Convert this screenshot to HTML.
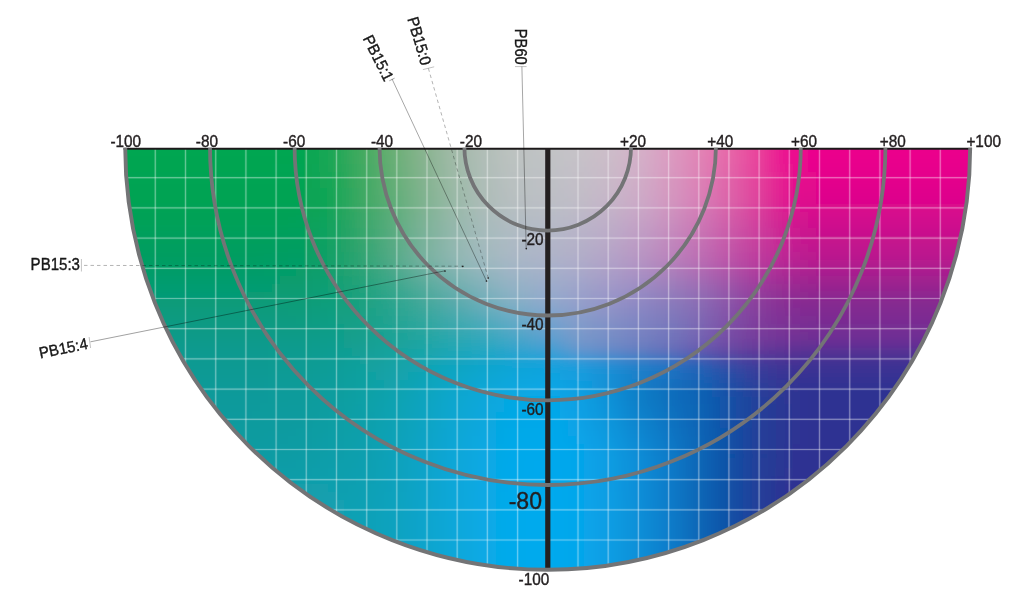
<!DOCTYPE html>
<html><head><meta charset="utf-8"><title>Pigment chart</title>
<style>
html,body{margin:0;padding:0;background:#fff;}
body{width:1024px;height:598px;overflow:hidden;}
svg{display:block;}
.m rect{width:9px;height:9px;}
text{font-family:"Liberation Sans",sans-serif;fill:#1a1a1a;}
.ax text{font-size:16.4px;fill:#231f20;stroke:#231f20;stroke-width:0.4px;}
.pb text{font-size:15.8px;}
</style></head><body>
<svg width="1024" height="598" viewBox="0 0 1024 598">
<defs>
<clipPath id="semi"><path d="M125.2 147.3 A422.5 422.5 0 0 0 970.2 147.3 Z"/></clipPath>
<clipPath id="below"><rect x="0" y="147.8" width="1024" height="460"/></clipPath>
<clipPath id="below2"><rect x="0" y="148.4" width="1024" height="460"/></clipPath>
<filter id="bl" x="-5%" y="-5%" width="110%" height="110%"><feGaussianBlur stdDeviation="5.5"/></filter>
</defs>
<rect width="1024" height="598" fill="#fff"/>
<g clip-path="url(#below2)"><g clip-path="url(#semi)">
<g class="m" filter="url(#bl)" shape-rendering="crispEdges">
<rect x="104" y="124" fill="#00a651"/><rect x="112" y="124" fill="#00a651"/><rect x="120" y="124" fill="#00a651"/><rect x="128" y="124" fill="#00a651"/><rect x="136" y="124" fill="#00a651"/><rect x="144" y="124" fill="#00a651"/><rect x="152" y="124" fill="#00a651"/><rect x="160" y="124" fill="#00a651"/><rect x="168" y="124" fill="#00a651"/><rect x="176" y="124" fill="#00a651"/><rect x="184" y="124" fill="#00a651"/><rect x="192" y="124" fill="#00a651"/><rect x="200" y="124" fill="#00a651"/><rect x="208" y="124" fill="#00a651"/><rect x="216" y="124" fill="#00a651"/><rect x="224" y="124" fill="#00a651"/><rect x="232" y="124" fill="#00a651"/><rect x="240" y="124" fill="#00a651"/><rect x="248" y="124" fill="#00a651"/><rect x="256" y="124" fill="#00a651"/><rect x="264" y="124" fill="#00a651"/><rect x="272" y="124" fill="#00a651"/><rect x="280" y="124" fill="#00a651"/><rect x="288" y="124" fill="#00a651"/><rect x="296" y="124" fill="#00a651"/><rect x="304" y="124" fill="#07a652"/><rect x="312" y="124" fill="#0ea753"/><rect x="320" y="124" fill="#15a754"/><rect x="328" y="124" fill="#1da756"/><rect x="336" y="124" fill="#27a858"/><rect x="344" y="124" fill="#31a95a"/><rect x="352" y="124" fill="#3baa5d"/><rect x="360" y="124" fill="#45ab61"/><rect x="368" y="124" fill="#4fac66"/><rect x="376" y="124" fill="#59ad6b"/><rect x="384" y="124" fill="#63ae71"/><rect x="392" y="124" fill="#6caf77"/><rect x="400" y="124" fill="#74b07e"/><rect x="408" y="124" fill="#7db285"/><rect x="416" y="124" fill="#85b38c"/><rect x="424" y="124" fill="#8cb593"/><rect x="432" y="124" fill="#93b699"/><rect x="440" y="124" fill="#9ab8a0"/><rect x="448" y="124" fill="#a0b9a6"/><rect x="456" y="124" fill="#a4baaa"/><rect x="464" y="124" fill="#a9bbaf"/><rect x="472" y="124" fill="#adbcb3"/><rect x="480" y="124" fill="#b1beb6"/><rect x="488" y="124" fill="#b4bfb9"/><rect x="496" y="124" fill="#b8c0bc"/><rect x="504" y="124" fill="#bbc2bf"/><rect x="512" y="124" fill="#bdc2c1"/><rect x="520" y="124" fill="#bec2c2"/><rect x="528" y="124" fill="#bfc3c3"/><rect x="536" y="124" fill="#c0c3c4"/><rect x="544" y="124" fill="#c1c3c5"/><rect x="552" y="124" fill="#c2c3c6"/><rect x="560" y="124" fill="#c4c2c6"/><rect x="568" y="124" fill="#c6c2c7"/><rect x="576" y="124" fill="#c7c2c8"/><rect x="584" y="124" fill="#c9c1c8"/><rect x="592" y="124" fill="#cabfc9"/><rect x="600" y="124" fill="#ccbec9"/><rect x="608" y="124" fill="#cebcc9"/><rect x="616" y="124" fill="#d0b9c9"/><rect x="624" y="124" fill="#d2b5c8"/><rect x="632" y="124" fill="#d4b2c8"/><rect x="640" y="124" fill="#d6adc7"/><rect x="648" y="124" fill="#d8a8c5"/><rect x="656" y="124" fill="#daa2c3"/><rect x="664" y="124" fill="#dc9cc1"/><rect x="672" y="124" fill="#dd96be"/><rect x="680" y="124" fill="#df90bb"/><rect x="688" y="124" fill="#e089b8"/><rect x="696" y="124" fill="#e283b5"/><rect x="704" y="124" fill="#e37bb2"/><rect x="712" y="124" fill="#e574ae"/><rect x="720" y="124" fill="#e66cab"/><rect x="728" y="124" fill="#e763a7"/><rect x="736" y="124" fill="#e859a3"/><rect x="744" y="124" fill="#e94fa0"/><rect x="752" y="124" fill="#ea459c"/><rect x="760" y="124" fill="#ea3998"/><rect x="768" y="124" fill="#eb2b95"/><rect x="776" y="124" fill="#eb1d92"/><rect x="784" y="124" fill="#ec0f8f"/><rect x="792" y="124" fill="#ec0a8e"/><rect x="800" y="124" fill="#ec068d"/><rect x="808" y="124" fill="#ec038d"/><rect x="816" y="124" fill="#ec008c"/><rect x="824" y="124" fill="#ec008c"/><rect x="832" y="124" fill="#ec008c"/><rect x="840" y="124" fill="#ec008c"/><rect x="848" y="124" fill="#ec008c"/><rect x="856" y="124" fill="#ec008c"/><rect x="864" y="124" fill="#ec008c"/><rect x="872" y="124" fill="#ec008c"/><rect x="880" y="124" fill="#ec008c"/><rect x="888" y="124" fill="#ec008c"/><rect x="896" y="124" fill="#ec008c"/><rect x="904" y="124" fill="#ec008c"/><rect x="912" y="124" fill="#ec008c"/><rect x="920" y="124" fill="#ec008c"/><rect x="928" y="124" fill="#ec008c"/><rect x="936" y="124" fill="#ec008c"/><rect x="944" y="124" fill="#ec008c"/><rect x="952" y="124" fill="#ec008c"/><rect x="960" y="124" fill="#ec008c"/><rect x="968" y="124" fill="#ec008c"/><rect x="976" y="124" fill="#ec008c"/><rect x="984" y="124" fill="#ec008c"/>
<rect x="104" y="132" fill="#00a651"/><rect x="112" y="132" fill="#00a651"/><rect x="120" y="132" fill="#00a651"/><rect x="128" y="132" fill="#00a651"/><rect x="136" y="132" fill="#00a651"/><rect x="144" y="132" fill="#00a651"/><rect x="152" y="132" fill="#00a651"/><rect x="160" y="132" fill="#00a651"/><rect x="168" y="132" fill="#00a651"/><rect x="176" y="132" fill="#00a651"/><rect x="184" y="132" fill="#00a651"/><rect x="192" y="132" fill="#00a651"/><rect x="200" y="132" fill="#00a651"/><rect x="208" y="132" fill="#00a651"/><rect x="216" y="132" fill="#00a651"/><rect x="224" y="132" fill="#00a651"/><rect x="232" y="132" fill="#00a651"/><rect x="240" y="132" fill="#00a651"/><rect x="248" y="132" fill="#00a651"/><rect x="256" y="132" fill="#00a651"/><rect x="264" y="132" fill="#00a651"/><rect x="272" y="132" fill="#00a651"/><rect x="280" y="132" fill="#00a651"/><rect x="288" y="132" fill="#00a651"/><rect x="296" y="132" fill="#00a651"/><rect x="304" y="132" fill="#07a652"/><rect x="312" y="132" fill="#0ea753"/><rect x="320" y="132" fill="#15a754"/><rect x="328" y="132" fill="#1da756"/><rect x="336" y="132" fill="#27a858"/><rect x="344" y="132" fill="#31a95a"/><rect x="352" y="132" fill="#3baa5d"/><rect x="360" y="132" fill="#45ab61"/><rect x="368" y="132" fill="#4fac66"/><rect x="376" y="132" fill="#59ad6b"/><rect x="384" y="132" fill="#63ae71"/><rect x="392" y="132" fill="#6caf77"/><rect x="400" y="132" fill="#74b07e"/><rect x="408" y="132" fill="#7db285"/><rect x="416" y="132" fill="#85b38c"/><rect x="424" y="132" fill="#8cb593"/><rect x="432" y="132" fill="#93b699"/><rect x="440" y="132" fill="#9ab8a0"/><rect x="448" y="132" fill="#a0b9a6"/><rect x="456" y="132" fill="#a4baaa"/><rect x="464" y="132" fill="#a9bbaf"/><rect x="472" y="132" fill="#adbcb3"/><rect x="480" y="132" fill="#b1beb6"/><rect x="488" y="132" fill="#b4bfb9"/><rect x="496" y="132" fill="#b8c0bc"/><rect x="504" y="132" fill="#bbc2bf"/><rect x="512" y="132" fill="#bdc2c1"/><rect x="520" y="132" fill="#bec2c2"/><rect x="528" y="132" fill="#bfc3c3"/><rect x="536" y="132" fill="#c0c3c4"/><rect x="544" y="132" fill="#c1c3c5"/><rect x="552" y="132" fill="#c2c3c6"/><rect x="560" y="132" fill="#c4c2c6"/><rect x="568" y="132" fill="#c6c2c7"/><rect x="576" y="132" fill="#c7c2c8"/><rect x="584" y="132" fill="#c9c1c8"/><rect x="592" y="132" fill="#cabfc9"/><rect x="600" y="132" fill="#ccbec9"/><rect x="608" y="132" fill="#cebcc9"/><rect x="616" y="132" fill="#d0b9c9"/><rect x="624" y="132" fill="#d2b5c8"/><rect x="632" y="132" fill="#d4b2c8"/><rect x="640" y="132" fill="#d6adc7"/><rect x="648" y="132" fill="#d8a8c5"/><rect x="656" y="132" fill="#daa2c3"/><rect x="664" y="132" fill="#dc9cc1"/><rect x="672" y="132" fill="#dd96be"/><rect x="680" y="132" fill="#df90bb"/><rect x="688" y="132" fill="#e089b8"/><rect x="696" y="132" fill="#e283b5"/><rect x="704" y="132" fill="#e37bb2"/><rect x="712" y="132" fill="#e574ae"/><rect x="720" y="132" fill="#e66cab"/><rect x="728" y="132" fill="#e763a7"/><rect x="736" y="132" fill="#e859a3"/><rect x="744" y="132" fill="#e94fa0"/><rect x="752" y="132" fill="#ea459c"/><rect x="760" y="132" fill="#ea3998"/><rect x="768" y="132" fill="#eb2b95"/><rect x="776" y="132" fill="#eb1d92"/><rect x="784" y="132" fill="#ec0f8f"/><rect x="792" y="132" fill="#ec0a8e"/><rect x="800" y="132" fill="#ec068d"/><rect x="808" y="132" fill="#ec038d"/><rect x="816" y="132" fill="#ec008c"/><rect x="824" y="132" fill="#ec008c"/><rect x="832" y="132" fill="#ec008c"/><rect x="840" y="132" fill="#ec008c"/><rect x="848" y="132" fill="#ec008c"/><rect x="856" y="132" fill="#ec008c"/><rect x="864" y="132" fill="#ec008c"/><rect x="872" y="132" fill="#ec008c"/><rect x="880" y="132" fill="#ec008c"/><rect x="888" y="132" fill="#ec008c"/><rect x="896" y="132" fill="#ec008c"/><rect x="904" y="132" fill="#ec008c"/><rect x="912" y="132" fill="#ec008c"/><rect x="920" y="132" fill="#ec008c"/><rect x="928" y="132" fill="#ec008c"/><rect x="936" y="132" fill="#ec008c"/><rect x="944" y="132" fill="#ec008c"/><rect x="952" y="132" fill="#ec008c"/><rect x="960" y="132" fill="#ec008c"/><rect x="968" y="132" fill="#ec008c"/><rect x="976" y="132" fill="#ec008c"/><rect x="984" y="132" fill="#ec008c"/>
<rect x="104" y="140" fill="#00a651"/><rect x="112" y="140" fill="#00a651"/><rect x="120" y="140" fill="#00a651"/><rect x="128" y="140" fill="#00a651"/><rect x="136" y="140" fill="#00a651"/><rect x="144" y="140" fill="#00a651"/><rect x="152" y="140" fill="#00a651"/><rect x="160" y="140" fill="#00a651"/><rect x="168" y="140" fill="#00a651"/><rect x="176" y="140" fill="#00a651"/><rect x="184" y="140" fill="#00a651"/><rect x="192" y="140" fill="#00a651"/><rect x="200" y="140" fill="#00a651"/><rect x="208" y="140" fill="#00a651"/><rect x="216" y="140" fill="#00a651"/><rect x="224" y="140" fill="#00a651"/><rect x="232" y="140" fill="#00a651"/><rect x="240" y="140" fill="#00a651"/><rect x="248" y="140" fill="#00a651"/><rect x="256" y="140" fill="#00a651"/><rect x="264" y="140" fill="#00a651"/><rect x="272" y="140" fill="#00a651"/><rect x="280" y="140" fill="#00a651"/><rect x="288" y="140" fill="#00a651"/><rect x="296" y="140" fill="#00a651"/><rect x="304" y="140" fill="#07a652"/><rect x="312" y="140" fill="#0ea753"/><rect x="320" y="140" fill="#15a754"/><rect x="328" y="140" fill="#1da756"/><rect x="336" y="140" fill="#27a858"/><rect x="344" y="140" fill="#31a95a"/><rect x="352" y="140" fill="#3baa5d"/><rect x="360" y="140" fill="#45ab61"/><rect x="368" y="140" fill="#4fac66"/><rect x="376" y="140" fill="#59ad6b"/><rect x="384" y="140" fill="#63ae71"/><rect x="392" y="140" fill="#6caf77"/><rect x="400" y="140" fill="#74b07e"/><rect x="408" y="140" fill="#7db285"/><rect x="416" y="140" fill="#85b38c"/><rect x="424" y="140" fill="#8cb593"/><rect x="432" y="140" fill="#93b699"/><rect x="440" y="140" fill="#9ab8a0"/><rect x="448" y="140" fill="#a0b9a6"/><rect x="456" y="140" fill="#a4baaa"/><rect x="464" y="140" fill="#a9bbaf"/><rect x="472" y="140" fill="#adbcb3"/><rect x="480" y="140" fill="#b1beb6"/><rect x="488" y="140" fill="#b4bfb9"/><rect x="496" y="140" fill="#b8c0bc"/><rect x="504" y="140" fill="#bbc2bf"/><rect x="512" y="140" fill="#bdc2c1"/><rect x="520" y="140" fill="#bec2c2"/><rect x="528" y="140" fill="#bfc3c3"/><rect x="536" y="140" fill="#c0c3c4"/><rect x="544" y="140" fill="#c1c3c5"/><rect x="552" y="140" fill="#c2c3c6"/><rect x="560" y="140" fill="#c4c2c6"/><rect x="568" y="140" fill="#c6c2c7"/><rect x="576" y="140" fill="#c7c2c8"/><rect x="584" y="140" fill="#c9c1c8"/><rect x="592" y="140" fill="#cabfc9"/><rect x="600" y="140" fill="#ccbec9"/><rect x="608" y="140" fill="#cebcc9"/><rect x="616" y="140" fill="#d0b9c9"/><rect x="624" y="140" fill="#d2b5c8"/><rect x="632" y="140" fill="#d4b2c8"/><rect x="640" y="140" fill="#d6adc7"/><rect x="648" y="140" fill="#d8a8c5"/><rect x="656" y="140" fill="#daa2c3"/><rect x="664" y="140" fill="#dc9cc1"/><rect x="672" y="140" fill="#dd96be"/><rect x="680" y="140" fill="#df90bb"/><rect x="688" y="140" fill="#e089b8"/><rect x="696" y="140" fill="#e283b5"/><rect x="704" y="140" fill="#e37bb2"/><rect x="712" y="140" fill="#e574ae"/><rect x="720" y="140" fill="#e66cab"/><rect x="728" y="140" fill="#e763a7"/><rect x="736" y="140" fill="#e859a3"/><rect x="744" y="140" fill="#e94fa0"/><rect x="752" y="140" fill="#ea459c"/><rect x="760" y="140" fill="#ea3998"/><rect x="768" y="140" fill="#eb2b95"/><rect x="776" y="140" fill="#eb1d92"/><rect x="784" y="140" fill="#ec0f8f"/><rect x="792" y="140" fill="#ec0a8e"/><rect x="800" y="140" fill="#ec068d"/><rect x="808" y="140" fill="#ec038d"/><rect x="816" y="140" fill="#ec008c"/><rect x="824" y="140" fill="#ec008c"/><rect x="832" y="140" fill="#ec008c"/><rect x="840" y="140" fill="#ec008c"/><rect x="848" y="140" fill="#ec008c"/><rect x="856" y="140" fill="#ec008c"/><rect x="864" y="140" fill="#ec008c"/><rect x="872" y="140" fill="#ec008c"/><rect x="880" y="140" fill="#ec008c"/><rect x="888" y="140" fill="#ec008c"/><rect x="896" y="140" fill="#ec008c"/><rect x="904" y="140" fill="#ec008c"/><rect x="912" y="140" fill="#ec008c"/><rect x="920" y="140" fill="#ec008c"/><rect x="928" y="140" fill="#ec008c"/><rect x="936" y="140" fill="#ec008c"/><rect x="944" y="140" fill="#ec008c"/><rect x="952" y="140" fill="#ec008c"/><rect x="960" y="140" fill="#ec008c"/><rect x="968" y="140" fill="#ec008c"/><rect x="976" y="140" fill="#ec008c"/><rect x="984" y="140" fill="#ec008c"/>
<rect x="104" y="148" fill="#00a651"/><rect x="112" y="148" fill="#00a651"/><rect x="120" y="148" fill="#00a651"/><rect x="128" y="148" fill="#00a651"/><rect x="136" y="148" fill="#00a651"/><rect x="144" y="148" fill="#00a651"/><rect x="152" y="148" fill="#00a651"/><rect x="160" y="148" fill="#00a651"/><rect x="168" y="148" fill="#00a651"/><rect x="176" y="148" fill="#00a651"/><rect x="184" y="148" fill="#00a651"/><rect x="192" y="148" fill="#00a651"/><rect x="200" y="148" fill="#00a651"/><rect x="208" y="148" fill="#00a651"/><rect x="216" y="148" fill="#00a651"/><rect x="224" y="148" fill="#00a651"/><rect x="232" y="148" fill="#00a651"/><rect x="240" y="148" fill="#00a651"/><rect x="248" y="148" fill="#00a651"/><rect x="256" y="148" fill="#00a651"/><rect x="264" y="148" fill="#00a651"/><rect x="272" y="148" fill="#00a651"/><rect x="280" y="148" fill="#00a651"/><rect x="288" y="148" fill="#00a651"/><rect x="296" y="148" fill="#00a651"/><rect x="304" y="148" fill="#07a652"/><rect x="312" y="148" fill="#0ea653"/><rect x="320" y="148" fill="#15a754"/><rect x="328" y="148" fill="#1ca756"/><rect x="336" y="148" fill="#26a858"/><rect x="344" y="148" fill="#31a95b"/><rect x="352" y="148" fill="#3baa5d"/><rect x="360" y="148" fill="#45aa61"/><rect x="368" y="148" fill="#4fac66"/><rect x="376" y="148" fill="#59ad6b"/><rect x="384" y="148" fill="#63ae71"/><rect x="392" y="148" fill="#6caf77"/><rect x="400" y="148" fill="#74b07e"/><rect x="408" y="148" fill="#7cb285"/><rect x="416" y="148" fill="#85b38c"/><rect x="424" y="148" fill="#8cb593"/><rect x="432" y="148" fill="#93b699"/><rect x="440" y="148" fill="#99b8a0"/><rect x="448" y="148" fill="#a0b9a6"/><rect x="456" y="148" fill="#a4baaa"/><rect x="464" y="148" fill="#a8bbaf"/><rect x="472" y="148" fill="#adbcb3"/><rect x="480" y="148" fill="#b1beb7"/><rect x="488" y="148" fill="#b4bfb9"/><rect x="496" y="148" fill="#b7c0bc"/><rect x="504" y="148" fill="#bbc2bf"/><rect x="512" y="148" fill="#bdc2c1"/><rect x="520" y="148" fill="#bec2c2"/><rect x="528" y="148" fill="#bfc2c3"/><rect x="536" y="148" fill="#c0c3c4"/><rect x="544" y="148" fill="#c1c3c5"/><rect x="552" y="148" fill="#c2c3c6"/><rect x="560" y="148" fill="#c4c2c6"/><rect x="568" y="148" fill="#c5c2c7"/><rect x="576" y="148" fill="#c7c2c8"/><rect x="584" y="148" fill="#c8c0c8"/><rect x="592" y="148" fill="#cabfc8"/><rect x="600" y="148" fill="#ccbec9"/><rect x="608" y="148" fill="#cdbcc9"/><rect x="616" y="148" fill="#cfb8c9"/><rect x="624" y="148" fill="#d1b5c8"/><rect x="632" y="148" fill="#d4b1c8"/><rect x="640" y="148" fill="#d6adc7"/><rect x="648" y="148" fill="#d7a7c5"/><rect x="656" y="148" fill="#d9a2c3"/><rect x="664" y="148" fill="#db9cc1"/><rect x="672" y="148" fill="#dd96be"/><rect x="680" y="148" fill="#de90bb"/><rect x="688" y="148" fill="#e089b8"/><rect x="696" y="148" fill="#e283b5"/><rect x="704" y="148" fill="#e37bb2"/><rect x="712" y="148" fill="#e473ae"/><rect x="720" y="148" fill="#e66cab"/><rect x="728" y="148" fill="#e763a7"/><rect x="736" y="148" fill="#e859a3"/><rect x="744" y="148" fill="#e84fa0"/><rect x="752" y="148" fill="#e9459c"/><rect x="760" y="148" fill="#ea3998"/><rect x="768" y="148" fill="#ea2b95"/><rect x="776" y="148" fill="#eb1e92"/><rect x="784" y="148" fill="#eb108f"/><rect x="792" y="148" fill="#ec0a8e"/><rect x="800" y="148" fill="#eb078d"/><rect x="808" y="148" fill="#eb038d"/><rect x="816" y="148" fill="#eb008c"/><rect x="824" y="148" fill="#eb008c"/><rect x="832" y="148" fill="#eb008c"/><rect x="840" y="148" fill="#eb008c"/><rect x="848" y="148" fill="#eb008c"/><rect x="856" y="148" fill="#eb008c"/><rect x="864" y="148" fill="#eb008c"/><rect x="872" y="148" fill="#eb008c"/><rect x="880" y="148" fill="#eb008c"/><rect x="888" y="148" fill="#eb008c"/><rect x="896" y="148" fill="#eb008c"/><rect x="904" y="148" fill="#eb008c"/><rect x="912" y="148" fill="#eb008c"/><rect x="920" y="148" fill="#eb008c"/><rect x="928" y="148" fill="#eb008c"/><rect x="936" y="148" fill="#eb008c"/><rect x="944" y="148" fill="#eb008c"/><rect x="952" y="148" fill="#eb008c"/><rect x="960" y="148" fill="#eb008c"/><rect x="968" y="148" fill="#eb008c"/><rect x="976" y="148" fill="#eb008c"/><rect x="984" y="148" fill="#eb008c"/>
<rect x="104" y="156" fill="#00a551"/><rect x="112" y="156" fill="#00a551"/><rect x="120" y="156" fill="#00a551"/><rect x="128" y="156" fill="#00a551"/><rect x="136" y="156" fill="#00a551"/><rect x="144" y="156" fill="#00a551"/><rect x="152" y="156" fill="#00a551"/><rect x="160" y="156" fill="#00a551"/><rect x="168" y="156" fill="#00a551"/><rect x="176" y="156" fill="#00a551"/><rect x="184" y="156" fill="#00a551"/><rect x="192" y="156" fill="#00a551"/><rect x="200" y="156" fill="#00a551"/><rect x="208" y="156" fill="#00a551"/><rect x="216" y="156" fill="#00a551"/><rect x="224" y="156" fill="#00a551"/><rect x="232" y="156" fill="#00a551"/><rect x="240" y="156" fill="#00a551"/><rect x="248" y="156" fill="#00a551"/><rect x="256" y="156" fill="#00a551"/><rect x="264" y="156" fill="#00a551"/><rect x="272" y="156" fill="#00a551"/><rect x="280" y="156" fill="#01a551"/><rect x="288" y="156" fill="#01a551"/><rect x="296" y="156" fill="#01a551"/><rect x="304" y="156" fill="#07a652"/><rect x="312" y="156" fill="#0ea653"/><rect x="320" y="156" fill="#14a654"/><rect x="328" y="156" fill="#1ba756"/><rect x="336" y="156" fill="#25a858"/><rect x="344" y="156" fill="#30a85b"/><rect x="352" y="156" fill="#3aa95e"/><rect x="360" y="156" fill="#44aa61"/><rect x="368" y="156" fill="#4eab67"/><rect x="376" y="156" fill="#58ac6c"/><rect x="384" y="156" fill="#62ae71"/><rect x="392" y="156" fill="#6aaf78"/><rect x="400" y="156" fill="#73b07e"/><rect x="408" y="156" fill="#7bb185"/><rect x="416" y="156" fill="#83b38c"/><rect x="424" y="156" fill="#8ab493"/><rect x="432" y="156" fill="#91b699"/><rect x="440" y="156" fill="#98b8a0"/><rect x="448" y="156" fill="#9eb9a6"/><rect x="456" y="156" fill="#a3baaa"/><rect x="464" y="156" fill="#a7bbaf"/><rect x="472" y="156" fill="#acbcb3"/><rect x="480" y="156" fill="#b0bdb7"/><rect x="488" y="156" fill="#b3bfba"/><rect x="496" y="156" fill="#b7c0bc"/><rect x="504" y="156" fill="#bac1bf"/><rect x="512" y="156" fill="#bcc2c1"/><rect x="520" y="156" fill="#bdc2c2"/><rect x="528" y="156" fill="#bec2c3"/><rect x="536" y="156" fill="#bfc2c4"/><rect x="544" y="156" fill="#c0c2c5"/><rect x="552" y="156" fill="#c1c2c6"/><rect x="560" y="156" fill="#c3c2c6"/><rect x="568" y="156" fill="#c4c1c7"/><rect x="576" y="156" fill="#c6c1c8"/><rect x="584" y="156" fill="#c7bfc8"/><rect x="592" y="156" fill="#c9bec8"/><rect x="600" y="156" fill="#cabcc9"/><rect x="608" y="156" fill="#ccbbc9"/><rect x="616" y="156" fill="#ceb7c8"/><rect x="624" y="156" fill="#d0b4c8"/><rect x="632" y="156" fill="#d2b0c8"/><rect x="640" y="156" fill="#d4acc7"/><rect x="648" y="156" fill="#d6a7c5"/><rect x="656" y="156" fill="#d8a1c3"/><rect x="664" y="156" fill="#da9cc1"/><rect x="672" y="156" fill="#db95be"/><rect x="680" y="156" fill="#dd8fbb"/><rect x="688" y="156" fill="#de89b8"/><rect x="696" y="156" fill="#e082b5"/><rect x="704" y="156" fill="#e17ab2"/><rect x="712" y="156" fill="#e373ae"/><rect x="720" y="156" fill="#e46bab"/><rect x="728" y="156" fill="#e563a7"/><rect x="736" y="156" fill="#e659a4"/><rect x="744" y="156" fill="#e74fa0"/><rect x="752" y="156" fill="#e7459c"/><rect x="760" y="156" fill="#e83999"/><rect x="768" y="156" fill="#e92c95"/><rect x="776" y="156" fill="#e91e92"/><rect x="784" y="156" fill="#e9118f"/><rect x="792" y="156" fill="#ea0b8e"/><rect x="800" y="156" fill="#e9088d"/><rect x="808" y="156" fill="#e9058d"/><rect x="816" y="156" fill="#e9018c"/><rect x="824" y="156" fill="#e9018c"/><rect x="832" y="156" fill="#e9018c"/><rect x="840" y="156" fill="#e9018c"/><rect x="848" y="156" fill="#e9018c"/><rect x="856" y="156" fill="#e9018c"/><rect x="864" y="156" fill="#e9018c"/><rect x="872" y="156" fill="#e9018c"/><rect x="880" y="156" fill="#e9018c"/><rect x="888" y="156" fill="#e9018c"/><rect x="896" y="156" fill="#e9018c"/><rect x="904" y="156" fill="#e9018c"/><rect x="912" y="156" fill="#e9018c"/><rect x="920" y="156" fill="#e9018c"/><rect x="928" y="156" fill="#e9018c"/><rect x="936" y="156" fill="#e9018c"/><rect x="944" y="156" fill="#e9018c"/><rect x="952" y="156" fill="#e9018c"/><rect x="960" y="156" fill="#e9018c"/><rect x="968" y="156" fill="#e9018c"/><rect x="976" y="156" fill="#e9018c"/><rect x="984" y="156" fill="#e9018c"/>
<rect x="104" y="164" fill="#00a551"/><rect x="112" y="164" fill="#00a551"/><rect x="120" y="164" fill="#00a551"/><rect x="128" y="164" fill="#00a551"/><rect x="136" y="164" fill="#00a551"/><rect x="144" y="164" fill="#00a551"/><rect x="152" y="164" fill="#00a551"/><rect x="160" y="164" fill="#00a551"/><rect x="168" y="164" fill="#00a551"/><rect x="176" y="164" fill="#00a551"/><rect x="184" y="164" fill="#00a551"/><rect x="192" y="164" fill="#00a551"/><rect x="200" y="164" fill="#00a551"/><rect x="208" y="164" fill="#00a551"/><rect x="216" y="164" fill="#00a551"/><rect x="224" y="164" fill="#00a551"/><rect x="232" y="164" fill="#00a551"/><rect x="240" y="164" fill="#00a551"/><rect x="248" y="164" fill="#00a551"/><rect x="256" y="164" fill="#00a551"/><rect x="264" y="164" fill="#01a551"/><rect x="272" y="164" fill="#01a552"/><rect x="280" y="164" fill="#01a552"/><rect x="288" y="164" fill="#01a552"/><rect x="296" y="164" fill="#01a552"/><rect x="304" y="164" fill="#07a553"/><rect x="312" y="164" fill="#0da654"/><rect x="320" y="164" fill="#13a655"/><rect x="328" y="164" fill="#1aa656"/><rect x="336" y="164" fill="#25a759"/><rect x="344" y="164" fill="#2fa85b"/><rect x="352" y="164" fill="#39a95e"/><rect x="360" y="164" fill="#43aa62"/><rect x="368" y="164" fill="#4cab67"/><rect x="376" y="164" fill="#56ac6c"/><rect x="384" y="164" fill="#60ad71"/><rect x="392" y="164" fill="#69af78"/><rect x="400" y="164" fill="#71b07f"/><rect x="408" y="164" fill="#79b185"/><rect x="416" y="164" fill="#82b38c"/><rect x="424" y="164" fill="#89b493"/><rect x="432" y="164" fill="#90b699"/><rect x="440" y="164" fill="#97b7a0"/><rect x="448" y="164" fill="#9db9a6"/><rect x="456" y="164" fill="#a2baaa"/><rect x="464" y="164" fill="#a6bbaf"/><rect x="472" y="164" fill="#abbcb3"/><rect x="480" y="164" fill="#afbdb7"/><rect x="488" y="164" fill="#b3beba"/><rect x="496" y="164" fill="#b6bfbc"/><rect x="504" y="164" fill="#b9c1bf"/><rect x="512" y="164" fill="#bbc1c1"/><rect x="520" y="164" fill="#bcc1c2"/><rect x="528" y="164" fill="#bdc1c3"/><rect x="536" y="164" fill="#bec1c4"/><rect x="544" y="164" fill="#bfc2c5"/><rect x="552" y="164" fill="#c1c1c6"/><rect x="560" y="164" fill="#c2c1c6"/><rect x="568" y="164" fill="#c3c0c7"/><rect x="576" y="164" fill="#c5c0c8"/><rect x="584" y="164" fill="#c6bec8"/><rect x="592" y="164" fill="#c8bdc8"/><rect x="600" y="164" fill="#c9bbc8"/><rect x="608" y="164" fill="#cbb9c9"/><rect x="616" y="164" fill="#cdb6c8"/><rect x="624" y="164" fill="#cfb3c8"/><rect x="632" y="164" fill="#d1afc8"/><rect x="640" y="164" fill="#d3abc7"/><rect x="648" y="164" fill="#d5a6c5"/><rect x="656" y="164" fill="#d7a0c3"/><rect x="664" y="164" fill="#d89bc1"/><rect x="672" y="164" fill="#da95be"/><rect x="680" y="164" fill="#db8ebb"/><rect x="688" y="164" fill="#dd88b8"/><rect x="696" y="164" fill="#de82b5"/><rect x="704" y="164" fill="#e07ab2"/><rect x="712" y="164" fill="#e172ae"/><rect x="720" y="164" fill="#e26aab"/><rect x="728" y="164" fill="#e362a7"/><rect x="736" y="164" fill="#e458a4"/><rect x="744" y="164" fill="#e54ea0"/><rect x="752" y="164" fill="#e6459c"/><rect x="760" y="164" fill="#e63999"/><rect x="768" y="164" fill="#e72c95"/><rect x="776" y="164" fill="#e71f92"/><rect x="784" y="164" fill="#e8128f"/><rect x="792" y="164" fill="#e80c8e"/><rect x="800" y="164" fill="#e7098d"/><rect x="808" y="164" fill="#e7068d"/><rect x="816" y="164" fill="#e7028c"/><rect x="824" y="164" fill="#e7028c"/><rect x="832" y="164" fill="#e7028c"/><rect x="840" y="164" fill="#e7028c"/><rect x="848" y="164" fill="#e7028c"/><rect x="856" y="164" fill="#e7028c"/><rect x="864" y="164" fill="#e7028c"/><rect x="872" y="164" fill="#e7028c"/><rect x="880" y="164" fill="#e7028c"/><rect x="888" y="164" fill="#e7028c"/><rect x="896" y="164" fill="#e7028c"/><rect x="904" y="164" fill="#e7028c"/><rect x="912" y="164" fill="#e7028c"/><rect x="920" y="164" fill="#e7028c"/><rect x="928" y="164" fill="#e7028c"/><rect x="936" y="164" fill="#e7028c"/><rect x="944" y="164" fill="#e7028c"/><rect x="952" y="164" fill="#e7028c"/><rect x="960" y="164" fill="#e7028c"/><rect x="968" y="164" fill="#e7028c"/><rect x="976" y="164" fill="#e7028c"/><rect x="984" y="164" fill="#e7028c"/>
<rect x="104" y="172" fill="#00a452"/><rect x="112" y="172" fill="#00a452"/><rect x="120" y="172" fill="#00a452"/><rect x="128" y="172" fill="#00a452"/><rect x="136" y="172" fill="#00a452"/><rect x="144" y="172" fill="#00a452"/><rect x="152" y="172" fill="#00a452"/><rect x="160" y="172" fill="#00a452"/><rect x="168" y="172" fill="#00a452"/><rect x="176" y="172" fill="#00a452"/><rect x="184" y="172" fill="#00a452"/><rect x="192" y="172" fill="#00a452"/><rect x="200" y="172" fill="#00a452"/><rect x="208" y="172" fill="#00a452"/><rect x="216" y="172" fill="#00a452"/><rect x="224" y="172" fill="#00a452"/><rect x="232" y="172" fill="#00a452"/><rect x="240" y="172" fill="#00a452"/><rect x="248" y="172" fill="#00a452"/><rect x="256" y="172" fill="#00a452"/><rect x="264" y="172" fill="#01a452"/><rect x="272" y="172" fill="#01a452"/><rect x="280" y="172" fill="#01a452"/><rect x="288" y="172" fill="#02a452"/><rect x="296" y="172" fill="#02a452"/><rect x="304" y="172" fill="#08a553"/><rect x="312" y="172" fill="#0da554"/><rect x="320" y="172" fill="#13a655"/><rect x="328" y="172" fill="#19a656"/><rect x="336" y="172" fill="#24a759"/><rect x="344" y="172" fill="#2ea85c"/><rect x="352" y="172" fill="#38a95f"/><rect x="360" y="172" fill="#42aa63"/><rect x="368" y="172" fill="#4bab68"/><rect x="376" y="172" fill="#55ac6d"/><rect x="384" y="172" fill="#5ead72"/><rect x="392" y="172" fill="#67ae78"/><rect x="400" y="172" fill="#70b07f"/><rect x="408" y="172" fill="#78b185"/><rect x="416" y="172" fill="#80b28c"/><rect x="424" y="172" fill="#87b493"/><rect x="432" y="172" fill="#8eb699"/><rect x="440" y="172" fill="#95b7a0"/><rect x="448" y="172" fill="#9cb9a6"/><rect x="456" y="172" fill="#a1baaa"/><rect x="464" y="172" fill="#a5bbaf"/><rect x="472" y="172" fill="#aabcb3"/><rect x="480" y="172" fill="#afbdb7"/><rect x="488" y="172" fill="#b2beba"/><rect x="496" y="172" fill="#b5bfbd"/><rect x="504" y="172" fill="#b9c0bf"/><rect x="512" y="172" fill="#bac1c1"/><rect x="520" y="172" fill="#bbc1c2"/><rect x="528" y="172" fill="#bcc1c3"/><rect x="536" y="172" fill="#bdc1c4"/><rect x="544" y="172" fill="#bec1c5"/><rect x="552" y="172" fill="#c0c0c6"/><rect x="560" y="172" fill="#c1c0c6"/><rect x="568" y="172" fill="#c3bfc7"/><rect x="576" y="172" fill="#c4bfc7"/><rect x="584" y="172" fill="#c5bdc8"/><rect x="592" y="172" fill="#c7bcc8"/><rect x="600" y="172" fill="#c8bac8"/><rect x="608" y="172" fill="#cab8c8"/><rect x="616" y="172" fill="#ccb5c8"/><rect x="624" y="172" fill="#ceb2c8"/><rect x="632" y="172" fill="#d0aec8"/><rect x="640" y="172" fill="#d2aac6"/><rect x="648" y="172" fill="#d3a5c4"/><rect x="656" y="172" fill="#d5a0c2"/><rect x="664" y="172" fill="#d79ac0"/><rect x="672" y="172" fill="#d894be"/><rect x="680" y="172" fill="#da8ebb"/><rect x="688" y="172" fill="#db87b8"/><rect x="696" y="172" fill="#dd81b6"/><rect x="704" y="172" fill="#de79b2"/><rect x="712" y="172" fill="#df71af"/><rect x="720" y="172" fill="#e06aab"/><rect x="728" y="172" fill="#e161a8"/><rect x="736" y="172" fill="#e258a4"/><rect x="744" y="172" fill="#e34ea0"/><rect x="752" y="172" fill="#e4449c"/><rect x="760" y="172" fill="#e43999"/><rect x="768" y="172" fill="#e52d96"/><rect x="776" y="172" fill="#e52092"/><rect x="784" y="172" fill="#e6138f"/><rect x="792" y="172" fill="#e60e8e"/><rect x="800" y="172" fill="#e50a8d"/><rect x="808" y="172" fill="#e5078d"/><rect x="816" y="172" fill="#e5038c"/><rect x="824" y="172" fill="#e5038c"/><rect x="832" y="172" fill="#e5038c"/><rect x="840" y="172" fill="#e5038c"/><rect x="848" y="172" fill="#e5038c"/><rect x="856" y="172" fill="#e5038c"/><rect x="864" y="172" fill="#e5038c"/><rect x="872" y="172" fill="#e5038c"/><rect x="880" y="172" fill="#e5038c"/><rect x="888" y="172" fill="#e5038c"/><rect x="896" y="172" fill="#e5038c"/><rect x="904" y="172" fill="#e5038c"/><rect x="912" y="172" fill="#e5038c"/><rect x="920" y="172" fill="#e5038c"/><rect x="928" y="172" fill="#e5038c"/><rect x="936" y="172" fill="#e5038c"/><rect x="944" y="172" fill="#e5038c"/><rect x="952" y="172" fill="#e5038c"/><rect x="960" y="172" fill="#e5038c"/><rect x="968" y="172" fill="#e5038c"/><rect x="976" y="172" fill="#e5038c"/><rect x="984" y="172" fill="#e5038c"/>
<rect x="104" y="180" fill="#00a452"/><rect x="112" y="180" fill="#00a452"/><rect x="120" y="180" fill="#00a452"/><rect x="128" y="180" fill="#00a452"/><rect x="136" y="180" fill="#00a452"/><rect x="144" y="180" fill="#00a452"/><rect x="152" y="180" fill="#00a452"/><rect x="160" y="180" fill="#00a452"/><rect x="168" y="180" fill="#00a452"/><rect x="176" y="180" fill="#00a452"/><rect x="184" y="180" fill="#00a452"/><rect x="192" y="180" fill="#00a452"/><rect x="200" y="180" fill="#00a452"/><rect x="208" y="180" fill="#00a452"/><rect x="216" y="180" fill="#00a452"/><rect x="224" y="180" fill="#00a452"/><rect x="232" y="180" fill="#00a452"/><rect x="240" y="180" fill="#00a452"/><rect x="248" y="180" fill="#00a452"/><rect x="256" y="180" fill="#01a452"/><rect x="264" y="180" fill="#01a452"/><rect x="272" y="180" fill="#01a452"/><rect x="280" y="180" fill="#02a452"/><rect x="288" y="180" fill="#02a452"/><rect x="296" y="180" fill="#03a452"/><rect x="304" y="180" fill="#08a453"/><rect x="312" y="180" fill="#0da554"/><rect x="320" y="180" fill="#12a555"/><rect x="328" y="180" fill="#18a656"/><rect x="336" y="180" fill="#23a759"/><rect x="344" y="180" fill="#2da75c"/><rect x="352" y="180" fill="#37a85f"/><rect x="360" y="180" fill="#41a963"/><rect x="368" y="180" fill="#4aab68"/><rect x="376" y="180" fill="#53ac6d"/><rect x="384" y="180" fill="#5dad72"/><rect x="392" y="180" fill="#66ae78"/><rect x="400" y="180" fill="#6eb07f"/><rect x="408" y="180" fill="#76b185"/><rect x="416" y="180" fill="#7fb28c"/><rect x="424" y="180" fill="#86b492"/><rect x="432" y="180" fill="#8db699"/><rect x="440" y="180" fill="#94b79f"/><rect x="448" y="180" fill="#9ab9a5"/><rect x="456" y="180" fill="#9fbaaa"/><rect x="464" y="180" fill="#a5bbaf"/><rect x="472" y="180" fill="#aabcb3"/><rect x="480" y="180" fill="#aebdb7"/><rect x="488" y="180" fill="#b1beba"/><rect x="496" y="180" fill="#b4bfbd"/><rect x="504" y="180" fill="#b8c0bf"/><rect x="512" y="180" fill="#b9c0c1"/><rect x="520" y="180" fill="#bac0c2"/><rect x="528" y="180" fill="#bbc0c3"/><rect x="536" y="180" fill="#bdc0c4"/><rect x="544" y="180" fill="#bec0c5"/><rect x="552" y="180" fill="#bfc0c6"/><rect x="560" y="180" fill="#c0bfc6"/><rect x="568" y="180" fill="#c2bfc7"/><rect x="576" y="180" fill="#c3bec7"/><rect x="584" y="180" fill="#c4bcc8"/><rect x="592" y="180" fill="#c6bbc8"/><rect x="600" y="180" fill="#c7b9c8"/><rect x="608" y="180" fill="#c9b7c8"/><rect x="616" y="180" fill="#cbb4c8"/><rect x="624" y="180" fill="#cdb1c8"/><rect x="632" y="180" fill="#cfadc7"/><rect x="640" y="180" fill="#d0a9c6"/><rect x="648" y="180" fill="#d2a4c4"/><rect x="656" y="180" fill="#d49fc2"/><rect x="664" y="180" fill="#d59ac0"/><rect x="672" y="180" fill="#d793be"/><rect x="680" y="180" fill="#d88dbb"/><rect x="688" y="180" fill="#da87b8"/><rect x="696" y="180" fill="#db80b6"/><rect x="704" y="180" fill="#dc79b2"/><rect x="712" y="180" fill="#de71af"/><rect x="720" y="180" fill="#df69ab"/><rect x="728" y="180" fill="#e061a8"/><rect x="736" y="180" fill="#e157a4"/><rect x="744" y="180" fill="#e14ea0"/><rect x="752" y="180" fill="#e2449d"/><rect x="760" y="180" fill="#e33999"/><rect x="768" y="180" fill="#e32d96"/><rect x="776" y="180" fill="#e32192"/><rect x="784" y="180" fill="#e4148f"/><rect x="792" y="180" fill="#e40f8e"/><rect x="800" y="180" fill="#e30b8d"/><rect x="808" y="180" fill="#e3088d"/><rect x="816" y="180" fill="#e2048c"/><rect x="824" y="180" fill="#e2048c"/><rect x="832" y="180" fill="#e2048c"/><rect x="840" y="180" fill="#e2048c"/><rect x="848" y="180" fill="#e2048c"/><rect x="856" y="180" fill="#e2048c"/><rect x="864" y="180" fill="#e2048c"/><rect x="872" y="180" fill="#e2048c"/><rect x="880" y="180" fill="#e2048c"/><rect x="888" y="180" fill="#e2048c"/><rect x="896" y="180" fill="#e2048c"/><rect x="904" y="180" fill="#e2048c"/><rect x="912" y="180" fill="#e2048c"/><rect x="920" y="180" fill="#e2048c"/><rect x="928" y="180" fill="#e2048c"/><rect x="936" y="180" fill="#e2048c"/><rect x="944" y="180" fill="#e2048c"/><rect x="952" y="180" fill="#e2048c"/><rect x="960" y="180" fill="#e2048c"/><rect x="968" y="180" fill="#e2048c"/><rect x="976" y="180" fill="#e2048c"/><rect x="984" y="180" fill="#e2048c"/>
<rect x="104" y="188" fill="#00a352"/><rect x="112" y="188" fill="#00a352"/><rect x="120" y="188" fill="#00a352"/><rect x="128" y="188" fill="#00a352"/><rect x="136" y="188" fill="#00a352"/><rect x="144" y="188" fill="#00a352"/><rect x="152" y="188" fill="#00a352"/><rect x="160" y="188" fill="#00a352"/><rect x="168" y="188" fill="#00a352"/><rect x="176" y="188" fill="#00a352"/><rect x="184" y="188" fill="#00a352"/><rect x="192" y="188" fill="#00a352"/><rect x="200" y="188" fill="#00a352"/><rect x="208" y="188" fill="#00a352"/><rect x="216" y="188" fill="#00a352"/><rect x="224" y="188" fill="#00a352"/><rect x="232" y="188" fill="#00a352"/><rect x="240" y="188" fill="#00a352"/><rect x="248" y="188" fill="#00a352"/><rect x="256" y="188" fill="#01a352"/><rect x="264" y="188" fill="#01a352"/><rect x="272" y="188" fill="#02a352"/><rect x="280" y="188" fill="#02a352"/><rect x="288" y="188" fill="#03a353"/><rect x="296" y="188" fill="#03a353"/><rect x="304" y="188" fill="#08a454"/><rect x="312" y="188" fill="#0da454"/><rect x="320" y="188" fill="#11a555"/><rect x="328" y="188" fill="#17a657"/><rect x="336" y="188" fill="#22a65a"/><rect x="344" y="188" fill="#2ca75d"/><rect x="352" y="188" fill="#36a860"/><rect x="360" y="188" fill="#40a964"/><rect x="368" y="188" fill="#49aa69"/><rect x="376" y="188" fill="#52ac6e"/><rect x="384" y="188" fill="#5bad72"/><rect x="392" y="188" fill="#64ae79"/><rect x="400" y="188" fill="#6caf7f"/><rect x="408" y="188" fill="#75b186"/><rect x="416" y="188" fill="#7db28c"/><rect x="424" y="188" fill="#84b492"/><rect x="432" y="188" fill="#8bb599"/><rect x="440" y="188" fill="#92b79f"/><rect x="448" y="188" fill="#99b8a5"/><rect x="456" y="188" fill="#9eb9aa"/><rect x="464" y="188" fill="#a4bbaf"/><rect x="472" y="188" fill="#a9bcb3"/><rect x="480" y="188" fill="#adbdb7"/><rect x="488" y="188" fill="#b1bdba"/><rect x="496" y="188" fill="#b4bebd"/><rect x="504" y="188" fill="#b7bfbf"/><rect x="512" y="188" fill="#b9c0c1"/><rect x="520" y="188" fill="#bac0c2"/><rect x="528" y="188" fill="#bbc0c3"/><rect x="536" y="188" fill="#bcc0c4"/><rect x="544" y="188" fill="#bdc0c5"/><rect x="552" y="188" fill="#bebfc6"/><rect x="560" y="188" fill="#bfbec6"/><rect x="568" y="188" fill="#c1bec7"/><rect x="576" y="188" fill="#c2bdc7"/><rect x="584" y="188" fill="#c3bbc7"/><rect x="592" y="188" fill="#c5b9c8"/><rect x="600" y="188" fill="#c6b8c8"/><rect x="608" y="188" fill="#c8b6c8"/><rect x="616" y="188" fill="#cab3c8"/><rect x="624" y="188" fill="#cbafc8"/><rect x="632" y="188" fill="#cdacc7"/><rect x="640" y="188" fill="#cfa8c6"/><rect x="648" y="188" fill="#d1a3c4"/><rect x="656" y="188" fill="#d29ec2"/><rect x="664" y="188" fill="#d499c0"/><rect x="672" y="188" fill="#d593be"/><rect x="680" y="188" fill="#d78cbb"/><rect x="688" y="188" fill="#d886b9"/><rect x="696" y="188" fill="#da80b6"/><rect x="704" y="188" fill="#db78b2"/><rect x="712" y="188" fill="#dc70af"/><rect x="720" y="188" fill="#dd68ab"/><rect x="728" y="188" fill="#de60a8"/><rect x="736" y="188" fill="#df57a4"/><rect x="744" y="188" fill="#e04da0"/><rect x="752" y="188" fill="#e0449d"/><rect x="760" y="188" fill="#e13999"/><rect x="768" y="188" fill="#e12d96"/><rect x="776" y="188" fill="#e22292"/><rect x="784" y="188" fill="#e2168f"/><rect x="792" y="188" fill="#e2108e"/><rect x="800" y="188" fill="#e10c8d"/><rect x="808" y="188" fill="#e1098d"/><rect x="816" y="188" fill="#e0058c"/><rect x="824" y="188" fill="#e0058c"/><rect x="832" y="188" fill="#e0058c"/><rect x="840" y="188" fill="#e0058c"/><rect x="848" y="188" fill="#e0058c"/><rect x="856" y="188" fill="#e0058c"/><rect x="864" y="188" fill="#e0058c"/><rect x="872" y="188" fill="#e0058c"/><rect x="880" y="188" fill="#e0058c"/><rect x="888" y="188" fill="#e0058c"/><rect x="896" y="188" fill="#e0058c"/><rect x="904" y="188" fill="#e0058c"/><rect x="912" y="188" fill="#e0058c"/><rect x="920" y="188" fill="#e0058c"/><rect x="928" y="188" fill="#e0058c"/><rect x="936" y="188" fill="#e0058c"/><rect x="944" y="188" fill="#e0058c"/><rect x="952" y="188" fill="#e0058c"/><rect x="960" y="188" fill="#e0058c"/><rect x="968" y="188" fill="#e0058c"/><rect x="976" y="188" fill="#e0058c"/><rect x="984" y="188" fill="#e0058c"/>
<rect x="104" y="196" fill="#00a352"/><rect x="112" y="196" fill="#00a352"/><rect x="120" y="196" fill="#00a352"/><rect x="128" y="196" fill="#00a352"/><rect x="136" y="196" fill="#00a352"/><rect x="144" y="196" fill="#00a352"/><rect x="152" y="196" fill="#00a352"/><rect x="160" y="196" fill="#00a352"/><rect x="168" y="196" fill="#00a352"/><rect x="176" y="196" fill="#00a352"/><rect x="184" y="196" fill="#00a352"/><rect x="192" y="196" fill="#00a352"/><rect x="200" y="196" fill="#00a352"/><rect x="208" y="196" fill="#00a352"/><rect x="216" y="196" fill="#00a352"/><rect x="224" y="196" fill="#00a352"/><rect x="232" y="196" fill="#00a352"/><rect x="240" y="196" fill="#00a352"/><rect x="248" y="196" fill="#00a352"/><rect x="256" y="196" fill="#01a352"/><rect x="264" y="196" fill="#01a352"/><rect x="272" y="196" fill="#02a353"/><rect x="280" y="196" fill="#03a353"/><rect x="288" y="196" fill="#03a353"/><rect x="296" y="196" fill="#04a353"/><rect x="304" y="196" fill="#08a454"/><rect x="312" y="196" fill="#0da455"/><rect x="320" y="196" fill="#11a555"/><rect x="328" y="196" fill="#17a557"/><rect x="336" y="196" fill="#21a65a"/><rect x="344" y="196" fill="#2ba75d"/><rect x="352" y="196" fill="#35a860"/><rect x="360" y="196" fill="#3fa964"/><rect x="368" y="196" fill="#48aa69"/><rect x="376" y="196" fill="#51ab6e"/><rect x="384" y="196" fill="#5aad73"/><rect x="392" y="196" fill="#62ae79"/><rect x="400" y="196" fill="#6baf7f"/><rect x="408" y="196" fill="#73b186"/><rect x="416" y="196" fill="#7cb28c"/><rect x="424" y="196" fill="#83b492"/><rect x="432" y="196" fill="#8ab599"/><rect x="440" y="196" fill="#91b79f"/><rect x="448" y="196" fill="#97b8a5"/><rect x="456" y="196" fill="#9db9aa"/><rect x="464" y="196" fill="#a3baaf"/><rect x="472" y="196" fill="#a8bbb4"/><rect x="480" y="196" fill="#adbcb7"/><rect x="488" y="196" fill="#b0bdba"/><rect x="496" y="196" fill="#b3bebd"/><rect x="504" y="196" fill="#b6bfbf"/><rect x="512" y="196" fill="#b8bfc1"/><rect x="520" y="196" fill="#b9bfc2"/><rect x="528" y="196" fill="#babfc3"/><rect x="536" y="196" fill="#bbbfc4"/><rect x="544" y="196" fill="#bcbfc5"/><rect x="552" y="196" fill="#bdbec6"/><rect x="560" y="196" fill="#bebec6"/><rect x="568" y="196" fill="#c0bdc6"/><rect x="576" y="196" fill="#c1bcc7"/><rect x="584" y="196" fill="#c2bac7"/><rect x="592" y="196" fill="#c4b8c8"/><rect x="600" y="196" fill="#c5b6c8"/><rect x="608" y="196" fill="#c6b4c8"/><rect x="616" y="196" fill="#c8b1c8"/><rect x="624" y="196" fill="#caaec7"/><rect x="632" y="196" fill="#ccabc7"/><rect x="640" y="196" fill="#cea7c6"/><rect x="648" y="196" fill="#cfa2c4"/><rect x="656" y="196" fill="#d19dc2"/><rect x="664" y="196" fill="#d398c0"/><rect x="672" y="196" fill="#d492be"/><rect x="680" y="196" fill="#d58cbb"/><rect x="688" y="196" fill="#d785b9"/><rect x="696" y="196" fill="#d87fb6"/><rect x="704" y="196" fill="#d977b3"/><rect x="712" y="196" fill="#da70af"/><rect x="720" y="196" fill="#db68ac"/><rect x="728" y="196" fill="#dc60a8"/><rect x="736" y="196" fill="#dd56a4"/><rect x="744" y="196" fill="#de4da1"/><rect x="752" y="196" fill="#df449d"/><rect x="760" y="196" fill="#df3999"/><rect x="768" y="196" fill="#df2e96"/><rect x="776" y="196" fill="#e02292"/><rect x="784" y="196" fill="#e0178f"/><rect x="792" y="196" fill="#e0118e"/><rect x="800" y="196" fill="#df0d8d"/><rect x="808" y="196" fill="#df0a8d"/><rect x="816" y="196" fill="#de068c"/><rect x="824" y="196" fill="#de068c"/><rect x="832" y="196" fill="#de068c"/><rect x="840" y="196" fill="#de068c"/><rect x="848" y="196" fill="#de068c"/><rect x="856" y="196" fill="#de068c"/><rect x="864" y="196" fill="#de068c"/><rect x="872" y="196" fill="#de068c"/><rect x="880" y="196" fill="#de068c"/><rect x="888" y="196" fill="#de068c"/><rect x="896" y="196" fill="#de068c"/><rect x="904" y="196" fill="#de068c"/><rect x="912" y="196" fill="#de068c"/><rect x="920" y="196" fill="#de068c"/><rect x="928" y="196" fill="#de068c"/><rect x="936" y="196" fill="#de068c"/><rect x="944" y="196" fill="#de068c"/><rect x="952" y="196" fill="#de068c"/><rect x="960" y="196" fill="#de068c"/><rect x="968" y="196" fill="#de068c"/><rect x="976" y="196" fill="#de068c"/><rect x="984" y="196" fill="#de068c"/>
<rect x="104" y="204" fill="#00a254"/><rect x="112" y="204" fill="#00a254"/><rect x="120" y="204" fill="#00a254"/><rect x="128" y="204" fill="#00a254"/><rect x="136" y="204" fill="#00a254"/><rect x="144" y="204" fill="#00a254"/><rect x="152" y="204" fill="#00a254"/><rect x="160" y="204" fill="#00a254"/><rect x="168" y="204" fill="#00a254"/><rect x="176" y="204" fill="#00a254"/><rect x="184" y="204" fill="#00a254"/><rect x="192" y="204" fill="#00a254"/><rect x="200" y="204" fill="#00a254"/><rect x="208" y="204" fill="#00a254"/><rect x="216" y="204" fill="#00a254"/><rect x="224" y="204" fill="#00a254"/><rect x="232" y="204" fill="#00a254"/><rect x="240" y="204" fill="#00a254"/><rect x="248" y="204" fill="#00a254"/><rect x="256" y="204" fill="#01a254"/><rect x="264" y="204" fill="#02a255"/><rect x="272" y="204" fill="#02a255"/><rect x="280" y="204" fill="#03a255"/><rect x="288" y="204" fill="#04a255"/><rect x="296" y="204" fill="#04a255"/><rect x="304" y="204" fill="#08a356"/><rect x="312" y="204" fill="#0da357"/><rect x="320" y="204" fill="#11a458"/><rect x="328" y="204" fill="#16a559"/><rect x="336" y="204" fill="#20a55c"/><rect x="344" y="204" fill="#2aa65f"/><rect x="352" y="204" fill="#34a763"/><rect x="360" y="204" fill="#3da867"/><rect x="368" y="204" fill="#46a96b"/><rect x="376" y="204" fill="#4fab70"/><rect x="384" y="204" fill="#58ac75"/><rect x="392" y="204" fill="#61ae7b"/><rect x="400" y="204" fill="#69af82"/><rect x="408" y="204" fill="#72b088"/><rect x="416" y="204" fill="#7bb28e"/><rect x="424" y="204" fill="#82b394"/><rect x="432" y="204" fill="#89b59b"/><rect x="440" y="204" fill="#8fb7a1"/><rect x="448" y="204" fill="#96b8a7"/><rect x="456" y="204" fill="#9cb9ab"/><rect x="464" y="204" fill="#a1bab0"/><rect x="472" y="204" fill="#a7bbb5"/><rect x="480" y="204" fill="#abbcb8"/><rect x="488" y="204" fill="#aebdbb"/><rect x="496" y="204" fill="#b1bdbd"/><rect x="504" y="204" fill="#b4bec0"/><rect x="512" y="204" fill="#b6bec1"/><rect x="520" y="204" fill="#b7bec2"/><rect x="528" y="204" fill="#b8bec3"/><rect x="536" y="204" fill="#b9bec5"/><rect x="544" y="204" fill="#babdc6"/><rect x="552" y="204" fill="#bbbdc6"/><rect x="560" y="204" fill="#bcbcc6"/><rect x="568" y="204" fill="#bebbc7"/><rect x="576" y="204" fill="#bfbac7"/><rect x="584" y="204" fill="#c0b8c7"/><rect x="592" y="204" fill="#c1b6c8"/><rect x="600" y="204" fill="#c3b4c8"/><rect x="608" y="204" fill="#c4b2c8"/><rect x="616" y="204" fill="#c6afc7"/><rect x="624" y="204" fill="#c7acc7"/><rect x="632" y="204" fill="#c9a9c7"/><rect x="640" y="204" fill="#cba5c6"/><rect x="648" y="204" fill="#cca0c4"/><rect x="656" y="204" fill="#ce9ac2"/><rect x="664" y="204" fill="#cf95c0"/><rect x="672" y="204" fill="#d08fbd"/><rect x="680" y="204" fill="#d289bb"/><rect x="688" y="204" fill="#d383b8"/><rect x="696" y="204" fill="#d47cb6"/><rect x="704" y="204" fill="#d575b2"/><rect x="712" y="204" fill="#d66daf"/><rect x="720" y="204" fill="#d766ab"/><rect x="728" y="204" fill="#d85ea8"/><rect x="736" y="204" fill="#d955a4"/><rect x="744" y="204" fill="#d94ca1"/><rect x="752" y="204" fill="#da439d"/><rect x="760" y="204" fill="#da399a"/><rect x="768" y="204" fill="#db2e96"/><rect x="776" y="204" fill="#db2493"/><rect x="784" y="204" fill="#db1990"/><rect x="792" y="204" fill="#db138e"/><rect x="800" y="204" fill="#da108e"/><rect x="808" y="204" fill="#d90c8d"/><rect x="816" y="204" fill="#d9098c"/><rect x="824" y="204" fill="#d9098c"/><rect x="832" y="204" fill="#d9098c"/><rect x="840" y="204" fill="#d9098c"/><rect x="848" y="204" fill="#d9098c"/><rect x="856" y="204" fill="#d9098c"/><rect x="864" y="204" fill="#d9098c"/><rect x="872" y="204" fill="#d9098c"/><rect x="880" y="204" fill="#d9098c"/><rect x="888" y="204" fill="#d9098c"/><rect x="896" y="204" fill="#d9098c"/><rect x="904" y="204" fill="#d9098c"/><rect x="912" y="204" fill="#d9098c"/><rect x="920" y="204" fill="#d9098c"/><rect x="928" y="204" fill="#d9098c"/><rect x="936" y="204" fill="#d9098c"/><rect x="944" y="204" fill="#d9098c"/><rect x="952" y="204" fill="#d9098c"/><rect x="960" y="204" fill="#d9098c"/><rect x="968" y="204" fill="#d9098c"/><rect x="976" y="204" fill="#d9098c"/><rect x="984" y="204" fill="#d9098c"/>
<rect x="104" y="212" fill="#01a156"/><rect x="112" y="212" fill="#01a156"/><rect x="120" y="212" fill="#01a156"/><rect x="128" y="212" fill="#01a156"/><rect x="136" y="212" fill="#01a156"/><rect x="144" y="212" fill="#01a156"/><rect x="152" y="212" fill="#01a156"/><rect x="160" y="212" fill="#01a156"/><rect x="168" y="212" fill="#01a156"/><rect x="176" y="212" fill="#01a156"/><rect x="184" y="212" fill="#01a156"/><rect x="192" y="212" fill="#01a156"/><rect x="200" y="212" fill="#01a156"/><rect x="208" y="212" fill="#01a156"/><rect x="216" y="212" fill="#01a156"/><rect x="224" y="212" fill="#01a156"/><rect x="232" y="212" fill="#01a156"/><rect x="240" y="212" fill="#01a156"/><rect x="248" y="212" fill="#01a156"/><rect x="256" y="212" fill="#01a157"/><rect x="264" y="212" fill="#02a157"/><rect x="272" y="212" fill="#03a157"/><rect x="280" y="212" fill="#03a157"/><rect x="288" y="212" fill="#04a157"/><rect x="296" y="212" fill="#05a158"/><rect x="304" y="212" fill="#09a258"/><rect x="312" y="212" fill="#0da359"/><rect x="320" y="212" fill="#11a35a"/><rect x="328" y="212" fill="#16a45c"/><rect x="336" y="212" fill="#20a55f"/><rect x="344" y="212" fill="#29a662"/><rect x="352" y="212" fill="#32a665"/><rect x="360" y="212" fill="#3ba869"/><rect x="368" y="212" fill="#44a96e"/><rect x="376" y="212" fill="#4daa73"/><rect x="384" y="212" fill="#57ac78"/><rect x="392" y="212" fill="#5fad7e"/><rect x="400" y="212" fill="#68af84"/><rect x="408" y="212" fill="#71b08a"/><rect x="416" y="212" fill="#79b191"/><rect x="424" y="212" fill="#80b397"/><rect x="432" y="212" fill="#87b59d"/><rect x="440" y="212" fill="#8eb6a3"/><rect x="448" y="212" fill="#95b8a8"/><rect x="456" y="212" fill="#9ab9ad"/><rect x="464" y="212" fill="#9fbab1"/><rect x="472" y="212" fill="#a5bbb6"/><rect x="480" y="212" fill="#a9bbb9"/><rect x="488" y="212" fill="#acbcbc"/><rect x="496" y="212" fill="#afbcbe"/><rect x="504" y="212" fill="#b2bdc1"/><rect x="512" y="212" fill="#b4bdc2"/><rect x="520" y="212" fill="#b5bcc3"/><rect x="528" y="212" fill="#b6bcc4"/><rect x="536" y="212" fill="#b7bcc5"/><rect x="544" y="212" fill="#b8bcc6"/><rect x="552" y="212" fill="#b9bbc6"/><rect x="560" y="212" fill="#babac7"/><rect x="568" y="212" fill="#bbb9c7"/><rect x="576" y="212" fill="#bcb8c8"/><rect x="584" y="212" fill="#beb6c8"/><rect x="592" y="212" fill="#bfb4c8"/><rect x="600" y="212" fill="#c0b1c8"/><rect x="608" y="212" fill="#c1afc8"/><rect x="616" y="212" fill="#c3acc7"/><rect x="624" y="212" fill="#c4a9c7"/><rect x="632" y="212" fill="#c6a6c6"/><rect x="640" y="212" fill="#c8a2c5"/><rect x="648" y="212" fill="#c99dc3"/><rect x="656" y="212" fill="#ca98c1"/><rect x="664" y="212" fill="#cc93bf"/><rect x="672" y="212" fill="#cd8dbd"/><rect x="680" y="212" fill="#ce86ba"/><rect x="688" y="212" fill="#cf80b8"/><rect x="696" y="212" fill="#d07ab5"/><rect x="704" y="212" fill="#d172b2"/><rect x="712" y="212" fill="#d26baf"/><rect x="720" y="212" fill="#d364ab"/><rect x="728" y="212" fill="#d45ca8"/><rect x="736" y="212" fill="#d453a4"/><rect x="744" y="212" fill="#d54ba1"/><rect x="752" y="212" fill="#d5429d"/><rect x="760" y="212" fill="#d6399a"/><rect x="768" y="212" fill="#d62f97"/><rect x="776" y="212" fill="#d62593"/><rect x="784" y="212" fill="#d61b90"/><rect x="792" y="212" fill="#d5168f"/><rect x="800" y="212" fill="#d5128e"/><rect x="808" y="212" fill="#d40f8d"/><rect x="816" y="212" fill="#d40b8d"/><rect x="824" y="212" fill="#d40b8d"/><rect x="832" y="212" fill="#d40b8d"/><rect x="840" y="212" fill="#d40b8d"/><rect x="848" y="212" fill="#d40b8d"/><rect x="856" y="212" fill="#d40b8d"/><rect x="864" y="212" fill="#d40b8d"/><rect x="872" y="212" fill="#d40b8d"/><rect x="880" y="212" fill="#d40b8d"/><rect x="888" y="212" fill="#d40b8d"/><rect x="896" y="212" fill="#d40b8d"/><rect x="904" y="212" fill="#d40b8d"/><rect x="912" y="212" fill="#d40b8d"/><rect x="920" y="212" fill="#d40b8d"/><rect x="928" y="212" fill="#d40b8d"/><rect x="936" y="212" fill="#d40b8d"/><rect x="944" y="212" fill="#d40b8d"/><rect x="952" y="212" fill="#d40b8d"/><rect x="960" y="212" fill="#d40b8d"/><rect x="968" y="212" fill="#d40b8d"/><rect x="976" y="212" fill="#d40b8d"/><rect x="984" y="212" fill="#d40b8d"/>
<rect x="104" y="220" fill="#01a158"/><rect x="112" y="220" fill="#01a158"/><rect x="120" y="220" fill="#01a158"/><rect x="128" y="220" fill="#01a158"/><rect x="136" y="220" fill="#01a158"/><rect x="144" y="220" fill="#01a158"/><rect x="152" y="220" fill="#01a158"/><rect x="160" y="220" fill="#01a158"/><rect x="168" y="220" fill="#01a158"/><rect x="176" y="220" fill="#01a158"/><rect x="184" y="220" fill="#01a158"/><rect x="192" y="220" fill="#01a158"/><rect x="200" y="220" fill="#01a158"/><rect x="208" y="220" fill="#01a158"/><rect x="216" y="220" fill="#01a158"/><rect x="224" y="220" fill="#01a158"/><rect x="232" y="220" fill="#01a158"/><rect x="240" y="220" fill="#01a158"/><rect x="248" y="220" fill="#01a158"/><rect x="256" y="220" fill="#02a159"/><rect x="264" y="220" fill="#02a159"/><rect x="272" y="220" fill="#03a159"/><rect x="280" y="220" fill="#04a159"/><rect x="288" y="220" fill="#04a15a"/><rect x="296" y="220" fill="#05a15a"/><rect x="304" y="220" fill="#09a15b"/><rect x="312" y="220" fill="#0da25c"/><rect x="320" y="220" fill="#11a35d"/><rect x="328" y="220" fill="#16a35e"/><rect x="336" y="220" fill="#1fa461"/><rect x="344" y="220" fill="#28a564"/><rect x="352" y="220" fill="#31a667"/><rect x="360" y="220" fill="#3aa76b"/><rect x="368" y="220" fill="#43a870"/><rect x="376" y="220" fill="#4caa75"/><rect x="384" y="220" fill="#55ab7a"/><rect x="392" y="220" fill="#5ead80"/><rect x="400" y="220" fill="#67ae86"/><rect x="408" y="220" fill="#6fb08d"/><rect x="416" y="220" fill="#78b193"/><rect x="424" y="220" fill="#7fb399"/><rect x="432" y="220" fill="#86b49f"/><rect x="440" y="220" fill="#8db6a4"/><rect x="448" y="220" fill="#93b7aa"/><rect x="456" y="220" fill="#99b8ae"/><rect x="464" y="220" fill="#9eb9b3"/><rect x="472" y="220" fill="#a3bab7"/><rect x="480" y="220" fill="#a7bbba"/><rect x="488" y="220" fill="#aabbbd"/><rect x="496" y="220" fill="#adbbbf"/><rect x="504" y="220" fill="#b0bcc1"/><rect x="512" y="220" fill="#b2bcc3"/><rect x="520" y="220" fill="#b3bbc4"/><rect x="528" y="220" fill="#b4bbc5"/><rect x="536" y="220" fill="#b5bbc6"/><rect x="544" y="220" fill="#b6bac7"/><rect x="552" y="220" fill="#b7b9c7"/><rect x="560" y="220" fill="#b8b8c7"/><rect x="568" y="220" fill="#b9b7c8"/><rect x="576" y="220" fill="#bab6c8"/><rect x="584" y="220" fill="#bbb3c8"/><rect x="592" y="220" fill="#bcb1c8"/><rect x="600" y="220" fill="#beafc8"/><rect x="608" y="220" fill="#bfadc7"/><rect x="616" y="220" fill="#c0a9c7"/><rect x="624" y="220" fill="#c2a6c6"/><rect x="632" y="220" fill="#c3a3c6"/><rect x="640" y="220" fill="#c49fc4"/><rect x="648" y="220" fill="#c69ac3"/><rect x="656" y="220" fill="#c795c1"/><rect x="664" y="220" fill="#c890bf"/><rect x="672" y="220" fill="#c98abc"/><rect x="680" y="220" fill="#ca84ba"/><rect x="688" y="220" fill="#cb7eb7"/><rect x="696" y="220" fill="#cc77b5"/><rect x="704" y="220" fill="#cd70b2"/><rect x="712" y="220" fill="#ce69ae"/><rect x="720" y="220" fill="#cf61ab"/><rect x="728" y="220" fill="#cf5aa8"/><rect x="736" y="220" fill="#d052a4"/><rect x="744" y="220" fill="#d049a1"/><rect x="752" y="220" fill="#d1419e"/><rect x="760" y="220" fill="#d1389a"/><rect x="768" y="220" fill="#d12f97"/><rect x="776" y="220" fill="#d12694"/><rect x="784" y="220" fill="#d11d91"/><rect x="792" y="220" fill="#d0188f"/><rect x="800" y="220" fill="#d0158f"/><rect x="808" y="220" fill="#cf118e"/><rect x="816" y="220" fill="#cf0e8d"/><rect x="824" y="220" fill="#cf0e8d"/><rect x="832" y="220" fill="#cf0e8d"/><rect x="840" y="220" fill="#cf0e8d"/><rect x="848" y="220" fill="#cf0e8d"/><rect x="856" y="220" fill="#cf0e8d"/><rect x="864" y="220" fill="#cf0e8d"/><rect x="872" y="220" fill="#cf0e8d"/><rect x="880" y="220" fill="#cf0e8d"/><rect x="888" y="220" fill="#cf0e8d"/><rect x="896" y="220" fill="#cf0e8d"/><rect x="904" y="220" fill="#cf0e8d"/><rect x="912" y="220" fill="#cf0e8d"/><rect x="920" y="220" fill="#cf0e8d"/><rect x="928" y="220" fill="#cf0e8d"/><rect x="936" y="220" fill="#cf0e8d"/><rect x="944" y="220" fill="#cf0e8d"/><rect x="952" y="220" fill="#cf0e8d"/><rect x="960" y="220" fill="#cf0e8d"/><rect x="968" y="220" fill="#cf0e8d"/><rect x="976" y="220" fill="#cf0e8d"/>
<rect x="112" y="228" fill="#01a05b"/><rect x="120" y="228" fill="#01a05b"/><rect x="128" y="228" fill="#01a05b"/><rect x="136" y="228" fill="#01a05b"/><rect x="144" y="228" fill="#01a05b"/><rect x="152" y="228" fill="#01a05b"/><rect x="160" y="228" fill="#01a05b"/><rect x="168" y="228" fill="#01a05b"/><rect x="176" y="228" fill="#01a05b"/><rect x="184" y="228" fill="#01a05b"/><rect x="192" y="228" fill="#01a05b"/><rect x="200" y="228" fill="#01a05b"/><rect x="208" y="228" fill="#01a05b"/><rect x="216" y="228" fill="#01a05b"/><rect x="224" y="228" fill="#01a05b"/><rect x="232" y="228" fill="#01a05b"/><rect x="240" y="228" fill="#01a05b"/><rect x="248" y="228" fill="#01a05b"/><rect x="256" y="228" fill="#02a05b"/><rect x="264" y="228" fill="#03a05b"/><rect x="272" y="228" fill="#03a05b"/><rect x="280" y="228" fill="#04a05c"/><rect x="288" y="228" fill="#04a05c"/><rect x="296" y="228" fill="#05a05c"/><rect x="304" y="228" fill="#09a05d"/><rect x="312" y="228" fill="#0da15e"/><rect x="320" y="228" fill="#11a25f"/><rect x="328" y="228" fill="#16a360"/><rect x="336" y="228" fill="#1fa463"/><rect x="344" y="228" fill="#27a466"/><rect x="352" y="228" fill="#2fa569"/><rect x="360" y="228" fill="#38a76d"/><rect x="368" y="228" fill="#41a872"/><rect x="376" y="228" fill="#4aa977"/><rect x="384" y="228" fill="#53ab7c"/><rect x="392" y="228" fill="#5cac82"/><rect x="400" y="228" fill="#65ae89"/><rect x="408" y="228" fill="#6eaf8f"/><rect x="416" y="228" fill="#77b195"/><rect x="424" y="228" fill="#7eb39b"/><rect x="432" y="228" fill="#85b4a0"/><rect x="440" y="228" fill="#8bb6a6"/><rect x="448" y="228" fill="#92b7ab"/><rect x="456" y="228" fill="#97b8b0"/><rect x="464" y="228" fill="#9cb9b4"/><rect x="472" y="228" fill="#a1bab8"/><rect x="480" y="228" fill="#a6babb"/><rect x="488" y="228" fill="#a8bbbe"/><rect x="496" y="228" fill="#abbbc0"/><rect x="504" y="228" fill="#aebbc2"/><rect x="512" y="228" fill="#b0bac3"/><rect x="520" y="228" fill="#b1bac4"/><rect x="528" y="228" fill="#b2b9c5"/><rect x="536" y="228" fill="#b3b9c6"/><rect x="544" y="228" fill="#b4b9c7"/><rect x="552" y="228" fill="#b5b7c7"/><rect x="560" y="228" fill="#b6b6c8"/><rect x="568" y="228" fill="#b7b5c8"/><rect x="576" y="228" fill="#b8b3c8"/><rect x="584" y="228" fill="#b9b1c8"/><rect x="592" y="228" fill="#baafc8"/><rect x="600" y="228" fill="#bbadc8"/><rect x="608" y="228" fill="#bcaac7"/><rect x="616" y="228" fill="#bda7c7"/><rect x="624" y="228" fill="#bfa3c6"/><rect x="632" y="228" fill="#c0a0c5"/><rect x="640" y="228" fill="#c19cc4"/><rect x="648" y="228" fill="#c297c2"/><rect x="656" y="228" fill="#c492c0"/><rect x="664" y="228" fill="#c58dbe"/><rect x="672" y="228" fill="#c687bc"/><rect x="680" y="228" fill="#c781b9"/><rect x="688" y="228" fill="#c87bb7"/><rect x="696" y="228" fill="#c975b4"/><rect x="704" y="228" fill="#c96eb1"/><rect x="712" y="228" fill="#ca67ae"/><rect x="720" y="228" fill="#ca5fab"/><rect x="728" y="228" fill="#cb58a8"/><rect x="736" y="228" fill="#cb50a4"/><rect x="744" y="228" fill="#cc48a1"/><rect x="752" y="228" fill="#cc409e"/><rect x="760" y="228" fill="#cc389b"/><rect x="768" y="228" fill="#cc3098"/><rect x="776" y="228" fill="#cc2794"/><rect x="784" y="228" fill="#cc1f91"/><rect x="792" y="228" fill="#cb1a90"/><rect x="800" y="228" fill="#cb178f"/><rect x="808" y="228" fill="#ca148e"/><rect x="816" y="228" fill="#ca118d"/><rect x="824" y="228" fill="#ca118d"/><rect x="832" y="228" fill="#ca118d"/><rect x="840" y="228" fill="#ca118d"/><rect x="848" y="228" fill="#ca118d"/><rect x="856" y="228" fill="#ca118d"/><rect x="864" y="228" fill="#ca118d"/><rect x="872" y="228" fill="#ca118d"/><rect x="880" y="228" fill="#ca118d"/><rect x="888" y="228" fill="#ca118d"/><rect x="896" y="228" fill="#ca118d"/><rect x="904" y="228" fill="#ca118d"/><rect x="912" y="228" fill="#ca118d"/><rect x="920" y="228" fill="#ca118d"/><rect x="928" y="228" fill="#ca118d"/><rect x="936" y="228" fill="#ca118d"/><rect x="944" y="228" fill="#ca118d"/><rect x="952" y="228" fill="#ca118d"/><rect x="960" y="228" fill="#ca118d"/><rect x="968" y="228" fill="#ca118d"/><rect x="976" y="228" fill="#ca118d"/>
<rect x="112" y="236" fill="#019f5d"/><rect x="120" y="236" fill="#019f5d"/><rect x="128" y="236" fill="#019f5d"/><rect x="136" y="236" fill="#019f5d"/><rect x="144" y="236" fill="#019f5d"/><rect x="152" y="236" fill="#019f5d"/><rect x="160" y="236" fill="#019f5d"/><rect x="168" y="236" fill="#019f5d"/><rect x="176" y="236" fill="#019f5d"/><rect x="184" y="236" fill="#019f5d"/><rect x="192" y="236" fill="#019f5d"/><rect x="200" y="236" fill="#019f5d"/><rect x="208" y="236" fill="#019f5d"/><rect x="216" y="236" fill="#019f5d"/><rect x="224" y="236" fill="#019f5d"/><rect x="232" y="236" fill="#019f5d"/><rect x="240" y="236" fill="#019f5d"/><rect x="248" y="236" fill="#019f5d"/><rect x="256" y="236" fill="#029f5d"/><rect x="264" y="236" fill="#039f5d"/><rect x="272" y="236" fill="#039f5e"/><rect x="280" y="236" fill="#049f5e"/><rect x="288" y="236" fill="#059f5e"/><rect x="296" y="236" fill="#059f5e"/><rect x="304" y="236" fill="#09a05f"/><rect x="312" y="236" fill="#0da060"/><rect x="320" y="236" fill="#11a161"/><rect x="328" y="236" fill="#16a263"/><rect x="336" y="236" fill="#1ea366"/><rect x="344" y="236" fill="#26a468"/><rect x="352" y="236" fill="#2ea56b"/><rect x="360" y="236" fill="#37a66f"/><rect x="368" y="236" fill="#40a774"/><rect x="376" y="236" fill="#49a97a"/><rect x="384" y="236" fill="#52aa7f"/><rect x="392" y="236" fill="#5bac85"/><rect x="400" y="236" fill="#64ad8b"/><rect x="408" y="236" fill="#6caf91"/><rect x="416" y="236" fill="#75b197"/><rect x="424" y="236" fill="#7cb29d"/><rect x="432" y="236" fill="#83b4a2"/><rect x="440" y="236" fill="#8ab5a8"/><rect x="448" y="236" fill="#91b7ad"/><rect x="456" y="236" fill="#96b8b1"/><rect x="464" y="236" fill="#9bb9b5"/><rect x="472" y="236" fill="#a0bab9"/><rect x="480" y="236" fill="#a4babc"/><rect x="488" y="236" fill="#a7babf"/><rect x="496" y="236" fill="#a9bac1"/><rect x="504" y="236" fill="#acbac3"/><rect x="512" y="236" fill="#aeb9c4"/><rect x="520" y="236" fill="#afb9c5"/><rect x="528" y="236" fill="#b0b8c6"/><rect x="536" y="236" fill="#b1b8c7"/><rect x="544" y="236" fill="#b2b7c8"/><rect x="552" y="236" fill="#b3b6c8"/><rect x="560" y="236" fill="#b4b4c8"/><rect x="568" y="236" fill="#b5b3c8"/><rect x="576" y="236" fill="#b6b1c8"/><rect x="584" y="236" fill="#b7afc8"/><rect x="592" y="236" fill="#b8adc8"/><rect x="600" y="236" fill="#b9aac8"/><rect x="608" y="236" fill="#baa7c7"/><rect x="616" y="236" fill="#bba4c6"/><rect x="624" y="236" fill="#bca1c6"/><rect x="632" y="236" fill="#bd9dc5"/><rect x="640" y="236" fill="#be99c3"/><rect x="648" y="236" fill="#bf94c2"/><rect x="656" y="236" fill="#c08fc0"/><rect x="664" y="236" fill="#c18abe"/><rect x="672" y="236" fill="#c284bb"/><rect x="680" y="236" fill="#c37eb9"/><rect x="688" y="236" fill="#c478b6"/><rect x="696" y="236" fill="#c572b4"/><rect x="704" y="236" fill="#c56bb1"/><rect x="712" y="236" fill="#c664ae"/><rect x="720" y="236" fill="#c65dab"/><rect x="728" y="236" fill="#c756a8"/><rect x="736" y="236" fill="#c74fa4"/><rect x="744" y="236" fill="#c747a1"/><rect x="752" y="236" fill="#c83f9e"/><rect x="760" y="236" fill="#c8389b"/><rect x="768" y="236" fill="#c73098"/><rect x="776" y="236" fill="#c72895"/><rect x="784" y="236" fill="#c72192"/><rect x="792" y="236" fill="#c61c91"/><rect x="800" y="236" fill="#c6198f"/><rect x="808" y="236" fill="#c5168e"/><rect x="816" y="236" fill="#c5138d"/><rect x="824" y="236" fill="#c5138d"/><rect x="832" y="236" fill="#c5138d"/><rect x="840" y="236" fill="#c5138d"/><rect x="848" y="236" fill="#c5138d"/><rect x="856" y="236" fill="#c5138d"/><rect x="864" y="236" fill="#c5138d"/><rect x="872" y="236" fill="#c5138d"/><rect x="880" y="236" fill="#c5138d"/><rect x="888" y="236" fill="#c5138d"/><rect x="896" y="236" fill="#c5138d"/><rect x="904" y="236" fill="#c5138d"/><rect x="912" y="236" fill="#c5138d"/><rect x="920" y="236" fill="#c5138d"/><rect x="928" y="236" fill="#c5138d"/><rect x="936" y="236" fill="#c5138d"/><rect x="944" y="236" fill="#c5138d"/><rect x="952" y="236" fill="#c5138d"/><rect x="960" y="236" fill="#c5138d"/><rect x="968" y="236" fill="#c5138d"/><rect x="976" y="236" fill="#c5138d"/>
<rect x="112" y="244" fill="#029e5f"/><rect x="120" y="244" fill="#029e5f"/><rect x="128" y="244" fill="#029e5f"/><rect x="136" y="244" fill="#029e5f"/><rect x="144" y="244" fill="#029e5f"/><rect x="152" y="244" fill="#029e5f"/><rect x="160" y="244" fill="#029e5f"/><rect x="168" y="244" fill="#029e5f"/><rect x="176" y="244" fill="#029e5f"/><rect x="184" y="244" fill="#029e5f"/><rect x="192" y="244" fill="#029e5f"/><rect x="200" y="244" fill="#029e5f"/><rect x="208" y="244" fill="#029e5f"/><rect x="216" y="244" fill="#029e5f"/><rect x="224" y="244" fill="#029e5f"/><rect x="232" y="244" fill="#029e5f"/><rect x="240" y="244" fill="#029e5f"/><rect x="248" y="244" fill="#029e5f"/><rect x="256" y="244" fill="#029e5f"/><rect x="264" y="244" fill="#039e5f"/><rect x="272" y="244" fill="#049e60"/><rect x="280" y="244" fill="#049e60"/><rect x="288" y="244" fill="#059e60"/><rect x="296" y="244" fill="#069e61"/><rect x="304" y="244" fill="#099f62"/><rect x="312" y="244" fill="#0da063"/><rect x="320" y="244" fill="#11a064"/><rect x="328" y="244" fill="#16a165"/><rect x="336" y="244" fill="#1da268"/><rect x="344" y="244" fill="#25a36b"/><rect x="352" y="244" fill="#2da46d"/><rect x="360" y="244" fill="#35a571"/><rect x="368" y="244" fill="#3ea777"/><rect x="376" y="244" fill="#47a87c"/><rect x="384" y="244" fill="#50a981"/><rect x="392" y="244" fill="#59ab87"/><rect x="400" y="244" fill="#62ad8d"/><rect x="408" y="244" fill="#6baf93"/><rect x="416" y="244" fill="#74b09a"/><rect x="424" y="244" fill="#7bb29f"/><rect x="432" y="244" fill="#82b4a4"/><rect x="440" y="244" fill="#89b5aa"/><rect x="448" y="244" fill="#8fb7af"/><rect x="456" y="244" fill="#94b7b3"/><rect x="464" y="244" fill="#99b8b6"/><rect x="472" y="244" fill="#9eb9ba"/><rect x="480" y="244" fill="#a2b9bd"/><rect x="488" y="244" fill="#a5b9bf"/><rect x="496" y="244" fill="#a8b9c1"/><rect x="504" y="244" fill="#aab9c3"/><rect x="512" y="244" fill="#acb8c5"/><rect x="520" y="244" fill="#adb7c6"/><rect x="528" y="244" fill="#aeb7c6"/><rect x="536" y="244" fill="#afb6c7"/><rect x="544" y="244" fill="#b0b5c8"/><rect x="552" y="244" fill="#b1b4c8"/><rect x="560" y="244" fill="#b2b2c8"/><rect x="568" y="244" fill="#b3b1c8"/><rect x="576" y="244" fill="#b3afc9"/><rect x="584" y="244" fill="#b4adc8"/><rect x="592" y="244" fill="#b5aac8"/><rect x="600" y="244" fill="#b6a8c7"/><rect x="608" y="244" fill="#b7a5c7"/><rect x="616" y="244" fill="#b8a1c6"/><rect x="624" y="244" fill="#b99ec5"/><rect x="632" y="244" fill="#ba9ac4"/><rect x="640" y="244" fill="#bb96c3"/><rect x="648" y="244" fill="#bc91c1"/><rect x="656" y="244" fill="#bd8cbf"/><rect x="664" y="244" fill="#be87bd"/><rect x="672" y="244" fill="#bf82bb"/><rect x="680" y="244" fill="#bf7cb9"/><rect x="688" y="244" fill="#c076b6"/><rect x="696" y="244" fill="#c170b4"/><rect x="704" y="244" fill="#c169b1"/><rect x="712" y="244" fill="#c262ae"/><rect x="720" y="244" fill="#c25baa"/><rect x="728" y="244" fill="#c254a7"/><rect x="736" y="244" fill="#c34da4"/><rect x="744" y="244" fill="#c346a1"/><rect x="752" y="244" fill="#c33f9e"/><rect x="760" y="244" fill="#c3389b"/><rect x="768" y="244" fill="#c23198"/><rect x="776" y="244" fill="#c22a96"/><rect x="784" y="244" fill="#c22393"/><rect x="792" y="244" fill="#c11f91"/><rect x="800" y="244" fill="#c11c90"/><rect x="808" y="244" fill="#c0198f"/><rect x="816" y="244" fill="#c0168e"/><rect x="824" y="244" fill="#c0168e"/><rect x="832" y="244" fill="#c0168e"/><rect x="840" y="244" fill="#c0168e"/><rect x="848" y="244" fill="#c0168e"/><rect x="856" y="244" fill="#c0168e"/><rect x="864" y="244" fill="#c0168e"/><rect x="872" y="244" fill="#c0168e"/><rect x="880" y="244" fill="#c0168e"/><rect x="888" y="244" fill="#c0168e"/><rect x="896" y="244" fill="#c0168e"/><rect x="904" y="244" fill="#c0168e"/><rect x="912" y="244" fill="#c0168e"/><rect x="920" y="244" fill="#c0168e"/><rect x="928" y="244" fill="#c0168e"/><rect x="936" y="244" fill="#c0168e"/><rect x="944" y="244" fill="#c0168e"/><rect x="952" y="244" fill="#c0168e"/><rect x="960" y="244" fill="#c0168e"/><rect x="968" y="244" fill="#c0168e"/><rect x="976" y="244" fill="#c0168e"/>
<rect x="112" y="252" fill="#029d61"/><rect x="120" y="252" fill="#029d61"/><rect x="128" y="252" fill="#029d61"/><rect x="136" y="252" fill="#029d61"/><rect x="144" y="252" fill="#029d61"/><rect x="152" y="252" fill="#029d61"/><rect x="160" y="252" fill="#029d61"/><rect x="168" y="252" fill="#029d61"/><rect x="176" y="252" fill="#029d61"/><rect x="184" y="252" fill="#029d61"/><rect x="192" y="252" fill="#029d61"/><rect x="200" y="252" fill="#029d61"/><rect x="208" y="252" fill="#029d61"/><rect x="216" y="252" fill="#029d61"/><rect x="224" y="252" fill="#029d61"/><rect x="232" y="252" fill="#029d61"/><rect x="240" y="252" fill="#029d61"/><rect x="248" y="252" fill="#029d61"/><rect x="256" y="252" fill="#039d61"/><rect x="264" y="252" fill="#039d62"/><rect x="272" y="252" fill="#049d62"/><rect x="280" y="252" fill="#059d62"/><rect x="288" y="252" fill="#059d63"/><rect x="296" y="252" fill="#069d63"/><rect x="304" y="252" fill="#0a9e64"/><rect x="312" y="252" fill="#0d9f65"/><rect x="320" y="252" fill="#11a066"/><rect x="328" y="252" fill="#16a167"/><rect x="336" y="252" fill="#1da26a"/><rect x="344" y="252" fill="#24a36d"/><rect x="352" y="252" fill="#2ba470"/><rect x="360" y="252" fill="#33a574"/><rect x="368" y="252" fill="#3ca679"/><rect x="376" y="252" fill="#45a87e"/><rect x="384" y="252" fill="#4fa983"/><rect x="392" y="252" fill="#58ab89"/><rect x="400" y="252" fill="#61ac90"/><rect x="408" y="252" fill="#6aae96"/><rect x="416" y="252" fill="#73b09c"/><rect x="424" y="252" fill="#7ab2a1"/><rect x="432" y="252" fill="#81b3a6"/><rect x="440" y="252" fill="#87b5ab"/><rect x="448" y="252" fill="#8eb6b0"/><rect x="456" y="252" fill="#93b7b4"/><rect x="464" y="252" fill="#98b8b8"/><rect x="472" y="252" fill="#9cb9bc"/><rect x="480" y="252" fill="#a0b9be"/><rect x="488" y="252" fill="#a3b9c0"/><rect x="496" y="252" fill="#a6b8c2"/><rect x="504" y="252" fill="#a8b8c4"/><rect x="512" y="252" fill="#aab7c5"/><rect x="520" y="252" fill="#abb6c6"/><rect x="528" y="252" fill="#acb5c7"/><rect x="536" y="252" fill="#adb5c8"/><rect x="544" y="252" fill="#aeb4c9"/><rect x="552" y="252" fill="#afb2c9"/><rect x="560" y="252" fill="#b0b0c9"/><rect x="568" y="252" fill="#b0afc9"/><rect x="576" y="252" fill="#b1adc9"/><rect x="584" y="252" fill="#b2aac8"/><rect x="592" y="252" fill="#b3a8c8"/><rect x="600" y="252" fill="#b4a5c7"/><rect x="608" y="252" fill="#b4a2c7"/><rect x="616" y="252" fill="#b59fc6"/><rect x="624" y="252" fill="#b69bc5"/><rect x="632" y="252" fill="#b797c4"/><rect x="640" y="252" fill="#b893c2"/><rect x="648" y="252" fill="#b98ec0"/><rect x="656" y="252" fill="#ba89bf"/><rect x="664" y="252" fill="#bb85bd"/><rect x="672" y="252" fill="#bb7fba"/><rect x="680" y="252" fill="#bc79b8"/><rect x="688" y="252" fill="#bc73b6"/><rect x="696" y="252" fill="#bd6db3"/><rect x="704" y="252" fill="#bd67b0"/><rect x="712" y="252" fill="#be60ad"/><rect x="720" y="252" fill="#be59aa"/><rect x="728" y="252" fill="#be52a7"/><rect x="736" y="252" fill="#be4ba4"/><rect x="744" y="252" fill="#be45a1"/><rect x="752" y="252" fill="#be3e9e"/><rect x="760" y="252" fill="#be379c"/><rect x="768" y="252" fill="#be3199"/><rect x="776" y="252" fill="#bd2b96"/><rect x="784" y="252" fill="#bd2493"/><rect x="792" y="252" fill="#bc2192"/><rect x="800" y="252" fill="#bc1e90"/><rect x="808" y="252" fill="#bb1b8f"/><rect x="816" y="252" fill="#bb198e"/><rect x="824" y="252" fill="#bb198e"/><rect x="832" y="252" fill="#bb198e"/><rect x="840" y="252" fill="#bb198e"/><rect x="848" y="252" fill="#bb198e"/><rect x="856" y="252" fill="#bb198e"/><rect x="864" y="252" fill="#bb198e"/><rect x="872" y="252" fill="#bb198e"/><rect x="880" y="252" fill="#bb198e"/><rect x="888" y="252" fill="#bb198e"/><rect x="896" y="252" fill="#bb198e"/><rect x="904" y="252" fill="#bb198e"/><rect x="912" y="252" fill="#bb198e"/><rect x="920" y="252" fill="#bb198e"/><rect x="928" y="252" fill="#bb198e"/><rect x="936" y="252" fill="#bb198e"/><rect x="944" y="252" fill="#bb198e"/><rect x="952" y="252" fill="#bb198e"/><rect x="960" y="252" fill="#bb198e"/><rect x="968" y="252" fill="#bb198e"/><rect x="976" y="252" fill="#bb198e"/>
<rect x="120" y="260" fill="#029d64"/><rect x="128" y="260" fill="#029d64"/><rect x="136" y="260" fill="#029d64"/><rect x="144" y="260" fill="#029d64"/><rect x="152" y="260" fill="#029d64"/><rect x="160" y="260" fill="#029d64"/><rect x="168" y="260" fill="#029d64"/><rect x="176" y="260" fill="#029d64"/><rect x="184" y="260" fill="#029d64"/><rect x="192" y="260" fill="#029d64"/><rect x="200" y="260" fill="#029d64"/><rect x="208" y="260" fill="#029d64"/><rect x="216" y="260" fill="#029d64"/><rect x="224" y="260" fill="#029d64"/><rect x="232" y="260" fill="#029d64"/><rect x="240" y="260" fill="#029d64"/><rect x="248" y="260" fill="#039d64"/><rect x="256" y="260" fill="#039d65"/><rect x="264" y="260" fill="#049d65"/><rect x="272" y="260" fill="#049d65"/><rect x="280" y="260" fill="#059d65"/><rect x="288" y="260" fill="#069d66"/><rect x="296" y="260" fill="#069d66"/><rect x="304" y="260" fill="#0a9e67"/><rect x="312" y="260" fill="#0d9e68"/><rect x="320" y="260" fill="#119f69"/><rect x="328" y="260" fill="#15a06a"/><rect x="336" y="260" fill="#1ca16d"/><rect x="344" y="260" fill="#22a26f"/><rect x="352" y="260" fill="#29a372"/><rect x="360" y="260" fill="#30a476"/><rect x="368" y="260" fill="#39a67b"/><rect x="376" y="260" fill="#41a780"/><rect x="384" y="260" fill="#4aa885"/><rect x="392" y="260" fill="#53aa8b"/><rect x="400" y="260" fill="#5cac91"/><rect x="408" y="260" fill="#64ad97"/><rect x="416" y="260" fill="#6daf9c"/><rect x="424" y="260" fill="#74b1a1"/><rect x="432" y="260" fill="#7bb2a6"/><rect x="440" y="260" fill="#82b4ab"/><rect x="448" y="260" fill="#88b5b0"/><rect x="456" y="260" fill="#8db6b4"/><rect x="464" y="260" fill="#92b7b8"/><rect x="472" y="260" fill="#97b7bc"/><rect x="480" y="260" fill="#9bb8be"/><rect x="488" y="260" fill="#9eb7c0"/><rect x="496" y="260" fill="#a1b7c2"/><rect x="504" y="260" fill="#a4b6c4"/><rect x="512" y="260" fill="#a6b6c6"/><rect x="520" y="260" fill="#a7b5c7"/><rect x="528" y="260" fill="#a8b4c7"/><rect x="536" y="260" fill="#a9b3c8"/><rect x="544" y="260" fill="#aab2c9"/><rect x="552" y="260" fill="#abb0c9"/><rect x="560" y="260" fill="#acaec9"/><rect x="568" y="260" fill="#adadc9"/><rect x="576" y="260" fill="#adabc9"/><rect x="584" y="260" fill="#aea8c9"/><rect x="592" y="260" fill="#afa5c8"/><rect x="600" y="260" fill="#b0a3c7"/><rect x="608" y="260" fill="#b0a0c7"/><rect x="616" y="260" fill="#b19cc6"/><rect x="624" y="260" fill="#b198c5"/><rect x="632" y="260" fill="#b295c4"/><rect x="640" y="260" fill="#b390c2"/><rect x="648" y="260" fill="#b38cc0"/><rect x="656" y="260" fill="#b487be"/><rect x="664" y="260" fill="#b483bc"/><rect x="672" y="260" fill="#b57dba"/><rect x="680" y="260" fill="#b577b8"/><rect x="688" y="260" fill="#b672b5"/><rect x="696" y="260" fill="#b66cb3"/><rect x="704" y="260" fill="#b765b0"/><rect x="712" y="260" fill="#b75fad"/><rect x="720" y="260" fill="#b758aa"/><rect x="728" y="260" fill="#b751a7"/><rect x="736" y="260" fill="#b74ba4"/><rect x="744" y="260" fill="#b744a1"/><rect x="752" y="260" fill="#b73e9e"/><rect x="760" y="260" fill="#b7379b"/><rect x="768" y="260" fill="#b63299"/><rect x="776" y="260" fill="#b62c96"/><rect x="784" y="260" fill="#b52694"/><rect x="792" y="260" fill="#b52392"/><rect x="800" y="260" fill="#b42091"/><rect x="808" y="260" fill="#b41e8f"/><rect x="816" y="260" fill="#b31c8e"/><rect x="824" y="260" fill="#b31c8e"/><rect x="832" y="260" fill="#b31c8e"/><rect x="840" y="260" fill="#b31c8e"/><rect x="848" y="260" fill="#b31c8e"/><rect x="856" y="260" fill="#b31c8e"/><rect x="864" y="260" fill="#b31c8e"/><rect x="872" y="260" fill="#b31c8e"/><rect x="880" y="260" fill="#b31c8e"/><rect x="888" y="260" fill="#b31c8e"/><rect x="896" y="260" fill="#b31c8e"/><rect x="904" y="260" fill="#b31c8e"/><rect x="912" y="260" fill="#b31c8e"/><rect x="920" y="260" fill="#b31c8e"/><rect x="928" y="260" fill="#b31c8e"/><rect x="936" y="260" fill="#b31c8e"/><rect x="944" y="260" fill="#b31c8e"/><rect x="952" y="260" fill="#b31c8e"/><rect x="960" y="260" fill="#b31c8e"/><rect x="968" y="260" fill="#b31c8e"/>
<rect x="120" y="268" fill="#049c69"/><rect x="128" y="268" fill="#049c69"/><rect x="136" y="268" fill="#049c69"/><rect x="144" y="268" fill="#049c69"/><rect x="152" y="268" fill="#049c69"/><rect x="160" y="268" fill="#049c69"/><rect x="168" y="268" fill="#049c69"/><rect x="176" y="268" fill="#049c69"/><rect x="184" y="268" fill="#049c69"/><rect x="192" y="268" fill="#049c69"/><rect x="200" y="268" fill="#049c69"/><rect x="208" y="268" fill="#049c69"/><rect x="216" y="268" fill="#049c69"/><rect x="224" y="268" fill="#049c69"/><rect x="232" y="268" fill="#049c69"/><rect x="240" y="268" fill="#049c69"/><rect x="248" y="268" fill="#049c69"/><rect x="256" y="268" fill="#049c69"/><rect x="264" y="268" fill="#059d69"/><rect x="272" y="268" fill="#059d69"/><rect x="280" y="268" fill="#069d69"/><rect x="288" y="268" fill="#069d69"/><rect x="296" y="268" fill="#079d69"/><rect x="304" y="268" fill="#0a9d6a"/><rect x="312" y="268" fill="#0d9e6c"/><rect x="320" y="268" fill="#109f6d"/><rect x="328" y="268" fill="#14a06e"/><rect x="336" y="268" fill="#1aa170"/><rect x="344" y="268" fill="#20a272"/><rect x="352" y="268" fill="#25a375"/><rect x="360" y="268" fill="#2ca478"/><rect x="368" y="268" fill="#34a57d"/><rect x="376" y="268" fill="#3ba682"/><rect x="384" y="268" fill="#43a787"/><rect x="392" y="268" fill="#4ba98c"/><rect x="400" y="268" fill="#53ab91"/><rect x="408" y="268" fill="#5bac96"/><rect x="416" y="268" fill="#64ae9c"/><rect x="424" y="268" fill="#6aafa0"/><rect x="432" y="268" fill="#71b0a5"/><rect x="440" y="268" fill="#77b1aa"/><rect x="448" y="268" fill="#7eb3af"/><rect x="456" y="268" fill="#83b3b2"/><rect x="464" y="268" fill="#88b4b6"/><rect x="472" y="268" fill="#8eb5ba"/><rect x="480" y="268" fill="#92b5bd"/><rect x="488" y="268" fill="#96b5c0"/><rect x="496" y="268" fill="#99b5c2"/><rect x="504" y="268" fill="#9db5c4"/><rect x="512" y="268" fill="#9fb4c6"/><rect x="520" y="268" fill="#a0b3c7"/><rect x="528" y="268" fill="#a2b2c8"/><rect x="536" y="268" fill="#a3b1c9"/><rect x="544" y="268" fill="#a5b0ca"/><rect x="552" y="268" fill="#a6aeca"/><rect x="560" y="268" fill="#a7acca"/><rect x="568" y="268" fill="#a7aac9"/><rect x="576" y="268" fill="#a8a8c9"/><rect x="584" y="268" fill="#a9a5c9"/><rect x="592" y="268" fill="#a9a3c8"/><rect x="600" y="268" fill="#aaa0c7"/><rect x="608" y="268" fill="#ab9dc7"/><rect x="616" y="268" fill="#ab99c6"/><rect x="624" y="268" fill="#ab96c5"/><rect x="632" y="268" fill="#ab92c4"/><rect x="640" y="268" fill="#ab8ec2"/><rect x="648" y="268" fill="#ab8ac0"/><rect x="656" y="268" fill="#ab86be"/><rect x="664" y="268" fill="#ab81bc"/><rect x="672" y="268" fill="#ac7cba"/><rect x="680" y="268" fill="#ac77b8"/><rect x="688" y="268" fill="#ad71b6"/><rect x="696" y="268" fill="#ad6cb3"/><rect x="704" y="268" fill="#ad65b0"/><rect x="712" y="268" fill="#ad5fad"/><rect x="720" y="268" fill="#ad58aa"/><rect x="728" y="268" fill="#ae52a7"/><rect x="736" y="268" fill="#ae4ba4"/><rect x="744" y="268" fill="#ae44a1"/><rect x="752" y="268" fill="#ae3e9e"/><rect x="760" y="268" fill="#ad389b"/><rect x="768" y="268" fill="#ad3399"/><rect x="776" y="268" fill="#ac2d96"/><rect x="784" y="268" fill="#ac2893"/><rect x="792" y="268" fill="#ab2592"/><rect x="800" y="268" fill="#ab2391"/><rect x="808" y="268" fill="#aa2190"/><rect x="816" y="268" fill="#a91e8f"/><rect x="824" y="268" fill="#a91e8f"/><rect x="832" y="268" fill="#a91e8f"/><rect x="840" y="268" fill="#a91e8f"/><rect x="848" y="268" fill="#a91e8f"/><rect x="856" y="268" fill="#a91e8f"/><rect x="864" y="268" fill="#a91e8f"/><rect x="872" y="268" fill="#a91e8f"/><rect x="880" y="268" fill="#a91e8f"/><rect x="888" y="268" fill="#a91e8f"/><rect x="896" y="268" fill="#a91e8f"/><rect x="904" y="268" fill="#a91e8f"/><rect x="912" y="268" fill="#a91e8f"/><rect x="920" y="268" fill="#a91e8f"/><rect x="928" y="268" fill="#a91e8f"/><rect x="936" y="268" fill="#a91e8f"/><rect x="944" y="268" fill="#a91e8f"/><rect x="952" y="268" fill="#a91e8f"/><rect x="960" y="268" fill="#a91e8f"/><rect x="968" y="268" fill="#a91e8f"/>
<rect x="120" y="276" fill="#049c6d"/><rect x="128" y="276" fill="#049c6d"/><rect x="136" y="276" fill="#049c6d"/><rect x="144" y="276" fill="#049c6d"/><rect x="152" y="276" fill="#049c6d"/><rect x="160" y="276" fill="#049c6d"/><rect x="168" y="276" fill="#049c6d"/><rect x="176" y="276" fill="#049c6d"/><rect x="184" y="276" fill="#049c6d"/><rect x="192" y="276" fill="#049c6d"/><rect x="200" y="276" fill="#049c6d"/><rect x="208" y="276" fill="#049c6d"/><rect x="216" y="276" fill="#049c6d"/><rect x="224" y="276" fill="#049c6d"/><rect x="232" y="276" fill="#049c6d"/><rect x="240" y="276" fill="#049c6d"/><rect x="248" y="276" fill="#059c6d"/><rect x="256" y="276" fill="#059c6d"/><rect x="264" y="276" fill="#069c6d"/><rect x="272" y="276" fill="#069c6d"/><rect x="280" y="276" fill="#079c6d"/><rect x="288" y="276" fill="#079c6d"/><rect x="296" y="276" fill="#089c6d"/><rect x="304" y="276" fill="#0a9d6e"/><rect x="312" y="276" fill="#0d9e6f"/><rect x="320" y="276" fill="#109e70"/><rect x="328" y="276" fill="#139f71"/><rect x="336" y="276" fill="#18a073"/><rect x="344" y="276" fill="#1da175"/><rect x="352" y="276" fill="#22a277"/><rect x="360" y="276" fill="#28a37a"/><rect x="368" y="276" fill="#2ea47f"/><rect x="376" y="276" fill="#35a683"/><rect x="384" y="276" fill="#3ba788"/><rect x="392" y="276" fill="#43a88c"/><rect x="400" y="276" fill="#4ba991"/><rect x="408" y="276" fill="#52ab96"/><rect x="416" y="276" fill="#5aac9a"/><rect x="424" y="276" fill="#60ad9f"/><rect x="432" y="276" fill="#67aea4"/><rect x="440" y="276" fill="#6dafa8"/><rect x="448" y="276" fill="#73b0ad"/><rect x="456" y="276" fill="#79b1b1"/><rect x="464" y="276" fill="#7fb2b5"/><rect x="472" y="276" fill="#84b3b9"/><rect x="480" y="276" fill="#89b3bc"/><rect x="488" y="276" fill="#8db3bf"/><rect x="496" y="276" fill="#92b3c1"/><rect x="504" y="276" fill="#96b3c4"/><rect x="512" y="276" fill="#98b3c5"/><rect x="520" y="276" fill="#9ab1c7"/><rect x="528" y="276" fill="#9cb0c8"/><rect x="536" y="276" fill="#9eafc9"/><rect x="544" y="276" fill="#a0aeca"/><rect x="552" y="276" fill="#a0acca"/><rect x="560" y="276" fill="#a1aaca"/><rect x="568" y="276" fill="#a2a8ca"/><rect x="576" y="276" fill="#a3a6ca"/><rect x="584" y="276" fill="#a4a3c9"/><rect x="592" y="276" fill="#a4a0c8"/><rect x="600" y="276" fill="#a59dc8"/><rect x="608" y="276" fill="#a59ac7"/><rect x="616" y="276" fill="#a497c6"/><rect x="624" y="276" fill="#a493c5"/><rect x="632" y="276" fill="#a390c4"/><rect x="640" y="276" fill="#a38cc2"/><rect x="648" y="276" fill="#a388c0"/><rect x="656" y="276" fill="#a384be"/><rect x="664" y="276" fill="#a380bc"/><rect x="672" y="276" fill="#a37bba"/><rect x="680" y="276" fill="#a376b8"/><rect x="688" y="276" fill="#a371b6"/><rect x="696" y="276" fill="#a46cb4"/><rect x="704" y="276" fill="#a465b0"/><rect x="712" y="276" fill="#a45fad"/><rect x="720" y="276" fill="#a458aa"/><rect x="728" y="276" fill="#a452a7"/><rect x="736" y="276" fill="#a44ba4"/><rect x="744" y="276" fill="#a445a1"/><rect x="752" y="276" fill="#a43e9e"/><rect x="760" y="276" fill="#a4389b"/><rect x="768" y="276" fill="#a33398"/><rect x="776" y="276" fill="#a32e96"/><rect x="784" y="276" fill="#a22993"/><rect x="792" y="276" fill="#a22792"/><rect x="800" y="276" fill="#a12591"/><rect x="808" y="276" fill="#a02390"/><rect x="816" y="276" fill="#a0228f"/><rect x="824" y="276" fill="#a0228f"/><rect x="832" y="276" fill="#a0228f"/><rect x="840" y="276" fill="#a0228f"/><rect x="848" y="276" fill="#a0228f"/><rect x="856" y="276" fill="#a0228f"/><rect x="864" y="276" fill="#a0228f"/><rect x="872" y="276" fill="#a0228f"/><rect x="880" y="276" fill="#a0228f"/><rect x="888" y="276" fill="#a0228f"/><rect x="896" y="276" fill="#a0228f"/><rect x="904" y="276" fill="#a0228f"/><rect x="912" y="276" fill="#a0228f"/><rect x="920" y="276" fill="#a0228f"/><rect x="928" y="276" fill="#a0228f"/><rect x="936" y="276" fill="#a0228f"/><rect x="944" y="276" fill="#a0228f"/><rect x="952" y="276" fill="#a0228f"/><rect x="960" y="276" fill="#a0228f"/><rect x="968" y="276" fill="#a0228f"/>
<rect x="120" y="284" fill="#069c71"/><rect x="128" y="284" fill="#069c71"/><rect x="136" y="284" fill="#069c71"/><rect x="144" y="284" fill="#069c71"/><rect x="152" y="284" fill="#069c71"/><rect x="160" y="284" fill="#069c71"/><rect x="168" y="284" fill="#069c71"/><rect x="176" y="284" fill="#069c71"/><rect x="184" y="284" fill="#069c71"/><rect x="192" y="284" fill="#069c71"/><rect x="200" y="284" fill="#069c71"/><rect x="208" y="284" fill="#069c71"/><rect x="216" y="284" fill="#069c71"/><rect x="224" y="284" fill="#069c71"/><rect x="232" y="284" fill="#069c71"/><rect x="240" y="284" fill="#069c71"/><rect x="248" y="284" fill="#069c71"/><rect x="256" y="284" fill="#069c71"/><rect x="264" y="284" fill="#069c71"/><rect x="272" y="284" fill="#079c71"/><rect x="280" y="284" fill="#079c71"/><rect x="288" y="284" fill="#089c71"/><rect x="296" y="284" fill="#089c71"/><rect x="304" y="284" fill="#0a9d72"/><rect x="312" y="284" fill="#0d9e73"/><rect x="320" y="284" fill="#0f9e74"/><rect x="328" y="284" fill="#129f75"/><rect x="336" y="284" fill="#16a077"/><rect x="344" y="284" fill="#1aa178"/><rect x="352" y="284" fill="#1fa17a"/><rect x="360" y="284" fill="#23a27d"/><rect x="368" y="284" fill="#29a481"/><rect x="376" y="284" fill="#2ea585"/><rect x="384" y="284" fill="#34a689"/><rect x="392" y="284" fill="#3ba78d"/><rect x="400" y="284" fill="#42a891"/><rect x="408" y="284" fill="#49a995"/><rect x="416" y="284" fill="#50aa9a"/><rect x="424" y="284" fill="#57ab9e"/><rect x="432" y="284" fill="#5daca3"/><rect x="440" y="284" fill="#63ada7"/><rect x="448" y="284" fill="#69aeab"/><rect x="456" y="284" fill="#6fafb0"/><rect x="464" y="284" fill="#75afb4"/><rect x="472" y="284" fill="#7bb0b8"/><rect x="480" y="284" fill="#80b1bb"/><rect x="488" y="284" fill="#85b1be"/><rect x="496" y="284" fill="#8ab2c1"/><rect x="504" y="284" fill="#8fb2c4"/><rect x="512" y="284" fill="#92b1c5"/><rect x="520" y="284" fill="#94b0c7"/><rect x="528" y="284" fill="#96afc8"/><rect x="536" y="284" fill="#98adca"/><rect x="544" y="284" fill="#9aaccb"/><rect x="552" y="284" fill="#9baacb"/><rect x="560" y="284" fill="#9ca7ca"/><rect x="568" y="284" fill="#9da5ca"/><rect x="576" y="284" fill="#9ea3ca"/><rect x="584" y="284" fill="#9ea0c9"/><rect x="592" y="284" fill="#9f9dc8"/><rect x="600" y="284" fill="#9f9ac8"/><rect x="608" y="284" fill="#9f97c7"/><rect x="616" y="284" fill="#9e94c6"/><rect x="624" y="284" fill="#9d91c5"/><rect x="632" y="284" fill="#9c8dc4"/><rect x="640" y="284" fill="#9b8ac2"/><rect x="648" y="284" fill="#9b86c0"/><rect x="656" y="284" fill="#9a82be"/><rect x="664" y="284" fill="#9a7fbc"/><rect x="672" y="284" fill="#9a7aba"/><rect x="680" y="284" fill="#9a75b8"/><rect x="688" y="284" fill="#9a71b6"/><rect x="696" y="284" fill="#9a6cb4"/><rect x="704" y="284" fill="#9a66b1"/><rect x="712" y="284" fill="#9a5fad"/><rect x="720" y="284" fill="#9a59aa"/><rect x="728" y="284" fill="#9a52a7"/><rect x="736" y="284" fill="#9a4ca4"/><rect x="744" y="284" fill="#9a45a1"/><rect x="752" y="284" fill="#9a3f9d"/><rect x="760" y="284" fill="#9a399a"/><rect x="768" y="284" fill="#9a3498"/><rect x="776" y="284" fill="#993095"/><rect x="784" y="284" fill="#992b93"/><rect x="792" y="284" fill="#982992"/><rect x="800" y="284" fill="#972791"/><rect x="808" y="284" fill="#962690"/><rect x="816" y="284" fill="#96248f"/><rect x="824" y="284" fill="#96248f"/><rect x="832" y="284" fill="#96248f"/><rect x="840" y="284" fill="#96248f"/><rect x="848" y="284" fill="#96248f"/><rect x="856" y="284" fill="#96248f"/><rect x="864" y="284" fill="#96248f"/><rect x="872" y="284" fill="#96248f"/><rect x="880" y="284" fill="#96248f"/><rect x="888" y="284" fill="#96248f"/><rect x="896" y="284" fill="#96248f"/><rect x="904" y="284" fill="#96248f"/><rect x="912" y="284" fill="#96248f"/><rect x="920" y="284" fill="#96248f"/><rect x="928" y="284" fill="#96248f"/><rect x="936" y="284" fill="#96248f"/><rect x="944" y="284" fill="#96248f"/><rect x="952" y="284" fill="#96248f"/><rect x="960" y="284" fill="#96248f"/>
<rect x="128" y="292" fill="#069b76"/><rect x="136" y="292" fill="#069b76"/><rect x="144" y="292" fill="#069b76"/><rect x="152" y="292" fill="#069b76"/><rect x="160" y="292" fill="#069b76"/><rect x="168" y="292" fill="#069b76"/><rect x="176" y="292" fill="#069b76"/><rect x="184" y="292" fill="#069b76"/><rect x="192" y="292" fill="#069b76"/><rect x="200" y="292" fill="#069b76"/><rect x="208" y="292" fill="#069b76"/><rect x="216" y="292" fill="#069b76"/><rect x="224" y="292" fill="#069b76"/><rect x="232" y="292" fill="#069b76"/><rect x="240" y="292" fill="#069b76"/><rect x="248" y="292" fill="#079b76"/><rect x="256" y="292" fill="#079b75"/><rect x="264" y="292" fill="#079c75"/><rect x="272" y="292" fill="#089c75"/><rect x="280" y="292" fill="#089c75"/><rect x="288" y="292" fill="#089c74"/><rect x="296" y="292" fill="#099c74"/><rect x="304" y="292" fill="#0b9d75"/><rect x="312" y="292" fill="#0c9d76"/><rect x="320" y="292" fill="#0e9e77"/><rect x="328" y="292" fill="#109e79"/><rect x="336" y="292" fill="#149f7a"/><rect x="344" y="292" fill="#18a07b"/><rect x="352" y="292" fill="#1ba17c"/><rect x="360" y="292" fill="#1fa27f"/><rect x="368" y="292" fill="#24a383"/><rect x="376" y="292" fill="#28a487"/><rect x="384" y="292" fill="#2da58a"/><rect x="392" y="292" fill="#33a68e"/><rect x="400" y="292" fill="#39a792"/><rect x="408" y="292" fill="#40a895"/><rect x="416" y="292" fill="#47a998"/><rect x="424" y="292" fill="#4da99d"/><rect x="432" y="292" fill="#53aaa1"/><rect x="440" y="292" fill="#59aba6"/><rect x="448" y="292" fill="#5fabaa"/><rect x="456" y="292" fill="#65acae"/><rect x="464" y="292" fill="#6badb2"/><rect x="472" y="292" fill="#71aeb6"/><rect x="480" y="292" fill="#77afba"/><rect x="488" y="292" fill="#7dafbd"/><rect x="496" y="292" fill="#82b0c0"/><rect x="504" y="292" fill="#88b1c3"/><rect x="512" y="292" fill="#8bb0c5"/><rect x="520" y="292" fill="#8eaec7"/><rect x="528" y="292" fill="#90adc8"/><rect x="536" y="292" fill="#92abca"/><rect x="544" y="292" fill="#95aacc"/><rect x="552" y="292" fill="#96a8cb"/><rect x="560" y="292" fill="#97a5cb"/><rect x="568" y="292" fill="#98a3ca"/><rect x="576" y="292" fill="#99a0ca"/><rect x="584" y="292" fill="#999dc9"/><rect x="592" y="292" fill="#999ac8"/><rect x="600" y="292" fill="#9a98c8"/><rect x="608" y="292" fill="#9995c7"/><rect x="616" y="292" fill="#9891c6"/><rect x="624" y="292" fill="#968ec5"/><rect x="632" y="292" fill="#958bc4"/><rect x="640" y="292" fill="#9388c2"/><rect x="648" y="292" fill="#9284c0"/><rect x="656" y="292" fill="#9281be"/><rect x="664" y="292" fill="#917dbc"/><rect x="672" y="292" fill="#9179ba"/><rect x="680" y="292" fill="#9175b8"/><rect x="688" y="292" fill="#9170b6"/><rect x="696" y="292" fill="#916cb4"/><rect x="704" y="292" fill="#9166b1"/><rect x="712" y="292" fill="#915fae"/><rect x="720" y="292" fill="#9159aa"/><rect x="728" y="292" fill="#9152a7"/><rect x="736" y="292" fill="#914ca4"/><rect x="744" y="292" fill="#9145a0"/><rect x="752" y="292" fill="#913f9d"/><rect x="760" y="292" fill="#913a9a"/><rect x="768" y="292" fill="#903598"/><rect x="776" y="292" fill="#8f3195"/><rect x="784" y="292" fill="#8f2c93"/><rect x="792" y="292" fill="#8e2a92"/><rect x="800" y="292" fill="#8d2991"/><rect x="808" y="292" fill="#8d2890"/><rect x="816" y="292" fill="#8c2890"/><rect x="824" y="292" fill="#8c2890"/><rect x="832" y="292" fill="#8c2890"/><rect x="840" y="292" fill="#8c2890"/><rect x="848" y="292" fill="#8c2890"/><rect x="856" y="292" fill="#8c2890"/><rect x="864" y="292" fill="#8c2890"/><rect x="872" y="292" fill="#8c2890"/><rect x="880" y="292" fill="#8c2890"/><rect x="888" y="292" fill="#8c2890"/><rect x="896" y="292" fill="#8c2890"/><rect x="904" y="292" fill="#8c2890"/><rect x="912" y="292" fill="#8c2890"/><rect x="920" y="292" fill="#8c2890"/><rect x="928" y="292" fill="#8c2890"/><rect x="936" y="292" fill="#8c2890"/><rect x="944" y="292" fill="#8c2890"/><rect x="952" y="292" fill="#8c2890"/><rect x="960" y="292" fill="#8c2890"/>
<rect x="128" y="300" fill="#079b7a"/><rect x="136" y="300" fill="#079b7a"/><rect x="144" y="300" fill="#079b7a"/><rect x="152" y="300" fill="#079b7a"/><rect x="160" y="300" fill="#079b7a"/><rect x="168" y="300" fill="#079b7a"/><rect x="176" y="300" fill="#079b7a"/><rect x="184" y="300" fill="#079b7a"/><rect x="192" y="300" fill="#079b7a"/><rect x="200" y="300" fill="#079b7a"/><rect x="208" y="300" fill="#079b7a"/><rect x="216" y="300" fill="#079b7a"/><rect x="224" y="300" fill="#079b7a"/><rect x="232" y="300" fill="#079b7a"/><rect x="240" y="300" fill="#079b7a"/><rect x="248" y="300" fill="#079b7a"/><rect x="256" y="300" fill="#089b79"/><rect x="264" y="300" fill="#089b79"/><rect x="272" y="300" fill="#089b79"/><rect x="280" y="300" fill="#099c79"/><rect x="288" y="300" fill="#099c78"/><rect x="296" y="300" fill="#099c78"/><rect x="304" y="300" fill="#0b9c79"/><rect x="312" y="300" fill="#0c9d7a"/><rect x="320" y="300" fill="#0e9e7b"/><rect x="328" y="300" fill="#109e7c"/><rect x="336" y="300" fill="#139f7d"/><rect x="344" y="300" fill="#16a07e"/><rect x="352" y="300" fill="#19a07f"/><rect x="360" y="300" fill="#1ca181"/><rect x="368" y="300" fill="#20a285"/><rect x="376" y="300" fill="#24a389"/><rect x="384" y="300" fill="#27a48c"/><rect x="392" y="300" fill="#2da58f"/><rect x="400" y="300" fill="#33a693"/><rect x="408" y="300" fill="#39a796"/><rect x="416" y="300" fill="#3fa899"/><rect x="424" y="300" fill="#44a89d"/><rect x="432" y="300" fill="#4aa9a1"/><rect x="440" y="300" fill="#4fa9a5"/><rect x="448" y="300" fill="#55aaaa"/><rect x="456" y="300" fill="#5babae"/><rect x="464" y="300" fill="#61abb2"/><rect x="472" y="300" fill="#67acb6"/><rect x="480" y="300" fill="#6cadba"/><rect x="488" y="300" fill="#72aebd"/><rect x="496" y="300" fill="#78aec0"/><rect x="504" y="300" fill="#7eafc3"/><rect x="512" y="300" fill="#81aec5"/><rect x="520" y="300" fill="#84acc7"/><rect x="528" y="300" fill="#87abc9"/><rect x="536" y="300" fill="#8aa9cb"/><rect x="544" y="300" fill="#8ca8cc"/><rect x="552" y="300" fill="#8ea6cc"/><rect x="560" y="300" fill="#90a3cb"/><rect x="568" y="300" fill="#91a1cb"/><rect x="576" y="300" fill="#939eca"/><rect x="584" y="300" fill="#939bc9"/><rect x="592" y="300" fill="#9398c8"/><rect x="600" y="300" fill="#9396c8"/><rect x="608" y="300" fill="#9392c7"/><rect x="616" y="300" fill="#918fc6"/><rect x="624" y="300" fill="#908cc4"/><rect x="632" y="300" fill="#8e89c3"/><rect x="640" y="300" fill="#8c86c2"/><rect x="648" y="300" fill="#8b82c0"/><rect x="656" y="300" fill="#8a7fbe"/><rect x="664" y="300" fill="#897cbc"/><rect x="672" y="300" fill="#8978ba"/><rect x="680" y="300" fill="#8974b8"/><rect x="688" y="300" fill="#896fb6"/><rect x="696" y="300" fill="#896bb4"/><rect x="704" y="300" fill="#8965b1"/><rect x="712" y="300" fill="#895ead"/><rect x="720" y="300" fill="#8a58aa"/><rect x="728" y="300" fill="#8a52a7"/><rect x="736" y="300" fill="#8a4ba3"/><rect x="744" y="300" fill="#8a45a0"/><rect x="752" y="300" fill="#8a3f9d"/><rect x="760" y="300" fill="#893a9a"/><rect x="768" y="300" fill="#893698"/><rect x="776" y="300" fill="#883295"/><rect x="784" y="300" fill="#882e93"/><rect x="792" y="300" fill="#872c92"/><rect x="800" y="300" fill="#862b91"/><rect x="808" y="300" fill="#852a91"/><rect x="816" y="300" fill="#852a90"/><rect x="824" y="300" fill="#852a90"/><rect x="832" y="300" fill="#852a90"/><rect x="840" y="300" fill="#852a90"/><rect x="848" y="300" fill="#852a90"/><rect x="856" y="300" fill="#852a90"/><rect x="864" y="300" fill="#852a90"/><rect x="872" y="300" fill="#852a90"/><rect x="880" y="300" fill="#852a90"/><rect x="888" y="300" fill="#852a90"/><rect x="896" y="300" fill="#852a90"/><rect x="904" y="300" fill="#852a90"/><rect x="912" y="300" fill="#852a90"/><rect x="920" y="300" fill="#852a90"/><rect x="928" y="300" fill="#852a90"/><rect x="936" y="300" fill="#852a90"/><rect x="944" y="300" fill="#852a90"/><rect x="952" y="300" fill="#852a90"/><rect x="960" y="300" fill="#852a90"/>
<rect x="136" y="308" fill="#089b7d"/><rect x="144" y="308" fill="#089b7d"/><rect x="152" y="308" fill="#089b7d"/><rect x="160" y="308" fill="#089b7d"/><rect x="168" y="308" fill="#089b7d"/><rect x="176" y="308" fill="#089b7d"/><rect x="184" y="308" fill="#089b7d"/><rect x="192" y="308" fill="#089b7d"/><rect x="200" y="308" fill="#089b7d"/><rect x="208" y="308" fill="#089b7d"/><rect x="216" y="308" fill="#089b7d"/><rect x="224" y="308" fill="#089b7d"/><rect x="232" y="308" fill="#089b7d"/><rect x="240" y="308" fill="#089b7d"/><rect x="248" y="308" fill="#089b7d"/><rect x="256" y="308" fill="#099b7d"/><rect x="264" y="308" fill="#099b7d"/><rect x="272" y="308" fill="#099b7d"/><rect x="280" y="308" fill="#0a9b7c"/><rect x="288" y="308" fill="#0a9c7c"/><rect x="296" y="308" fill="#0a9c7c"/><rect x="304" y="308" fill="#0b9c7d"/><rect x="312" y="308" fill="#0d9d7e"/><rect x="320" y="308" fill="#0e9d7f"/><rect x="328" y="308" fill="#109e80"/><rect x="336" y="308" fill="#129f81"/><rect x="344" y="308" fill="#159f81"/><rect x="352" y="308" fill="#18a082"/><rect x="360" y="308" fill="#1ba184"/><rect x="368" y="308" fill="#1ea288"/><rect x="376" y="308" fill="#21a38b"/><rect x="384" y="308" fill="#24a48e"/><rect x="392" y="308" fill="#29a591"/><rect x="400" y="308" fill="#2ea694"/><rect x="408" y="308" fill="#33a697"/><rect x="416" y="308" fill="#38a79a"/><rect x="424" y="308" fill="#3da89f"/><rect x="432" y="308" fill="#41a8a3"/><rect x="440" y="308" fill="#46a9a7"/><rect x="448" y="308" fill="#4ba9ab"/><rect x="456" y="308" fill="#50aaaf"/><rect x="464" y="308" fill="#55abb3"/><rect x="472" y="308" fill="#5aabb7"/><rect x="480" y="308" fill="#60acba"/><rect x="488" y="308" fill="#65acbd"/><rect x="496" y="308" fill="#6bacc1"/><rect x="504" y="308" fill="#70adc4"/><rect x="512" y="308" fill="#74acc6"/><rect x="520" y="308" fill="#77aac8"/><rect x="528" y="308" fill="#7ba9ca"/><rect x="536" y="308" fill="#7ea7cb"/><rect x="544" y="308" fill="#81a6cd"/><rect x="552" y="308" fill="#84a4cc"/><rect x="560" y="308" fill="#87a1cc"/><rect x="568" y="308" fill="#899fcb"/><rect x="576" y="308" fill="#8c9dca"/><rect x="584" y="308" fill="#8c9ac9"/><rect x="592" y="308" fill="#8c97c8"/><rect x="600" y="308" fill="#8c94c7"/><rect x="608" y="308" fill="#8c91c6"/><rect x="616" y="308" fill="#8a8ec5"/><rect x="624" y="308" fill="#898bc4"/><rect x="632" y="308" fill="#8788c3"/><rect x="640" y="308" fill="#8684c2"/><rect x="648" y="308" fill="#8581c0"/><rect x="656" y="308" fill="#847ebe"/><rect x="664" y="308" fill="#837bbc"/><rect x="672" y="308" fill="#8377ba"/><rect x="680" y="308" fill="#8372b8"/><rect x="688" y="308" fill="#846eb6"/><rect x="696" y="308" fill="#8469b3"/><rect x="704" y="308" fill="#8463b0"/><rect x="712" y="308" fill="#845cad"/><rect x="720" y="308" fill="#8556aa"/><rect x="728" y="308" fill="#8550a6"/><rect x="736" y="308" fill="#854aa3"/><rect x="744" y="308" fill="#8544a0"/><rect x="752" y="308" fill="#853f9d"/><rect x="760" y="308" fill="#853a9a"/><rect x="768" y="308" fill="#843698"/><rect x="776" y="308" fill="#833296"/><rect x="784" y="308" fill="#832f94"/><rect x="792" y="308" fill="#822d93"/><rect x="800" y="308" fill="#812c92"/><rect x="808" y="308" fill="#812c92"/><rect x="816" y="308" fill="#802b91"/><rect x="824" y="308" fill="#802b91"/><rect x="832" y="308" fill="#802b91"/><rect x="840" y="308" fill="#802b91"/><rect x="848" y="308" fill="#802b91"/><rect x="856" y="308" fill="#802b91"/><rect x="864" y="308" fill="#802b91"/><rect x="872" y="308" fill="#802b91"/><rect x="880" y="308" fill="#802b91"/><rect x="888" y="308" fill="#802b91"/><rect x="896" y="308" fill="#802b91"/><rect x="904" y="308" fill="#802b91"/><rect x="912" y="308" fill="#802b91"/><rect x="920" y="308" fill="#802b91"/><rect x="928" y="308" fill="#802b91"/><rect x="936" y="308" fill="#802b91"/><rect x="944" y="308" fill="#802b91"/><rect x="952" y="308" fill="#802b91"/>
<rect x="136" y="316" fill="#099a81"/><rect x="144" y="316" fill="#099a81"/><rect x="152" y="316" fill="#099a81"/><rect x="160" y="316" fill="#099a81"/><rect x="168" y="316" fill="#099a81"/><rect x="176" y="316" fill="#099a81"/><rect x="184" y="316" fill="#099a81"/><rect x="192" y="316" fill="#099a81"/><rect x="200" y="316" fill="#099a81"/><rect x="208" y="316" fill="#099a81"/><rect x="216" y="316" fill="#099a81"/><rect x="224" y="316" fill="#099a81"/><rect x="232" y="316" fill="#099a81"/><rect x="240" y="316" fill="#099a81"/><rect x="248" y="316" fill="#099b81"/><rect x="256" y="316" fill="#099b81"/><rect x="264" y="316" fill="#0a9b81"/><rect x="272" y="316" fill="#0a9b80"/><rect x="280" y="316" fill="#0a9b80"/><rect x="288" y="316" fill="#0b9b80"/><rect x="296" y="316" fill="#0b9c80"/><rect x="304" y="316" fill="#0c9c81"/><rect x="312" y="316" fill="#0d9d82"/><rect x="320" y="316" fill="#0e9d82"/><rect x="328" y="316" fill="#109e83"/><rect x="336" y="316" fill="#129e84"/><rect x="344" y="316" fill="#149f85"/><rect x="352" y="316" fill="#16a086"/><rect x="360" y="316" fill="#19a087"/><rect x="368" y="316" fill="#1ca18a"/><rect x="376" y="316" fill="#1ea28d"/><rect x="384" y="316" fill="#21a390"/><rect x="392" y="316" fill="#25a493"/><rect x="400" y="316" fill="#29a596"/><rect x="408" y="316" fill="#2da699"/><rect x="416" y="316" fill="#31a69c"/><rect x="424" y="316" fill="#35a7a0"/><rect x="432" y="316" fill="#39a8a4"/><rect x="440" y="316" fill="#3da8a8"/><rect x="448" y="316" fill="#41a9ac"/><rect x="456" y="316" fill="#45a9b0"/><rect x="464" y="316" fill="#4aaab3"/><rect x="472" y="316" fill="#4eaab7"/><rect x="480" y="316" fill="#53abbb"/><rect x="488" y="316" fill="#58abbe"/><rect x="496" y="316" fill="#5dabc1"/><rect x="504" y="316" fill="#63abc4"/><rect x="512" y="316" fill="#67aac6"/><rect x="520" y="316" fill="#6ba8c8"/><rect x="528" y="316" fill="#6ea7ca"/><rect x="536" y="316" fill="#72a5cc"/><rect x="544" y="316" fill="#76a4ce"/><rect x="552" y="316" fill="#7aa2cd"/><rect x="560" y="316" fill="#7ea0cc"/><rect x="568" y="316" fill="#829ecb"/><rect x="576" y="316" fill="#869cca"/><rect x="584" y="316" fill="#8599c9"/><rect x="592" y="316" fill="#8596c8"/><rect x="600" y="316" fill="#8593c7"/><rect x="608" y="316" fill="#8590c6"/><rect x="616" y="316" fill="#848cc5"/><rect x="624" y="316" fill="#8289c4"/><rect x="632" y="316" fill="#8186c3"/><rect x="640" y="316" fill="#8083c1"/><rect x="648" y="316" fill="#7f80c0"/><rect x="656" y="316" fill="#7e7cbe"/><rect x="664" y="316" fill="#7d79bc"/><rect x="672" y="316" fill="#7d75ba"/><rect x="680" y="316" fill="#7e71b8"/><rect x="688" y="316" fill="#7e6cb5"/><rect x="696" y="316" fill="#7e68b3"/><rect x="704" y="316" fill="#7f61b0"/><rect x="712" y="316" fill="#7f5bac"/><rect x="720" y="316" fill="#8054a9"/><rect x="728" y="316" fill="#804ea6"/><rect x="736" y="316" fill="#8049a3"/><rect x="744" y="316" fill="#8044a0"/><rect x="752" y="316" fill="#803e9d"/><rect x="760" y="316" fill="#803a9a"/><rect x="768" y="316" fill="#7f3698"/><rect x="776" y="316" fill="#7f3396"/><rect x="784" y="316" fill="#7e3094"/><rect x="792" y="316" fill="#7d2e94"/><rect x="800" y="316" fill="#7d2e93"/><rect x="808" y="316" fill="#7c2d93"/><rect x="816" y="316" fill="#7b2c92"/><rect x="824" y="316" fill="#7b2c92"/><rect x="832" y="316" fill="#7b2c92"/><rect x="840" y="316" fill="#7b2c92"/><rect x="848" y="316" fill="#7b2c92"/><rect x="856" y="316" fill="#7b2c92"/><rect x="864" y="316" fill="#7b2c92"/><rect x="872" y="316" fill="#7b2c92"/><rect x="880" y="316" fill="#7b2c92"/><rect x="888" y="316" fill="#7b2c92"/><rect x="896" y="316" fill="#7b2c92"/><rect x="904" y="316" fill="#7b2c92"/><rect x="912" y="316" fill="#7b2c92"/><rect x="920" y="316" fill="#7b2c92"/><rect x="928" y="316" fill="#7b2c92"/><rect x="936" y="316" fill="#7b2c92"/><rect x="944" y="316" fill="#7b2c92"/><rect x="952" y="316" fill="#7b2c92"/>
<rect x="136" y="324" fill="#0a9a85"/><rect x="144" y="324" fill="#0a9a85"/><rect x="152" y="324" fill="#0a9a85"/><rect x="160" y="324" fill="#0a9a85"/><rect x="168" y="324" fill="#0a9a85"/><rect x="176" y="324" fill="#0a9a85"/><rect x="184" y="324" fill="#0a9a85"/><rect x="192" y="324" fill="#0a9a85"/><rect x="200" y="324" fill="#0a9a85"/><rect x="208" y="324" fill="#0a9a85"/><rect x="216" y="324" fill="#0a9a85"/><rect x="224" y="324" fill="#0a9a85"/><rect x="232" y="324" fill="#0a9a85"/><rect x="240" y="324" fill="#0a9a85"/><rect x="248" y="324" fill="#0a9a85"/><rect x="256" y="324" fill="#0a9a84"/><rect x="264" y="324" fill="#0b9b84"/><rect x="272" y="324" fill="#0b9b84"/><rect x="280" y="324" fill="#0b9b84"/><rect x="288" y="324" fill="#0b9b84"/><rect x="296" y="324" fill="#0c9b84"/><rect x="304" y="324" fill="#0d9c85"/><rect x="312" y="324" fill="#0e9c85"/><rect x="320" y="324" fill="#0e9d86"/><rect x="328" y="324" fill="#0f9d87"/><rect x="336" y="324" fill="#119e87"/><rect x="344" y="324" fill="#139f88"/><rect x="352" y="324" fill="#159f89"/><rect x="360" y="324" fill="#17a08b"/><rect x="368" y="324" fill="#1aa18d"/><rect x="376" y="324" fill="#1ca290"/><rect x="384" y="324" fill="#1ea392"/><rect x="392" y="324" fill="#21a495"/><rect x="400" y="324" fill="#24a498"/><rect x="408" y="324" fill="#27a59b"/><rect x="416" y="324" fill="#2aa69e"/><rect x="424" y="324" fill="#2da6a1"/><rect x="432" y="324" fill="#31a7a5"/><rect x="440" y="324" fill="#34a8a9"/><rect x="448" y="324" fill="#37a8ad"/><rect x="456" y="324" fill="#3ba8b1"/><rect x="464" y="324" fill="#3ea9b4"/><rect x="472" y="324" fill="#41a9b8"/><rect x="480" y="324" fill="#46a9bb"/><rect x="488" y="324" fill="#4ba9be"/><rect x="496" y="324" fill="#50a9c1"/><rect x="504" y="324" fill="#55a9c5"/><rect x="512" y="324" fill="#5aa8c7"/><rect x="520" y="324" fill="#5ea6c9"/><rect x="528" y="324" fill="#62a5cb"/><rect x="536" y="324" fill="#67a3cd"/><rect x="544" y="324" fill="#6ba2cf"/><rect x="552" y="324" fill="#70a0ce"/><rect x="560" y="324" fill="#759ecc"/><rect x="568" y="324" fill="#7a9ccb"/><rect x="576" y="324" fill="#7f9aca"/><rect x="584" y="324" fill="#7f97c9"/><rect x="592" y="324" fill="#7e94c8"/><rect x="600" y="324" fill="#7e91c7"/><rect x="608" y="324" fill="#7e8ec6"/><rect x="616" y="324" fill="#7d8bc5"/><rect x="624" y="324" fill="#7c88c3"/><rect x="632" y="324" fill="#7b85c2"/><rect x="640" y="324" fill="#7a82c1"/><rect x="648" y="324" fill="#797ebf"/><rect x="656" y="324" fill="#787bbe"/><rect x="664" y="324" fill="#7778bc"/><rect x="672" y="324" fill="#7774ba"/><rect x="680" y="324" fill="#786fb8"/><rect x="688" y="324" fill="#796ab5"/><rect x="696" y="324" fill="#7966b3"/><rect x="704" y="324" fill="#7a5faf"/><rect x="712" y="324" fill="#7a59ac"/><rect x="720" y="324" fill="#7b52a8"/><rect x="728" y="324" fill="#7b4ca5"/><rect x="736" y="324" fill="#7b48a2"/><rect x="744" y="324" fill="#7b439f"/><rect x="752" y="324" fill="#7b3e9c"/><rect x="760" y="324" fill="#7b3a9a"/><rect x="768" y="324" fill="#7a3799"/><rect x="776" y="324" fill="#7a3497"/><rect x="784" y="324" fill="#793195"/><rect x="792" y="324" fill="#793094"/><rect x="800" y="324" fill="#782f94"/><rect x="808" y="324" fill="#772e93"/><rect x="816" y="324" fill="#762d93"/><rect x="824" y="324" fill="#762d93"/><rect x="832" y="324" fill="#762d93"/><rect x="840" y="324" fill="#762d93"/><rect x="848" y="324" fill="#762d93"/><rect x="856" y="324" fill="#762d93"/><rect x="864" y="324" fill="#762d93"/><rect x="872" y="324" fill="#762d93"/><rect x="880" y="324" fill="#762d93"/><rect x="888" y="324" fill="#762d93"/><rect x="896" y="324" fill="#762d93"/><rect x="904" y="324" fill="#762d93"/><rect x="912" y="324" fill="#762d93"/><rect x="920" y="324" fill="#762d93"/><rect x="928" y="324" fill="#762d93"/><rect x="936" y="324" fill="#762d93"/><rect x="944" y="324" fill="#762d93"/><rect x="952" y="324" fill="#762d93"/>
<rect x="144" y="332" fill="#0b9a88"/><rect x="152" y="332" fill="#0b9a88"/><rect x="160" y="332" fill="#0b9a88"/><rect x="168" y="332" fill="#0b9a88"/><rect x="176" y="332" fill="#0b9a88"/><rect x="184" y="332" fill="#0b9a88"/><rect x="192" y="332" fill="#0b9a88"/><rect x="200" y="332" fill="#0b9a88"/><rect x="208" y="332" fill="#0b9a88"/><rect x="216" y="332" fill="#0b9a88"/><rect x="224" y="332" fill="#0b9a88"/><rect x="232" y="332" fill="#0b9a88"/><rect x="240" y="332" fill="#0b9a88"/><rect x="248" y="332" fill="#0b9a88"/><rect x="256" y="332" fill="#0b9a88"/><rect x="264" y="332" fill="#0b9a88"/><rect x="272" y="332" fill="#0c9b88"/><rect x="280" y="332" fill="#0c9b88"/><rect x="288" y="332" fill="#0c9b88"/><rect x="296" y="332" fill="#0d9b88"/><rect x="304" y="332" fill="#0d9c89"/><rect x="312" y="332" fill="#0e9c89"/><rect x="320" y="332" fill="#0f9d8a"/><rect x="328" y="332" fill="#0f9d8a"/><rect x="336" y="332" fill="#119e8b"/><rect x="344" y="332" fill="#129e8c"/><rect x="352" y="332" fill="#149f8c"/><rect x="360" y="332" fill="#16a08e"/><rect x="368" y="332" fill="#17a090"/><rect x="376" y="332" fill="#19a192"/><rect x="384" y="332" fill="#1ba294"/><rect x="392" y="332" fill="#1da397"/><rect x="400" y="332" fill="#1fa49a"/><rect x="408" y="332" fill="#21a49c"/><rect x="416" y="332" fill="#23a59f"/><rect x="424" y="332" fill="#26a6a3"/><rect x="432" y="332" fill="#28a6a7"/><rect x="440" y="332" fill="#2ba7ab"/><rect x="448" y="332" fill="#2da7ae"/><rect x="456" y="332" fill="#30a8b2"/><rect x="464" y="332" fill="#33a8b5"/><rect x="472" y="332" fill="#35a8b8"/><rect x="480" y="332" fill="#39a8bb"/><rect x="488" y="332" fill="#3ea8bf"/><rect x="496" y="332" fill="#43a8c2"/><rect x="504" y="332" fill="#48a7c5"/><rect x="512" y="332" fill="#4ca6c7"/><rect x="520" y="332" fill="#51a4c9"/><rect x="528" y="332" fill="#56a3cb"/><rect x="536" y="332" fill="#5ba1ce"/><rect x="544" y="332" fill="#60a0d0"/><rect x="552" y="332" fill="#669ece"/><rect x="560" y="332" fill="#6c9ccd"/><rect x="568" y="332" fill="#729bcb"/><rect x="576" y="332" fill="#7899ca"/><rect x="584" y="332" fill="#7896c9"/><rect x="592" y="332" fill="#7793c8"/><rect x="600" y="332" fill="#7790c7"/><rect x="608" y="332" fill="#768dc6"/><rect x="616" y="332" fill="#768ac4"/><rect x="624" y="332" fill="#7586c3"/><rect x="632" y="332" fill="#7483c2"/><rect x="640" y="332" fill="#7480c1"/><rect x="648" y="332" fill="#737dbf"/><rect x="656" y="332" fill="#727abe"/><rect x="664" y="332" fill="#7176bc"/><rect x="672" y="332" fill="#7272ba"/><rect x="680" y="332" fill="#726db7"/><rect x="688" y="332" fill="#7369b5"/><rect x="696" y="332" fill="#7464b2"/><rect x="704" y="332" fill="#745eaf"/><rect x="712" y="332" fill="#7557ab"/><rect x="720" y="332" fill="#7651a8"/><rect x="728" y="332" fill="#764ba5"/><rect x="736" y="332" fill="#7646a2"/><rect x="744" y="332" fill="#76429f"/><rect x="752" y="332" fill="#763d9c"/><rect x="760" y="332" fill="#763a9a"/><rect x="768" y="332" fill="#763799"/><rect x="776" y="332" fill="#753597"/><rect x="784" y="332" fill="#753296"/><rect x="792" y="332" fill="#743195"/><rect x="800" y="332" fill="#733095"/><rect x="808" y="332" fill="#722f94"/><rect x="816" y="332" fill="#712e94"/><rect x="824" y="332" fill="#712e94"/><rect x="832" y="332" fill="#712e94"/><rect x="840" y="332" fill="#712e94"/><rect x="848" y="332" fill="#712e94"/><rect x="856" y="332" fill="#712e94"/><rect x="864" y="332" fill="#712e94"/><rect x="872" y="332" fill="#712e94"/><rect x="880" y="332" fill="#712e94"/><rect x="888" y="332" fill="#712e94"/><rect x="896" y="332" fill="#712e94"/><rect x="904" y="332" fill="#712e94"/><rect x="912" y="332" fill="#712e94"/><rect x="920" y="332" fill="#712e94"/><rect x="928" y="332" fill="#712e94"/><rect x="936" y="332" fill="#712e94"/><rect x="944" y="332" fill="#712e94"/>
<rect x="144" y="340" fill="#0b9a8c"/><rect x="152" y="340" fill="#0b9a8c"/><rect x="160" y="340" fill="#0b9a8c"/><rect x="168" y="340" fill="#0b9a8c"/><rect x="176" y="340" fill="#0b9a8c"/><rect x="184" y="340" fill="#0b9a8c"/><rect x="192" y="340" fill="#0b9a8c"/><rect x="200" y="340" fill="#0b9a8c"/><rect x="208" y="340" fill="#0b9a8c"/><rect x="216" y="340" fill="#0b9a8c"/><rect x="224" y="340" fill="#0b9a8c"/><rect x="232" y="340" fill="#0b9a8c"/><rect x="240" y="340" fill="#0b9a8c"/><rect x="248" y="340" fill="#0b9a8c"/><rect x="256" y="340" fill="#0c9a8c"/><rect x="264" y="340" fill="#0c9a8c"/><rect x="272" y="340" fill="#0c9b8c"/><rect x="280" y="340" fill="#0c9b8c"/><rect x="288" y="340" fill="#0d9b8c"/><rect x="296" y="340" fill="#0d9b8c"/><rect x="304" y="340" fill="#0e9c8c"/><rect x="312" y="340" fill="#0e9c8d"/><rect x="320" y="340" fill="#0f9d8d"/><rect x="328" y="340" fill="#0f9d8e"/><rect x="336" y="340" fill="#119e8f"/><rect x="344" y="340" fill="#129e8f"/><rect x="352" y="340" fill="#139f90"/><rect x="360" y="340" fill="#149f91"/><rect x="368" y="340" fill="#16a094"/><rect x="376" y="340" fill="#17a196"/><rect x="384" y="340" fill="#18a298"/><rect x="392" y="340" fill="#1aa39a"/><rect x="400" y="340" fill="#1ba39d"/><rect x="408" y="340" fill="#1ca4a0"/><rect x="416" y="340" fill="#1ea5a2"/><rect x="424" y="340" fill="#1fa5a6"/><rect x="432" y="340" fill="#21a6aa"/><rect x="440" y="340" fill="#23a6ae"/><rect x="448" y="340" fill="#25a7b1"/><rect x="456" y="340" fill="#27a7b4"/><rect x="464" y="340" fill="#28a7b8"/><rect x="472" y="340" fill="#2aa7bb"/><rect x="480" y="340" fill="#2da7be"/><rect x="488" y="340" fill="#31a7c1"/><rect x="496" y="340" fill="#35a6c4"/><rect x="504" y="340" fill="#39a6c8"/><rect x="512" y="340" fill="#3da5ca"/><rect x="520" y="340" fill="#42a3cc"/><rect x="528" y="340" fill="#46a2ce"/><rect x="536" y="340" fill="#4aa1d0"/><rect x="544" y="340" fill="#4f9fd2"/><rect x="552" y="340" fill="#579dd0"/><rect x="560" y="340" fill="#609bce"/><rect x="568" y="340" fill="#6899cd"/><rect x="576" y="340" fill="#7196cb"/><rect x="584" y="340" fill="#7093ca"/><rect x="592" y="340" fill="#7090c8"/><rect x="600" y="340" fill="#708dc7"/><rect x="608" y="340" fill="#6f8ac6"/><rect x="616" y="340" fill="#6f87c4"/><rect x="624" y="340" fill="#6f84c3"/><rect x="632" y="340" fill="#6e81c1"/><rect x="640" y="340" fill="#6e7dc0"/><rect x="648" y="340" fill="#6d7abe"/><rect x="656" y="340" fill="#6d76bc"/><rect x="664" y="340" fill="#6d72bb"/><rect x="672" y="340" fill="#6d6eb8"/><rect x="680" y="340" fill="#6d69b6"/><rect x="688" y="340" fill="#6e64b3"/><rect x="696" y="340" fill="#6e5fb0"/><rect x="704" y="340" fill="#6e59ad"/><rect x="712" y="340" fill="#6f53aa"/><rect x="720" y="340" fill="#6f4da6"/><rect x="728" y="340" fill="#6f48a3"/><rect x="736" y="340" fill="#6f44a0"/><rect x="744" y="340" fill="#6e409e"/><rect x="752" y="340" fill="#6e3c9b"/><rect x="760" y="340" fill="#6d3999"/><rect x="768" y="340" fill="#6c3798"/><rect x="776" y="340" fill="#6b3597"/><rect x="784" y="340" fill="#6a3396"/><rect x="792" y="340" fill="#693195"/><rect x="800" y="340" fill="#683194"/><rect x="808" y="340" fill="#673094"/><rect x="816" y="340" fill="#662f94"/><rect x="824" y="340" fill="#662f94"/><rect x="832" y="340" fill="#662f94"/><rect x="840" y="340" fill="#662f94"/><rect x="848" y="340" fill="#662f94"/><rect x="856" y="340" fill="#662f94"/><rect x="864" y="340" fill="#662f94"/><rect x="872" y="340" fill="#662f94"/><rect x="880" y="340" fill="#662f94"/><rect x="888" y="340" fill="#662f94"/><rect x="896" y="340" fill="#662f94"/><rect x="904" y="340" fill="#662f94"/><rect x="912" y="340" fill="#662f94"/><rect x="920" y="340" fill="#662f94"/><rect x="928" y="340" fill="#662f94"/><rect x="936" y="340" fill="#662f94"/><rect x="944" y="340" fill="#662f94"/>
<rect x="152" y="348" fill="#0c9a8f"/><rect x="160" y="348" fill="#0c9a8f"/><rect x="168" y="348" fill="#0c9a8f"/><rect x="176" y="348" fill="#0c9a8f"/><rect x="184" y="348" fill="#0c9a8f"/><rect x="192" y="348" fill="#0c9a8f"/><rect x="200" y="348" fill="#0c9a8f"/><rect x="208" y="348" fill="#0c9a8f"/><rect x="216" y="348" fill="#0c9a8f"/><rect x="224" y="348" fill="#0c9a8f"/><rect x="232" y="348" fill="#0c9a8f"/><rect x="240" y="348" fill="#0c9a8f"/><rect x="248" y="348" fill="#0c9a8f"/><rect x="256" y="348" fill="#0c9a8f"/><rect x="264" y="348" fill="#0d9a8f"/><rect x="272" y="348" fill="#0d9b8f"/><rect x="280" y="348" fill="#0d9b8f"/><rect x="288" y="348" fill="#0d9b8f"/><rect x="296" y="348" fill="#0d9b8f"/><rect x="304" y="348" fill="#0e9c8f"/><rect x="312" y="348" fill="#0e9c90"/><rect x="320" y="348" fill="#0f9d90"/><rect x="328" y="348" fill="#0f9d91"/><rect x="336" y="348" fill="#109e92"/><rect x="344" y="348" fill="#119e93"/><rect x="352" y="348" fill="#129f95"/><rect x="360" y="348" fill="#13a096"/><rect x="368" y="348" fill="#14a098"/><rect x="376" y="348" fill="#15a19a"/><rect x="384" y="348" fill="#16a29d"/><rect x="392" y="348" fill="#17a39f"/><rect x="400" y="348" fill="#18a3a2"/><rect x="408" y="348" fill="#18a4a5"/><rect x="416" y="348" fill="#19a5a7"/><rect x="424" y="348" fill="#1aa5ab"/><rect x="432" y="348" fill="#1ba5af"/><rect x="440" y="348" fill="#1ca6b3"/><rect x="448" y="348" fill="#1da6b6"/><rect x="456" y="348" fill="#1ea6b9"/><rect x="464" y="348" fill="#1fa6bd"/><rect x="472" y="348" fill="#20a7c0"/><rect x="480" y="348" fill="#22a6c3"/><rect x="488" y="348" fill="#24a6c6"/><rect x="496" y="348" fill="#27a5c9"/><rect x="504" y="348" fill="#29a5cc"/><rect x="512" y="348" fill="#2ca4cf"/><rect x="520" y="348" fill="#2fa3d0"/><rect x="528" y="348" fill="#32a2d2"/><rect x="536" y="348" fill="#35a1d4"/><rect x="544" y="348" fill="#38a0d6"/><rect x="552" y="348" fill="#429dd4"/><rect x="560" y="348" fill="#4b9bd2"/><rect x="568" y="348" fill="#5598d0"/><rect x="576" y="348" fill="#5f95ce"/><rect x="584" y="348" fill="#5f92cd"/><rect x="592" y="348" fill="#5f8fcb"/><rect x="600" y="348" fill="#5f8bc9"/><rect x="608" y="348" fill="#5f88c8"/><rect x="616" y="348" fill="#5f85c6"/><rect x="624" y="348" fill="#5f81c4"/><rect x="632" y="348" fill="#5f7ec2"/><rect x="640" y="348" fill="#5f7bc0"/><rect x="648" y="348" fill="#5f76be"/><rect x="656" y="348" fill="#5f72bc"/><rect x="664" y="348" fill="#5f6eba"/><rect x="672" y="348" fill="#6069b8"/><rect x="680" y="348" fill="#6064b5"/><rect x="688" y="348" fill="#605fb2"/><rect x="696" y="348" fill="#6159af"/><rect x="704" y="348" fill="#6154ac"/><rect x="712" y="348" fill="#6150a8"/><rect x="720" y="348" fill="#614ba5"/><rect x="728" y="348" fill="#6146a2"/><rect x="736" y="348" fill="#60429f"/><rect x="744" y="348" fill="#5f3e9c"/><rect x="752" y="348" fill="#5f3a9a"/><rect x="760" y="348" fill="#5e3798"/><rect x="768" y="348" fill="#5d3697"/><rect x="776" y="348" fill="#5b3495"/><rect x="784" y="348" fill="#5a3394"/><rect x="792" y="348" fill="#593294"/><rect x="800" y="348" fill="#573194"/><rect x="808" y="348" fill="#563193"/><rect x="816" y="348" fill="#543093"/><rect x="824" y="348" fill="#543093"/><rect x="832" y="348" fill="#543093"/><rect x="840" y="348" fill="#543093"/><rect x="848" y="348" fill="#543093"/><rect x="856" y="348" fill="#543093"/><rect x="864" y="348" fill="#543093"/><rect x="872" y="348" fill="#543093"/><rect x="880" y="348" fill="#543093"/><rect x="888" y="348" fill="#543093"/><rect x="896" y="348" fill="#543093"/><rect x="904" y="348" fill="#543093"/><rect x="912" y="348" fill="#543093"/><rect x="920" y="348" fill="#543093"/><rect x="928" y="348" fill="#543093"/><rect x="936" y="348" fill="#543093"/>
<rect x="152" y="356" fill="#0d9a91"/><rect x="160" y="356" fill="#0d9a91"/><rect x="168" y="356" fill="#0d9a91"/><rect x="176" y="356" fill="#0d9a91"/><rect x="184" y="356" fill="#0d9a91"/><rect x="192" y="356" fill="#0d9a91"/><rect x="200" y="356" fill="#0d9a91"/><rect x="208" y="356" fill="#0d9a91"/><rect x="216" y="356" fill="#0d9a91"/><rect x="224" y="356" fill="#0d9a91"/><rect x="232" y="356" fill="#0d9a91"/><rect x="240" y="356" fill="#0d9a91"/><rect x="248" y="356" fill="#0d9a91"/><rect x="256" y="356" fill="#0d9a91"/><rect x="264" y="356" fill="#0d9a91"/><rect x="272" y="356" fill="#0d9b91"/><rect x="280" y="356" fill="#0d9b91"/><rect x="288" y="356" fill="#0e9b91"/><rect x="296" y="356" fill="#0e9b92"/><rect x="304" y="356" fill="#0e9c92"/><rect x="312" y="356" fill="#0e9c93"/><rect x="320" y="356" fill="#0f9d94"/><rect x="328" y="356" fill="#0f9d95"/><rect x="336" y="356" fill="#109e96"/><rect x="344" y="356" fill="#119f98"/><rect x="352" y="356" fill="#119f99"/><rect x="360" y="356" fill="#12a09b"/><rect x="368" y="356" fill="#13a19d"/><rect x="376" y="356" fill="#13a19f"/><rect x="384" y="356" fill="#14a2a1"/><rect x="392" y="356" fill="#14a2a4"/><rect x="400" y="356" fill="#14a3a7"/><rect x="408" y="356" fill="#14a4aa"/><rect x="416" y="356" fill="#14a4ad"/><rect x="424" y="356" fill="#14a5b1"/><rect x="432" y="356" fill="#15a5b5"/><rect x="440" y="356" fill="#15a5b8"/><rect x="448" y="356" fill="#15a5bc"/><rect x="456" y="356" fill="#15a5bf"/><rect x="464" y="356" fill="#15a5c2"/><rect x="472" y="356" fill="#15a6c6"/><rect x="480" y="356" fill="#16a5c9"/><rect x="488" y="356" fill="#17a5cb"/><rect x="496" y="356" fill="#18a5ce"/><rect x="504" y="356" fill="#18a4d1"/><rect x="512" y="356" fill="#1aa4d3"/><rect x="520" y="356" fill="#1ba3d5"/><rect x="528" y="356" fill="#1da3d7"/><rect x="536" y="356" fill="#1ea2d8"/><rect x="544" y="356" fill="#20a1da"/><rect x="552" y="356" fill="#259fd9"/><rect x="560" y="356" fill="#299dd9"/><rect x="568" y="356" fill="#2e9bd8"/><rect x="576" y="356" fill="#3299d7"/><rect x="584" y="356" fill="#3396d5"/><rect x="592" y="356" fill="#3392d3"/><rect x="600" y="356" fill="#338fd1"/><rect x="608" y="356" fill="#348bcf"/><rect x="616" y="356" fill="#3488cd"/><rect x="624" y="356" fill="#3584cb"/><rect x="632" y="356" fill="#3581c8"/><rect x="640" y="356" fill="#357dc6"/><rect x="648" y="356" fill="#357ac5"/><rect x="656" y="356" fill="#3576c3"/><rect x="664" y="356" fill="#3573c1"/><rect x="672" y="356" fill="#366ebe"/><rect x="680" y="356" fill="#3869bb"/><rect x="688" y="356" fill="#3964b7"/><rect x="696" y="356" fill="#3b5fb4"/><rect x="704" y="356" fill="#3d5ab0"/><rect x="712" y="356" fill="#4054ac"/><rect x="720" y="356" fill="#424ea8"/><rect x="728" y="356" fill="#4549a4"/><rect x="736" y="356" fill="#4645a1"/><rect x="744" y="356" fill="#47409e"/><rect x="752" y="356" fill="#483c9b"/><rect x="760" y="356" fill="#493999"/><rect x="768" y="356" fill="#493797"/><rect x="776" y="356" fill="#493596"/><rect x="784" y="356" fill="#493394"/><rect x="792" y="356" fill="#483294"/><rect x="800" y="356" fill="#463294"/><rect x="808" y="356" fill="#453193"/><rect x="816" y="356" fill="#443193"/><rect x="824" y="356" fill="#443193"/><rect x="832" y="356" fill="#443193"/><rect x="840" y="356" fill="#443193"/><rect x="848" y="356" fill="#443193"/><rect x="856" y="356" fill="#443193"/><rect x="864" y="356" fill="#443193"/><rect x="872" y="356" fill="#443193"/><rect x="880" y="356" fill="#443193"/><rect x="888" y="356" fill="#443193"/><rect x="896" y="356" fill="#443193"/><rect x="904" y="356" fill="#443193"/><rect x="912" y="356" fill="#443193"/><rect x="920" y="356" fill="#443193"/><rect x="928" y="356" fill="#443193"/><rect x="936" y="356" fill="#443193"/>
<rect x="160" y="364" fill="#0d9a93"/><rect x="168" y="364" fill="#0d9a93"/><rect x="176" y="364" fill="#0d9a93"/><rect x="184" y="364" fill="#0d9a93"/><rect x="192" y="364" fill="#0d9a93"/><rect x="200" y="364" fill="#0d9a93"/><rect x="208" y="364" fill="#0d9a93"/><rect x="216" y="364" fill="#0d9a93"/><rect x="224" y="364" fill="#0d9a93"/><rect x="232" y="364" fill="#0d9a93"/><rect x="240" y="364" fill="#0d9a93"/><rect x="248" y="364" fill="#0d9a93"/><rect x="256" y="364" fill="#0d9a93"/><rect x="264" y="364" fill="#0e9a93"/><rect x="272" y="364" fill="#0e9b94"/><rect x="280" y="364" fill="#0e9b94"/><rect x="288" y="364" fill="#0e9b94"/><rect x="296" y="364" fill="#0e9b94"/><rect x="304" y="364" fill="#0e9c95"/><rect x="312" y="364" fill="#0f9c96"/><rect x="320" y="364" fill="#0f9d96"/><rect x="328" y="364" fill="#0f9d97"/><rect x="336" y="364" fill="#109e99"/><rect x="344" y="364" fill="#109f9b"/><rect x="352" y="364" fill="#11a09c"/><rect x="360" y="364" fill="#11a09e"/><rect x="368" y="364" fill="#12a1a0"/><rect x="376" y="364" fill="#12a1a3"/><rect x="384" y="364" fill="#13a2a5"/><rect x="392" y="364" fill="#13a2a8"/><rect x="400" y="364" fill="#12a3ab"/><rect x="408" y="364" fill="#12a3ae"/><rect x="416" y="364" fill="#12a4b2"/><rect x="424" y="364" fill="#11a4b5"/><rect x="432" y="364" fill="#11a5b9"/><rect x="440" y="364" fill="#11a5bd"/><rect x="448" y="364" fill="#10a5c1"/><rect x="456" y="364" fill="#10a5c4"/><rect x="464" y="364" fill="#10a5c7"/><rect x="472" y="364" fill="#0fa5ca"/><rect x="480" y="364" fill="#0fa5cd"/><rect x="488" y="364" fill="#0fa5d0"/><rect x="496" y="364" fill="#0fa5d2"/><rect x="504" y="364" fill="#0fa5d5"/><rect x="512" y="364" fill="#0fa4d7"/><rect x="520" y="364" fill="#10a4d9"/><rect x="528" y="364" fill="#11a4da"/><rect x="536" y="364" fill="#11a3dc"/><rect x="544" y="364" fill="#12a3de"/><rect x="552" y="364" fill="#14a1dd"/><rect x="560" y="364" fill="#169fdd"/><rect x="568" y="364" fill="#189ddd"/><rect x="576" y="364" fill="#1a9cdd"/><rect x="584" y="364" fill="#1a98db"/><rect x="592" y="364" fill="#1b94d8"/><rect x="600" y="364" fill="#1b91d6"/><rect x="608" y="364" fill="#1c8dd4"/><rect x="616" y="364" fill="#1d89d1"/><rect x="624" y="364" fill="#1d85ce"/><rect x="632" y="364" fill="#1e81cb"/><rect x="640" y="364" fill="#1e7ec9"/><rect x="648" y="364" fill="#1e7bc7"/><rect x="656" y="364" fill="#1e77c5"/><rect x="664" y="364" fill="#1e74c3"/><rect x="672" y="364" fill="#1f70c0"/><rect x="680" y="364" fill="#216bbd"/><rect x="688" y="364" fill="#2367b9"/><rect x="696" y="364" fill="#2462b6"/><rect x="704" y="364" fill="#285cb2"/><rect x="712" y="364" fill="#2c57ad"/><rect x="720" y="364" fill="#2f51a9"/><rect x="728" y="364" fill="#324ba5"/><rect x="736" y="364" fill="#3547a2"/><rect x="744" y="364" fill="#37429f"/><rect x="752" y="364" fill="#3a3d9b"/><rect x="760" y="364" fill="#3b3a99"/><rect x="768" y="364" fill="#3c3897"/><rect x="776" y="364" fill="#3d3696"/><rect x="784" y="364" fill="#3d3494"/><rect x="792" y="364" fill="#3d3394"/><rect x="800" y="364" fill="#3c3293"/><rect x="808" y="364" fill="#3b3293"/><rect x="816" y="364" fill="#3a3193"/><rect x="824" y="364" fill="#3a3193"/><rect x="832" y="364" fill="#3a3193"/><rect x="840" y="364" fill="#3a3193"/><rect x="848" y="364" fill="#3a3193"/><rect x="856" y="364" fill="#3a3193"/><rect x="864" y="364" fill="#3a3193"/><rect x="872" y="364" fill="#3a3193"/><rect x="880" y="364" fill="#3a3193"/><rect x="888" y="364" fill="#3a3193"/><rect x="896" y="364" fill="#3a3193"/><rect x="904" y="364" fill="#3a3193"/><rect x="912" y="364" fill="#3a3193"/><rect x="920" y="364" fill="#3a3193"/><rect x="928" y="364" fill="#3a3193"/>
<rect x="168" y="372" fill="#0e9a95"/><rect x="176" y="372" fill="#0e9a95"/><rect x="184" y="372" fill="#0e9a95"/><rect x="192" y="372" fill="#0e9a95"/><rect x="200" y="372" fill="#0e9a95"/><rect x="208" y="372" fill="#0e9a95"/><rect x="216" y="372" fill="#0e9a95"/><rect x="224" y="372" fill="#0e9a95"/><rect x="232" y="372" fill="#0e9a95"/><rect x="240" y="372" fill="#0e9a95"/><rect x="248" y="372" fill="#0e9a95"/><rect x="256" y="372" fill="#0e9a95"/><rect x="264" y="372" fill="#0e9a95"/><rect x="272" y="372" fill="#0e9b96"/><rect x="280" y="372" fill="#0e9b96"/><rect x="288" y="372" fill="#0e9b96"/><rect x="296" y="372" fill="#0e9b96"/><rect x="304" y="372" fill="#0f9c97"/><rect x="312" y="372" fill="#0f9c98"/><rect x="320" y="372" fill="#0f9d98"/><rect x="328" y="372" fill="#0f9d99"/><rect x="336" y="372" fill="#109e9b"/><rect x="344" y="372" fill="#109f9d"/><rect x="352" y="372" fill="#11a09e"/><rect x="360" y="372" fill="#11a0a0"/><rect x="368" y="372" fill="#11a1a3"/><rect x="376" y="372" fill="#12a1a5"/><rect x="384" y="372" fill="#12a2a7"/><rect x="392" y="372" fill="#12a2aa"/><rect x="400" y="372" fill="#12a3ae"/><rect x="408" y="372" fill="#11a3b1"/><rect x="416" y="372" fill="#11a4b5"/><rect x="424" y="372" fill="#11a4b9"/><rect x="432" y="372" fill="#10a5bd"/><rect x="440" y="372" fill="#0fa5c0"/><rect x="448" y="372" fill="#0fa5c4"/><rect x="456" y="372" fill="#0ea6c7"/><rect x="464" y="372" fill="#0ea6cb"/><rect x="472" y="372" fill="#0da6ce"/><rect x="480" y="372" fill="#0da6d1"/><rect x="488" y="372" fill="#0da6d3"/><rect x="496" y="372" fill="#0ca6d6"/><rect x="504" y="372" fill="#0ca6d9"/><rect x="512" y="372" fill="#0ca5db"/><rect x="520" y="372" fill="#0da5dc"/><rect x="528" y="372" fill="#0da5de"/><rect x="536" y="372" fill="#0ea5df"/><rect x="544" y="372" fill="#0ea4e1"/><rect x="552" y="372" fill="#10a2e0"/><rect x="560" y="372" fill="#12a0df"/><rect x="568" y="372" fill="#139edf"/><rect x="576" y="372" fill="#159dde"/><rect x="584" y="372" fill="#1699dc"/><rect x="592" y="372" fill="#1795d9"/><rect x="600" y="372" fill="#1792d7"/><rect x="608" y="372" fill="#188ed4"/><rect x="616" y="372" fill="#1889d1"/><rect x="624" y="372" fill="#1985cd"/><rect x="632" y="372" fill="#1a81ca"/><rect x="640" y="372" fill="#1a7dc7"/><rect x="648" y="372" fill="#1a79c5"/><rect x="656" y="372" fill="#1a76c3"/><rect x="664" y="372" fill="#1973c1"/><rect x="672" y="372" fill="#1a6fbf"/><rect x="680" y="372" fill="#1b6abb"/><rect x="688" y="372" fill="#1c66b8"/><rect x="696" y="372" fill="#1d62b5"/><rect x="704" y="372" fill="#205db1"/><rect x="712" y="372" fill="#2457ad"/><rect x="720" y="372" fill="#2752a9"/><rect x="728" y="372" fill="#2a4ca5"/><rect x="736" y="372" fill="#2d48a2"/><rect x="744" y="372" fill="#30439f"/><rect x="752" y="372" fill="#333e9b"/><rect x="760" y="372" fill="#353b99"/><rect x="768" y="372" fill="#363997"/><rect x="776" y="372" fill="#373696"/><rect x="784" y="372" fill="#383494"/><rect x="792" y="372" fill="#383393"/><rect x="800" y="372" fill="#383293"/><rect x="808" y="372" fill="#373293"/><rect x="816" y="372" fill="#373193"/><rect x="824" y="372" fill="#373193"/><rect x="832" y="372" fill="#373193"/><rect x="840" y="372" fill="#373193"/><rect x="848" y="372" fill="#373193"/><rect x="856" y="372" fill="#373193"/><rect x="864" y="372" fill="#373193"/><rect x="872" y="372" fill="#373193"/><rect x="880" y="372" fill="#373193"/><rect x="888" y="372" fill="#373193"/><rect x="896" y="372" fill="#373193"/><rect x="904" y="372" fill="#373193"/><rect x="912" y="372" fill="#373193"/><rect x="920" y="372" fill="#373193"/>
<rect x="168" y="380" fill="#0e9a97"/><rect x="176" y="380" fill="#0e9a97"/><rect x="184" y="380" fill="#0e9a97"/><rect x="192" y="380" fill="#0e9a97"/><rect x="200" y="380" fill="#0e9a97"/><rect x="208" y="380" fill="#0e9a97"/><rect x="216" y="380" fill="#0e9a97"/><rect x="224" y="380" fill="#0e9a97"/><rect x="232" y="380" fill="#0e9a97"/><rect x="240" y="380" fill="#0e9a97"/><rect x="248" y="380" fill="#0e9a97"/><rect x="256" y="380" fill="#0e9a97"/><rect x="264" y="380" fill="#0e9a98"/><rect x="272" y="380" fill="#0e9b98"/><rect x="280" y="380" fill="#0f9b98"/><rect x="288" y="380" fill="#0f9b98"/><rect x="296" y="380" fill="#0f9b98"/><rect x="304" y="380" fill="#0f9c99"/><rect x="312" y="380" fill="#0f9c9a"/><rect x="320" y="380" fill="#0f9d9b"/><rect x="328" y="380" fill="#109d9c"/><rect x="336" y="380" fill="#109e9d"/><rect x="344" y="380" fill="#109f9f"/><rect x="352" y="380" fill="#11a0a0"/><rect x="360" y="380" fill="#11a0a2"/><rect x="368" y="380" fill="#11a1a5"/><rect x="376" y="380" fill="#11a1a7"/><rect x="384" y="380" fill="#12a2aa"/><rect x="392" y="380" fill="#12a2ad"/><rect x="400" y="380" fill="#11a3b1"/><rect x="408" y="380" fill="#11a3b4"/><rect x="416" y="380" fill="#11a4b8"/><rect x="424" y="380" fill="#10a4bc"/><rect x="432" y="380" fill="#0fa5c0"/><rect x="440" y="380" fill="#0ea5c4"/><rect x="448" y="380" fill="#0ea6c8"/><rect x="456" y="380" fill="#0da6cb"/><rect x="464" y="380" fill="#0ca6ce"/><rect x="472" y="380" fill="#0ba6d1"/><rect x="480" y="380" fill="#0ba6d4"/><rect x="488" y="380" fill="#0aa6d7"/><rect x="496" y="380" fill="#0aa6da"/><rect x="504" y="380" fill="#0aa7dc"/><rect x="512" y="380" fill="#0aa6de"/><rect x="520" y="380" fill="#0aa6e0"/><rect x="528" y="380" fill="#0aa6e1"/><rect x="536" y="380" fill="#0aa6e2"/><rect x="544" y="380" fill="#0aa6e4"/><rect x="552" y="380" fill="#0ca4e3"/><rect x="560" y="380" fill="#0da2e2"/><rect x="568" y="380" fill="#0fa0e1"/><rect x="576" y="380" fill="#109ee0"/><rect x="584" y="380" fill="#119add"/><rect x="592" y="380" fill="#1296da"/><rect x="600" y="380" fill="#1392d7"/><rect x="608" y="380" fill="#148ed4"/><rect x="616" y="380" fill="#1489d1"/><rect x="624" y="380" fill="#1585cd"/><rect x="632" y="380" fill="#1580c9"/><rect x="640" y="380" fill="#167cc6"/><rect x="648" y="380" fill="#1578c4"/><rect x="656" y="380" fill="#1575c2"/><rect x="664" y="380" fill="#1571bf"/><rect x="672" y="380" fill="#156dbd"/><rect x="680" y="380" fill="#156aba"/><rect x="688" y="380" fill="#1666b7"/><rect x="696" y="380" fill="#1662b5"/><rect x="704" y="380" fill="#195db1"/><rect x="712" y="380" fill="#1c58ad"/><rect x="720" y="380" fill="#1f52a9"/><rect x="728" y="380" fill="#224da5"/><rect x="736" y="380" fill="#2649a2"/><rect x="744" y="380" fill="#29449e"/><rect x="752" y="380" fill="#2d409b"/><rect x="760" y="380" fill="#2f3c99"/><rect x="768" y="380" fill="#313a97"/><rect x="776" y="380" fill="#323795"/><rect x="784" y="380" fill="#333594"/><rect x="792" y="380" fill="#343493"/><rect x="800" y="380" fill="#333393"/><rect x="808" y="380" fill="#333293"/><rect x="816" y="380" fill="#333192"/><rect x="824" y="380" fill="#333192"/><rect x="832" y="380" fill="#333192"/><rect x="840" y="380" fill="#333192"/><rect x="848" y="380" fill="#333192"/><rect x="856" y="380" fill="#333192"/><rect x="864" y="380" fill="#333192"/><rect x="872" y="380" fill="#333192"/><rect x="880" y="380" fill="#333192"/><rect x="888" y="380" fill="#333192"/><rect x="896" y="380" fill="#333192"/><rect x="904" y="380" fill="#333192"/><rect x="912" y="380" fill="#333192"/><rect x="920" y="380" fill="#333192"/>
<rect x="176" y="388" fill="#0f9a99"/><rect x="184" y="388" fill="#0f9a99"/><rect x="192" y="388" fill="#0f9a99"/><rect x="200" y="388" fill="#0f9a99"/><rect x="208" y="388" fill="#0f9a99"/><rect x="216" y="388" fill="#0f9a99"/><rect x="224" y="388" fill="#0f9a99"/><rect x="232" y="388" fill="#0f9a99"/><rect x="240" y="388" fill="#0f9a99"/><rect x="248" y="388" fill="#0f9a99"/><rect x="256" y="388" fill="#0f9a99"/><rect x="264" y="388" fill="#0f9a9a"/><rect x="272" y="388" fill="#0f9b9a"/><rect x="280" y="388" fill="#0f9b9a"/><rect x="288" y="388" fill="#0f9b9a"/><rect x="296" y="388" fill="#0f9b9a"/><rect x="304" y="388" fill="#0f9c9b"/><rect x="312" y="388" fill="#0f9c9c"/><rect x="320" y="388" fill="#109d9d"/><rect x="328" y="388" fill="#109d9e"/><rect x="336" y="388" fill="#109e9f"/><rect x="344" y="388" fill="#119fa1"/><rect x="352" y="388" fill="#11a0a2"/><rect x="360" y="388" fill="#11a0a5"/><rect x="368" y="388" fill="#11a1a7"/><rect x="376" y="388" fill="#11a1aa"/><rect x="384" y="388" fill="#11a2ac"/><rect x="392" y="388" fill="#11a2b0"/><rect x="400" y="388" fill="#11a3b3"/><rect x="408" y="388" fill="#10a3b7"/><rect x="416" y="388" fill="#10a4bb"/><rect x="424" y="388" fill="#0fa5bf"/><rect x="432" y="388" fill="#0ea5c3"/><rect x="440" y="388" fill="#0da6c7"/><rect x="448" y="388" fill="#0ca6cb"/><rect x="456" y="388" fill="#0ba6cf"/><rect x="464" y="388" fill="#0aa6d2"/><rect x="472" y="388" fill="#09a7d5"/><rect x="480" y="388" fill="#09a7d8"/><rect x="488" y="388" fill="#08a7db"/><rect x="496" y="388" fill="#08a7dd"/><rect x="504" y="388" fill="#07a8e0"/><rect x="512" y="388" fill="#07a8e2"/><rect x="520" y="388" fill="#07a8e3"/><rect x="528" y="388" fill="#07a8e4"/><rect x="536" y="388" fill="#07a7e6"/><rect x="544" y="388" fill="#06a7e7"/><rect x="552" y="388" fill="#08a5e5"/><rect x="560" y="388" fill="#09a3e4"/><rect x="568" y="388" fill="#0aa1e3"/><rect x="576" y="388" fill="#0c9fe1"/><rect x="584" y="388" fill="#0d9bde"/><rect x="592" y="388" fill="#0e97db"/><rect x="600" y="388" fill="#0f93d8"/><rect x="608" y="388" fill="#108fd5"/><rect x="616" y="388" fill="#1089d1"/><rect x="624" y="388" fill="#1184cd"/><rect x="632" y="388" fill="#117fc8"/><rect x="640" y="388" fill="#117bc5"/><rect x="648" y="388" fill="#1177c3"/><rect x="656" y="388" fill="#1173c0"/><rect x="664" y="388" fill="#1170bd"/><rect x="672" y="388" fill="#106cbb"/><rect x="680" y="388" fill="#1069b9"/><rect x="688" y="388" fill="#0f65b6"/><rect x="696" y="388" fill="#0f62b4"/><rect x="704" y="388" fill="#115db0"/><rect x="712" y="388" fill="#1458ad"/><rect x="720" y="388" fill="#1753a9"/><rect x="728" y="388" fill="#1a4ea5"/><rect x="736" y="388" fill="#1e4aa2"/><rect x="744" y="388" fill="#22459e"/><rect x="752" y="388" fill="#26419b"/><rect x="760" y="388" fill="#293d98"/><rect x="768" y="388" fill="#2b3b97"/><rect x="776" y="388" fill="#2d3895"/><rect x="784" y="388" fill="#2e3593"/><rect x="792" y="388" fill="#2f3493"/><rect x="800" y="388" fill="#2f3393"/><rect x="808" y="388" fill="#2f3292"/><rect x="816" y="388" fill="#2f3192"/><rect x="824" y="388" fill="#2f3192"/><rect x="832" y="388" fill="#2f3192"/><rect x="840" y="388" fill="#2f3192"/><rect x="848" y="388" fill="#2f3192"/><rect x="856" y="388" fill="#2f3192"/><rect x="864" y="388" fill="#2f3192"/><rect x="872" y="388" fill="#2f3192"/><rect x="880" y="388" fill="#2f3192"/><rect x="888" y="388" fill="#2f3192"/><rect x="896" y="388" fill="#2f3192"/><rect x="904" y="388" fill="#2f3192"/><rect x="912" y="388" fill="#2f3192"/>
<rect x="176" y="396" fill="#0f9a9b"/><rect x="184" y="396" fill="#0f9a9b"/><rect x="192" y="396" fill="#0f9a9b"/><rect x="200" y="396" fill="#0f9a9b"/><rect x="208" y="396" fill="#0f9a9b"/><rect x="216" y="396" fill="#0f9a9b"/><rect x="224" y="396" fill="#0f9a9b"/><rect x="232" y="396" fill="#0f9a9b"/><rect x="240" y="396" fill="#0f9a9b"/><rect x="248" y="396" fill="#0f9a9b"/><rect x="256" y="396" fill="#0f9a9b"/><rect x="264" y="396" fill="#0f9a9b"/><rect x="272" y="396" fill="#0f9b9b"/><rect x="280" y="396" fill="#0f9b9b"/><rect x="288" y="396" fill="#0f9b9c"/><rect x="296" y="396" fill="#0f9b9c"/><rect x="304" y="396" fill="#0f9c9d"/><rect x="312" y="396" fill="#109c9d"/><rect x="320" y="396" fill="#109d9e"/><rect x="328" y="396" fill="#109d9f"/><rect x="336" y="396" fill="#109ea1"/><rect x="344" y="396" fill="#119fa2"/><rect x="352" y="396" fill="#11a0a4"/><rect x="360" y="396" fill="#11a0a6"/><rect x="368" y="396" fill="#11a1a9"/><rect x="376" y="396" fill="#11a1ac"/><rect x="384" y="396" fill="#11a2ae"/><rect x="392" y="396" fill="#11a2b2"/><rect x="400" y="396" fill="#11a3b5"/><rect x="408" y="396" fill="#10a3b9"/><rect x="416" y="396" fill="#10a4bd"/><rect x="424" y="396" fill="#0fa4c1"/><rect x="432" y="396" fill="#0ea5c5"/><rect x="440" y="396" fill="#0da6ca"/><rect x="448" y="396" fill="#0ca6ce"/><rect x="456" y="396" fill="#0ba6d1"/><rect x="464" y="396" fill="#0aa7d4"/><rect x="472" y="396" fill="#09a7d7"/><rect x="480" y="396" fill="#08a7da"/><rect x="488" y="396" fill="#07a7dd"/><rect x="496" y="396" fill="#07a8df"/><rect x="504" y="396" fill="#06a8e2"/><rect x="512" y="396" fill="#06a8e4"/><rect x="520" y="396" fill="#06a8e5"/><rect x="528" y="396" fill="#05a8e6"/><rect x="536" y="396" fill="#05a8e7"/><rect x="544" y="396" fill="#05a8e8"/><rect x="552" y="396" fill="#06a6e7"/><rect x="560" y="396" fill="#07a4e6"/><rect x="568" y="396" fill="#08a2e4"/><rect x="576" y="396" fill="#0aa0e3"/><rect x="584" y="396" fill="#0b9ce0"/><rect x="592" y="396" fill="#0c98dc"/><rect x="600" y="396" fill="#0d94d9"/><rect x="608" y="396" fill="#0e90d6"/><rect x="616" y="396" fill="#0e8ad2"/><rect x="624" y="396" fill="#0f85ce"/><rect x="632" y="396" fill="#0f80c9"/><rect x="640" y="396" fill="#0f7bc6"/><rect x="648" y="396" fill="#0f78c3"/><rect x="656" y="396" fill="#0f74c0"/><rect x="664" y="396" fill="#0f70be"/><rect x="672" y="396" fill="#0e6cbb"/><rect x="680" y="396" fill="#0d69b9"/><rect x="688" y="396" fill="#0d66b7"/><rect x="696" y="396" fill="#0c62b4"/><rect x="704" y="396" fill="#0e5db0"/><rect x="712" y="396" fill="#1159ad"/><rect x="720" y="396" fill="#1454a9"/><rect x="728" y="396" fill="#174fa5"/><rect x="736" y="396" fill="#1b4aa2"/><rect x="744" y="396" fill="#1f469e"/><rect x="752" y="396" fill="#24419b"/><rect x="760" y="396" fill="#273e98"/><rect x="768" y="396" fill="#293b97"/><rect x="776" y="396" fill="#2b3895"/><rect x="784" y="396" fill="#2d3693"/><rect x="792" y="396" fill="#2d3493"/><rect x="800" y="396" fill="#2d3393"/><rect x="808" y="396" fill="#2e3292"/><rect x="816" y="396" fill="#2e3192"/><rect x="824" y="396" fill="#2e3192"/><rect x="832" y="396" fill="#2e3192"/><rect x="840" y="396" fill="#2e3192"/><rect x="848" y="396" fill="#2e3192"/><rect x="856" y="396" fill="#2e3192"/><rect x="864" y="396" fill="#2e3192"/><rect x="872" y="396" fill="#2e3192"/><rect x="880" y="396" fill="#2e3192"/><rect x="888" y="396" fill="#2e3192"/><rect x="896" y="396" fill="#2e3192"/><rect x="904" y="396" fill="#2e3192"/>
<rect x="184" y="404" fill="#0f9a9c"/><rect x="192" y="404" fill="#0f9a9c"/><rect x="200" y="404" fill="#0f9a9c"/><rect x="208" y="404" fill="#0f9a9c"/><rect x="216" y="404" fill="#0f9a9c"/><rect x="224" y="404" fill="#0f9a9c"/><rect x="232" y="404" fill="#0f9a9c"/><rect x="240" y="404" fill="#0f9a9c"/><rect x="248" y="404" fill="#0f9a9c"/><rect x="256" y="404" fill="#0f9a9c"/><rect x="264" y="404" fill="#0f9b9c"/><rect x="272" y="404" fill="#0f9b9c"/><rect x="280" y="404" fill="#0f9b9d"/><rect x="288" y="404" fill="#0f9b9d"/><rect x="296" y="404" fill="#0f9b9d"/><rect x="304" y="404" fill="#109c9e"/><rect x="312" y="404" fill="#109c9f"/><rect x="320" y="404" fill="#109da0"/><rect x="328" y="404" fill="#109da1"/><rect x="336" y="404" fill="#109ea2"/><rect x="344" y="404" fill="#119fa4"/><rect x="352" y="404" fill="#119fa5"/><rect x="360" y="404" fill="#11a0a8"/><rect x="368" y="404" fill="#11a1aa"/><rect x="376" y="404" fill="#11a1ad"/><rect x="384" y="404" fill="#11a2b0"/><rect x="392" y="404" fill="#11a2b3"/><rect x="400" y="404" fill="#11a3b7"/><rect x="408" y="404" fill="#10a3ba"/><rect x="416" y="404" fill="#10a4be"/><rect x="424" y="404" fill="#0fa4c2"/><rect x="432" y="404" fill="#0ea5c7"/><rect x="440" y="404" fill="#0da6cb"/><rect x="448" y="404" fill="#0ca6cf"/><rect x="456" y="404" fill="#0ba6d2"/><rect x="464" y="404" fill="#0aa7d5"/><rect x="472" y="404" fill="#09a7d9"/><rect x="480" y="404" fill="#08a7db"/><rect x="488" y="404" fill="#07a8de"/><rect x="496" y="404" fill="#07a8e1"/><rect x="504" y="404" fill="#06a8e3"/><rect x="512" y="404" fill="#06a8e5"/><rect x="520" y="404" fill="#05a8e6"/><rect x="528" y="404" fill="#05a8e7"/><rect x="536" y="404" fill="#05a8e8"/><rect x="544" y="404" fill="#05a8e9"/><rect x="552" y="404" fill="#06a6e8"/><rect x="560" y="404" fill="#07a4e6"/><rect x="568" y="404" fill="#08a2e5"/><rect x="576" y="404" fill="#09a0e4"/><rect x="584" y="404" fill="#0a9de1"/><rect x="592" y="404" fill="#0b99de"/><rect x="600" y="404" fill="#0c95db"/><rect x="608" y="404" fill="#0d91d8"/><rect x="616" y="404" fill="#0d8cd4"/><rect x="624" y="404" fill="#0e87d0"/><rect x="632" y="404" fill="#0f82cb"/><rect x="640" y="404" fill="#0f7dc8"/><rect x="648" y="404" fill="#0f7ac5"/><rect x="656" y="404" fill="#0f76c2"/><rect x="664" y="404" fill="#0e72bf"/><rect x="672" y="404" fill="#0e6ebd"/><rect x="680" y="404" fill="#0d6aba"/><rect x="688" y="404" fill="#0c67b7"/><rect x="696" y="404" fill="#0c63b4"/><rect x="704" y="404" fill="#0e5eb1"/><rect x="712" y="404" fill="#1159ad"/><rect x="720" y="404" fill="#1354a9"/><rect x="728" y="404" fill="#164fa5"/><rect x="736" y="404" fill="#1a4aa2"/><rect x="744" y="404" fill="#1f469e"/><rect x="752" y="404" fill="#23419b"/><rect x="760" y="404" fill="#263d98"/><rect x="768" y="404" fill="#283b96"/><rect x="776" y="404" fill="#2a3895"/><rect x="784" y="404" fill="#2c3593"/><rect x="792" y="404" fill="#2d3493"/><rect x="800" y="404" fill="#2d3393"/><rect x="808" y="404" fill="#2e3292"/><rect x="816" y="404" fill="#2e3192"/><rect x="824" y="404" fill="#2e3192"/><rect x="832" y="404" fill="#2e3192"/><rect x="840" y="404" fill="#2e3192"/><rect x="848" y="404" fill="#2e3192"/><rect x="856" y="404" fill="#2e3192"/><rect x="864" y="404" fill="#2e3192"/><rect x="872" y="404" fill="#2e3192"/><rect x="880" y="404" fill="#2e3192"/><rect x="888" y="404" fill="#2e3192"/><rect x="896" y="404" fill="#2e3192"/><rect x="904" y="404" fill="#2e3192"/>
<rect x="192" y="412" fill="#109a9d"/><rect x="200" y="412" fill="#109a9d"/><rect x="208" y="412" fill="#109a9d"/><rect x="216" y="412" fill="#109a9d"/><rect x="224" y="412" fill="#109a9d"/><rect x="232" y="412" fill="#109a9d"/><rect x="240" y="412" fill="#109a9d"/><rect x="248" y="412" fill="#109a9d"/><rect x="256" y="412" fill="#109b9d"/><rect x="264" y="412" fill="#109b9d"/><rect x="272" y="412" fill="#109b9e"/><rect x="280" y="412" fill="#109b9e"/><rect x="288" y="412" fill="#109b9e"/><rect x="296" y="412" fill="#109b9e"/><rect x="304" y="412" fill="#109c9f"/><rect x="312" y="412" fill="#109ca0"/><rect x="320" y="412" fill="#109da1"/><rect x="328" y="412" fill="#109ea2"/><rect x="336" y="412" fill="#119ea4"/><rect x="344" y="412" fill="#119fa5"/><rect x="352" y="412" fill="#119fa7"/><rect x="360" y="412" fill="#11a0a9"/><rect x="368" y="412" fill="#11a0ac"/><rect x="376" y="412" fill="#11a1ae"/><rect x="384" y="412" fill="#11a2b1"/><rect x="392" y="412" fill="#11a2b4"/><rect x="400" y="412" fill="#11a3b8"/><rect x="408" y="412" fill="#10a3bc"/><rect x="416" y="412" fill="#10a4c0"/><rect x="424" y="412" fill="#0fa4c4"/><rect x="432" y="412" fill="#0ea5c8"/><rect x="440" y="412" fill="#0da6cc"/><rect x="448" y="412" fill="#0ca6d0"/><rect x="456" y="412" fill="#0ba6d4"/><rect x="464" y="412" fill="#0aa7d7"/><rect x="472" y="412" fill="#09a7da"/><rect x="480" y="412" fill="#08a7dd"/><rect x="488" y="412" fill="#07a8df"/><rect x="496" y="412" fill="#06a8e2"/><rect x="504" y="412" fill="#06a8e4"/><rect x="512" y="412" fill="#05a8e6"/><rect x="520" y="412" fill="#05a8e7"/><rect x="528" y="412" fill="#05a8e8"/><rect x="536" y="412" fill="#05a8e9"/><rect x="544" y="412" fill="#05a8ea"/><rect x="552" y="412" fill="#06a7e9"/><rect x="560" y="412" fill="#07a5e7"/><rect x="568" y="412" fill="#08a3e6"/><rect x="576" y="412" fill="#09a1e5"/><rect x="584" y="412" fill="#099ee2"/><rect x="592" y="412" fill="#0a9adf"/><rect x="600" y="412" fill="#0b97dc"/><rect x="608" y="412" fill="#0c93d9"/><rect x="616" y="412" fill="#0d8ed5"/><rect x="624" y="412" fill="#0d89d1"/><rect x="632" y="412" fill="#0e84ce"/><rect x="640" y="412" fill="#0e80ca"/><rect x="648" y="412" fill="#0e7bc7"/><rect x="656" y="412" fill="#0e77c4"/><rect x="664" y="412" fill="#0e73c1"/><rect x="672" y="412" fill="#0d6fbe"/><rect x="680" y="412" fill="#0d6bbb"/><rect x="688" y="412" fill="#0c67b8"/><rect x="696" y="412" fill="#0c63b5"/><rect x="704" y="412" fill="#0e5eb1"/><rect x="712" y="412" fill="#1059ad"/><rect x="720" y="412" fill="#1254a9"/><rect x="728" y="412" fill="#154fa5"/><rect x="736" y="412" fill="#1a4aa2"/><rect x="744" y="412" fill="#1e469e"/><rect x="752" y="412" fill="#23419a"/><rect x="760" y="412" fill="#263d98"/><rect x="768" y="412" fill="#283b96"/><rect x="776" y="412" fill="#2a3895"/><rect x="784" y="412" fill="#2c3593"/><rect x="792" y="412" fill="#2d3493"/><rect x="800" y="412" fill="#2d3393"/><rect x="808" y="412" fill="#2e3292"/><rect x="816" y="412" fill="#2e3192"/><rect x="824" y="412" fill="#2e3192"/><rect x="832" y="412" fill="#2e3192"/><rect x="840" y="412" fill="#2e3192"/><rect x="848" y="412" fill="#2e3192"/><rect x="856" y="412" fill="#2e3192"/><rect x="864" y="412" fill="#2e3192"/><rect x="872" y="412" fill="#2e3192"/><rect x="880" y="412" fill="#2e3192"/><rect x="888" y="412" fill="#2e3192"/><rect x="896" y="412" fill="#2e3192"/>
<rect x="200" y="420" fill="#109a9e"/><rect x="208" y="420" fill="#109a9e"/><rect x="216" y="420" fill="#109a9e"/><rect x="224" y="420" fill="#109a9e"/><rect x="232" y="420" fill="#109a9e"/><rect x="240" y="420" fill="#109a9e"/><rect x="248" y="420" fill="#109b9e"/><rect x="256" y="420" fill="#109b9e"/><rect x="264" y="420" fill="#109b9f"/><rect x="272" y="420" fill="#109b9f"/><rect x="280" y="420" fill="#109b9f"/><rect x="288" y="420" fill="#109ba0"/><rect x="296" y="420" fill="#109ba0"/><rect x="304" y="420" fill="#109ca1"/><rect x="312" y="420" fill="#109da2"/><rect x="320" y="420" fill="#109da3"/><rect x="328" y="420" fill="#119ea4"/><rect x="336" y="420" fill="#119ea5"/><rect x="344" y="420" fill="#119fa7"/><rect x="352" y="420" fill="#119fa8"/><rect x="360" y="420" fill="#11a0aa"/><rect x="368" y="420" fill="#11a0ad"/><rect x="376" y="420" fill="#11a1b0"/><rect x="384" y="420" fill="#11a1b2"/><rect x="392" y="420" fill="#11a2b6"/><rect x="400" y="420" fill="#11a2b9"/><rect x="408" y="420" fill="#10a3bd"/><rect x="416" y="420" fill="#10a4c1"/><rect x="424" y="420" fill="#0fa4c5"/><rect x="432" y="420" fill="#0ea5c9"/><rect x="440" y="420" fill="#0da6ce"/><rect x="448" y="420" fill="#0ca6d2"/><rect x="456" y="420" fill="#0ba6d5"/><rect x="464" y="420" fill="#0aa7d8"/><rect x="472" y="420" fill="#09a7db"/><rect x="480" y="420" fill="#08a8de"/><rect x="488" y="420" fill="#07a8e0"/><rect x="496" y="420" fill="#06a8e3"/><rect x="504" y="420" fill="#06a8e5"/><rect x="512" y="420" fill="#05a8e7"/><rect x="520" y="420" fill="#05a8e8"/><rect x="528" y="420" fill="#05a8e9"/><rect x="536" y="420" fill="#05a8e9"/><rect x="544" y="420" fill="#05a8ea"/><rect x="552" y="420" fill="#05a7e9"/><rect x="560" y="420" fill="#06a5e8"/><rect x="568" y="420" fill="#07a4e7"/><rect x="576" y="420" fill="#08a2e6"/><rect x="584" y="420" fill="#099fe3"/><rect x="592" y="420" fill="#0a9be0"/><rect x="600" y="420" fill="#0a98de"/><rect x="608" y="420" fill="#0b95db"/><rect x="616" y="420" fill="#0c90d7"/><rect x="624" y="420" fill="#0d8bd3"/><rect x="632" y="420" fill="#0d86d0"/><rect x="640" y="420" fill="#0e82cc"/><rect x="648" y="420" fill="#0e7dc9"/><rect x="656" y="420" fill="#0e79c6"/><rect x="664" y="420" fill="#0e75c3"/><rect x="672" y="420" fill="#0d71bf"/><rect x="680" y="420" fill="#0d6cbc"/><rect x="688" y="420" fill="#0c68b8"/><rect x="696" y="420" fill="#0c64b5"/><rect x="704" y="420" fill="#0e5fb1"/><rect x="712" y="420" fill="#1059ad"/><rect x="720" y="420" fill="#1254a9"/><rect x="728" y="420" fill="#144fa5"/><rect x="736" y="420" fill="#194aa2"/><rect x="744" y="420" fill="#1e469e"/><rect x="752" y="420" fill="#22419a"/><rect x="760" y="420" fill="#263d98"/><rect x="768" y="420" fill="#283b96"/><rect x="776" y="420" fill="#2a3895"/><rect x="784" y="420" fill="#2c3593"/><rect x="792" y="420" fill="#2d3493"/><rect x="800" y="420" fill="#2d3393"/><rect x="808" y="420" fill="#2e3292"/><rect x="816" y="420" fill="#2e3192"/><rect x="824" y="420" fill="#2e3192"/><rect x="832" y="420" fill="#2e3192"/><rect x="840" y="420" fill="#2e3192"/><rect x="848" y="420" fill="#2e3192"/><rect x="856" y="420" fill="#2e3192"/><rect x="864" y="420" fill="#2e3192"/><rect x="872" y="420" fill="#2e3192"/><rect x="880" y="420" fill="#2e3192"/><rect x="888" y="420" fill="#2e3192"/>
<rect x="200" y="428" fill="#109b9f"/><rect x="208" y="428" fill="#109b9f"/><rect x="216" y="428" fill="#109b9f"/><rect x="224" y="428" fill="#109b9f"/><rect x="232" y="428" fill="#109b9f"/><rect x="240" y="428" fill="#109b9f"/><rect x="248" y="428" fill="#109b9f"/><rect x="256" y="428" fill="#109b9f"/><rect x="264" y="428" fill="#109ba0"/><rect x="272" y="428" fill="#109ba0"/><rect x="280" y="428" fill="#109ba0"/><rect x="288" y="428" fill="#109ba1"/><rect x="296" y="428" fill="#109ca1"/><rect x="304" y="428" fill="#109ca2"/><rect x="312" y="428" fill="#109da3"/><rect x="320" y="428" fill="#119da4"/><rect x="328" y="428" fill="#119ea5"/><rect x="336" y="428" fill="#119ea7"/><rect x="344" y="428" fill="#119fa8"/><rect x="352" y="428" fill="#119fa9"/><rect x="360" y="428" fill="#11a0ac"/><rect x="368" y="428" fill="#11a0ae"/><rect x="376" y="428" fill="#11a1b1"/><rect x="384" y="428" fill="#11a1b4"/><rect x="392" y="428" fill="#11a2b7"/><rect x="400" y="428" fill="#11a2bb"/><rect x="408" y="428" fill="#10a3be"/><rect x="416" y="428" fill="#10a3c2"/><rect x="424" y="428" fill="#0fa4c6"/><rect x="432" y="428" fill="#0ea5cb"/><rect x="440" y="428" fill="#0da5cf"/><rect x="448" y="428" fill="#0ca6d3"/><rect x="456" y="428" fill="#0ba7d6"/><rect x="464" y="428" fill="#0aa7d9"/><rect x="472" y="428" fill="#09a7dd"/><rect x="480" y="428" fill="#08a8df"/><rect x="488" y="428" fill="#07a8e2"/><rect x="496" y="428" fill="#06a8e4"/><rect x="504" y="428" fill="#06a9e6"/><rect x="512" y="428" fill="#05a9e8"/><rect x="520" y="428" fill="#05a9e8"/><rect x="528" y="428" fill="#05a9e9"/><rect x="536" y="428" fill="#05a9ea"/><rect x="544" y="428" fill="#04a9eb"/><rect x="552" y="428" fill="#05a7ea"/><rect x="560" y="428" fill="#06a6e9"/><rect x="568" y="428" fill="#07a4e8"/><rect x="576" y="428" fill="#08a3e7"/><rect x="584" y="428" fill="#08a0e4"/><rect x="592" y="428" fill="#099de2"/><rect x="600" y="428" fill="#0a9adf"/><rect x="608" y="428" fill="#0a96dc"/><rect x="616" y="428" fill="#0b92d9"/><rect x="624" y="428" fill="#0c8dd5"/><rect x="632" y="428" fill="#0d88d2"/><rect x="640" y="428" fill="#0d84ce"/><rect x="648" y="428" fill="#0d7fcb"/><rect x="656" y="428" fill="#0d7bc8"/><rect x="664" y="428" fill="#0d76c4"/><rect x="672" y="428" fill="#0d72c1"/><rect x="680" y="428" fill="#0c6dbd"/><rect x="688" y="428" fill="#0c69b9"/><rect x="696" y="428" fill="#0b64b5"/><rect x="704" y="428" fill="#0d5fb1"/><rect x="712" y="428" fill="#0f5aad"/><rect x="720" y="428" fill="#1154a9"/><rect x="728" y="428" fill="#134fa5"/><rect x="736" y="428" fill="#184aa1"/><rect x="744" y="428" fill="#1d459e"/><rect x="752" y="428" fill="#22419a"/><rect x="760" y="428" fill="#253d98"/><rect x="768" y="428" fill="#283a96"/><rect x="776" y="428" fill="#2a3895"/><rect x="784" y="428" fill="#2c3593"/><rect x="792" y="428" fill="#2d3493"/><rect x="800" y="428" fill="#2d3393"/><rect x="808" y="428" fill="#2e3292"/><rect x="816" y="428" fill="#2e3192"/><rect x="824" y="428" fill="#2e3192"/><rect x="832" y="428" fill="#2e3192"/><rect x="840" y="428" fill="#2e3192"/><rect x="848" y="428" fill="#2e3192"/><rect x="856" y="428" fill="#2e3192"/><rect x="864" y="428" fill="#2e3192"/><rect x="872" y="428" fill="#2e3192"/><rect x="880" y="428" fill="#2e3192"/>
<rect x="208" y="436" fill="#109ba0"/><rect x="216" y="436" fill="#109ba0"/><rect x="224" y="436" fill="#109ba0"/><rect x="232" y="436" fill="#109ba0"/><rect x="240" y="436" fill="#109ba0"/><rect x="248" y="436" fill="#109ba0"/><rect x="256" y="436" fill="#109ba0"/><rect x="264" y="436" fill="#109ba1"/><rect x="272" y="436" fill="#109ba1"/><rect x="280" y="436" fill="#109ba2"/><rect x="288" y="436" fill="#109ca2"/><rect x="296" y="436" fill="#109ca2"/><rect x="304" y="436" fill="#119ca4"/><rect x="312" y="436" fill="#119da4"/><rect x="320" y="436" fill="#119da6"/><rect x="328" y="436" fill="#119ea7"/><rect x="336" y="436" fill="#119ea8"/><rect x="344" y="436" fill="#119fa9"/><rect x="352" y="436" fill="#119fab"/><rect x="360" y="436" fill="#11a0ad"/><rect x="368" y="436" fill="#11a0b0"/><rect x="376" y="436" fill="#11a1b2"/><rect x="384" y="436" fill="#11a1b5"/><rect x="392" y="436" fill="#11a2b8"/><rect x="400" y="436" fill="#11a2bc"/><rect x="408" y="436" fill="#10a3c0"/><rect x="416" y="436" fill="#10a3c4"/><rect x="424" y="436" fill="#0fa4c8"/><rect x="432" y="436" fill="#0ea5cc"/><rect x="440" y="436" fill="#0da5d0"/><rect x="448" y="436" fill="#0ca6d4"/><rect x="456" y="436" fill="#0ba7d8"/><rect x="464" y="436" fill="#0aa7db"/><rect x="472" y="436" fill="#09a8de"/><rect x="480" y="436" fill="#08a8e1"/><rect x="488" y="436" fill="#07a8e3"/><rect x="496" y="436" fill="#06a8e5"/><rect x="504" y="436" fill="#05a9e7"/><rect x="512" y="436" fill="#05a9e9"/><rect x="520" y="436" fill="#05a9e9"/><rect x="528" y="436" fill="#05a9ea"/><rect x="536" y="436" fill="#04a9eb"/><rect x="544" y="436" fill="#04a9ec"/><rect x="552" y="436" fill="#05a7eb"/><rect x="560" y="436" fill="#06a6ea"/><rect x="568" y="436" fill="#06a5e9"/><rect x="576" y="436" fill="#07a4e8"/><rect x="584" y="436" fill="#08a1e6"/><rect x="592" y="436" fill="#089ee3"/><rect x="600" y="436" fill="#099be1"/><rect x="608" y="436" fill="#0a98de"/><rect x="616" y="436" fill="#0a93db"/><rect x="624" y="436" fill="#0b8fd7"/><rect x="632" y="436" fill="#0c8ad4"/><rect x="640" y="436" fill="#0c86d0"/><rect x="648" y="436" fill="#0c81cd"/><rect x="656" y="436" fill="#0d7dc9"/><rect x="664" y="436" fill="#0d78c6"/><rect x="672" y="436" fill="#0c73c2"/><rect x="680" y="436" fill="#0c6fbe"/><rect x="688" y="436" fill="#0c6aba"/><rect x="696" y="436" fill="#0b65b6"/><rect x="704" y="436" fill="#0d5fb1"/><rect x="712" y="436" fill="#0f5aad"/><rect x="720" y="436" fill="#1054a9"/><rect x="728" y="436" fill="#134fa5"/><rect x="736" y="436" fill="#184aa1"/><rect x="744" y="436" fill="#1c459e"/><rect x="752" y="436" fill="#21419a"/><rect x="760" y="436" fill="#253d98"/><rect x="768" y="436" fill="#273a96"/><rect x="776" y="436" fill="#2a3895"/><rect x="784" y="436" fill="#2c3593"/><rect x="792" y="436" fill="#2d3493"/><rect x="800" y="436" fill="#2d3393"/><rect x="808" y="436" fill="#2e3292"/><rect x="816" y="436" fill="#2e3192"/><rect x="824" y="436" fill="#2e3192"/><rect x="832" y="436" fill="#2e3192"/><rect x="840" y="436" fill="#2e3192"/><rect x="848" y="436" fill="#2e3192"/><rect x="856" y="436" fill="#2e3192"/><rect x="864" y="436" fill="#2e3192"/><rect x="872" y="436" fill="#2e3192"/><rect x="880" y="436" fill="#2e3192"/>
<rect x="216" y="444" fill="#119ba1"/><rect x="224" y="444" fill="#119ba1"/><rect x="232" y="444" fill="#119ba1"/><rect x="240" y="444" fill="#119ba1"/><rect x="248" y="444" fill="#119ba1"/><rect x="256" y="444" fill="#119ba2"/><rect x="264" y="444" fill="#119ba2"/><rect x="272" y="444" fill="#119ba3"/><rect x="280" y="444" fill="#119ca3"/><rect x="288" y="444" fill="#119ca3"/><rect x="296" y="444" fill="#119ca4"/><rect x="304" y="444" fill="#119ca5"/><rect x="312" y="444" fill="#119da6"/><rect x="320" y="444" fill="#119da7"/><rect x="328" y="444" fill="#119ea8"/><rect x="336" y="444" fill="#119ea9"/><rect x="344" y="444" fill="#119fab"/><rect x="352" y="444" fill="#119fac"/><rect x="360" y="444" fill="#119fae"/><rect x="368" y="444" fill="#11a0b1"/><rect x="376" y="444" fill="#11a0b4"/><rect x="384" y="444" fill="#11a1b6"/><rect x="392" y="444" fill="#11a2ba"/><rect x="400" y="444" fill="#11a2bd"/><rect x="408" y="444" fill="#10a3c1"/><rect x="416" y="444" fill="#10a3c5"/><rect x="424" y="444" fill="#0fa4c9"/><rect x="432" y="444" fill="#0ea5cd"/><rect x="440" y="444" fill="#0da5d2"/><rect x="448" y="444" fill="#0ca6d6"/><rect x="456" y="444" fill="#0ba7d9"/><rect x="464" y="444" fill="#0aa7dc"/><rect x="472" y="444" fill="#09a8df"/><rect x="480" y="444" fill="#08a8e2"/><rect x="488" y="444" fill="#07a8e4"/><rect x="496" y="444" fill="#06a9e6"/><rect x="504" y="444" fill="#05a9e9"/><rect x="512" y="444" fill="#05a9ea"/><rect x="520" y="444" fill="#05a9ea"/><rect x="528" y="444" fill="#05a9eb"/><rect x="536" y="444" fill="#04a9ec"/><rect x="544" y="444" fill="#04a9ec"/><rect x="552" y="444" fill="#05a8ec"/><rect x="560" y="444" fill="#05a7eb"/><rect x="568" y="444" fill="#06a5ea"/><rect x="576" y="444" fill="#06a4e9"/><rect x="584" y="444" fill="#07a2e7"/><rect x="592" y="444" fill="#089fe5"/><rect x="600" y="444" fill="#089de2"/><rect x="608" y="444" fill="#099ae0"/><rect x="616" y="444" fill="#0a95dc"/><rect x="624" y="444" fill="#0a91d9"/><rect x="632" y="444" fill="#0b8cd6"/><rect x="640" y="444" fill="#0c88d2"/><rect x="648" y="444" fill="#0c83cf"/><rect x="656" y="444" fill="#0c7ecb"/><rect x="664" y="444" fill="#0c7ac8"/><rect x="672" y="444" fill="#0c75c3"/><rect x="680" y="444" fill="#0c70bf"/><rect x="688" y="444" fill="#0b6bba"/><rect x="696" y="444" fill="#0b66b6"/><rect x="704" y="444" fill="#0d60b2"/><rect x="712" y="444" fill="#0e5aad"/><rect x="720" y="444" fill="#1054a9"/><rect x="728" y="444" fill="#124fa5"/><rect x="736" y="444" fill="#174aa1"/><rect x="744" y="444" fill="#1c459e"/><rect x="752" y="444" fill="#21419a"/><rect x="760" y="444" fill="#253d97"/><rect x="768" y="444" fill="#273a96"/><rect x="776" y="444" fill="#2a3795"/><rect x="784" y="444" fill="#2c3593"/><rect x="792" y="444" fill="#2d3393"/><rect x="800" y="444" fill="#2d3393"/><rect x="808" y="444" fill="#2e3292"/><rect x="816" y="444" fill="#2e3192"/><rect x="824" y="444" fill="#2e3192"/><rect x="832" y="444" fill="#2e3192"/><rect x="840" y="444" fill="#2e3192"/><rect x="848" y="444" fill="#2e3192"/><rect x="856" y="444" fill="#2e3192"/><rect x="864" y="444" fill="#2e3192"/><rect x="872" y="444" fill="#2e3192"/>
<rect x="224" y="452" fill="#119ba2"/><rect x="232" y="452" fill="#119ba2"/><rect x="240" y="452" fill="#119ba2"/><rect x="248" y="452" fill="#119ba2"/><rect x="256" y="452" fill="#119ba3"/><rect x="264" y="452" fill="#119ba3"/><rect x="272" y="452" fill="#119ca4"/><rect x="280" y="452" fill="#119ca4"/><rect x="288" y="452" fill="#119ca5"/><rect x="296" y="452" fill="#119ca5"/><rect x="304" y="452" fill="#119da6"/><rect x="312" y="452" fill="#119da7"/><rect x="320" y="452" fill="#119ea8"/><rect x="328" y="452" fill="#119ea9"/><rect x="336" y="452" fill="#119eab"/><rect x="344" y="452" fill="#119fac"/><rect x="352" y="452" fill="#119fad"/><rect x="360" y="452" fill="#119faf"/><rect x="368" y="452" fill="#11a0b2"/><rect x="376" y="452" fill="#11a0b5"/><rect x="384" y="452" fill="#11a1b7"/><rect x="392" y="452" fill="#11a1bb"/><rect x="400" y="452" fill="#11a2bf"/><rect x="408" y="452" fill="#10a2c2"/><rect x="416" y="452" fill="#10a3c6"/><rect x="424" y="452" fill="#0fa4ca"/><rect x="432" y="452" fill="#0ea5cf"/><rect x="440" y="452" fill="#0da5d3"/><rect x="448" y="452" fill="#0ca6d7"/><rect x="456" y="452" fill="#0ba7da"/><rect x="464" y="452" fill="#0aa7dd"/><rect x="472" y="452" fill="#09a8e0"/><rect x="480" y="452" fill="#08a8e3"/><rect x="488" y="452" fill="#07a8e5"/><rect x="496" y="452" fill="#06a9e7"/><rect x="504" y="452" fill="#05a9e9"/><rect x="512" y="452" fill="#05a9ea"/><rect x="520" y="452" fill="#05a9eb"/><rect x="528" y="452" fill="#04a9ec"/><rect x="536" y="452" fill="#04a9ec"/><rect x="544" y="452" fill="#04a9ed"/><rect x="552" y="452" fill="#04a8ec"/><rect x="560" y="452" fill="#05a7ec"/><rect x="568" y="452" fill="#06a6eb"/><rect x="576" y="452" fill="#06a5ea"/><rect x="584" y="452" fill="#07a3e8"/><rect x="592" y="452" fill="#07a0e6"/><rect x="600" y="452" fill="#089ee4"/><rect x="608" y="452" fill="#089be1"/><rect x="616" y="452" fill="#0997de"/><rect x="624" y="452" fill="#0a92db"/><rect x="632" y="452" fill="#0b8ed8"/><rect x="640" y="452" fill="#0b8ad4"/><rect x="648" y="452" fill="#0b85d0"/><rect x="656" y="452" fill="#0c80cd"/><rect x="664" y="452" fill="#0c7bc9"/><rect x="672" y="452" fill="#0c76c4"/><rect x="680" y="452" fill="#0c71c0"/><rect x="688" y="452" fill="#0b6bbb"/><rect x="696" y="452" fill="#0b66b6"/><rect x="704" y="452" fill="#0c60b2"/><rect x="712" y="452" fill="#0e5aad"/><rect x="720" y="452" fill="#0f54a9"/><rect x="728" y="452" fill="#114fa5"/><rect x="736" y="452" fill="#164aa1"/><rect x="744" y="452" fill="#1b459e"/><rect x="752" y="452" fill="#20409a"/><rect x="760" y="452" fill="#243d97"/><rect x="768" y="452" fill="#273a96"/><rect x="776" y="452" fill="#2a3795"/><rect x="784" y="452" fill="#2c3593"/><rect x="792" y="452" fill="#2d3393"/><rect x="800" y="452" fill="#2d3393"/><rect x="808" y="452" fill="#2e3292"/><rect x="816" y="452" fill="#2e3192"/><rect x="824" y="452" fill="#2e3192"/><rect x="832" y="452" fill="#2e3192"/><rect x="840" y="452" fill="#2e3192"/><rect x="848" y="452" fill="#2e3192"/><rect x="856" y="452" fill="#2e3192"/><rect x="864" y="452" fill="#2e3192"/>
<rect x="232" y="460" fill="#119ca4"/><rect x="240" y="460" fill="#119ca4"/><rect x="248" y="460" fill="#119ca4"/><rect x="256" y="460" fill="#119ca4"/><rect x="264" y="460" fill="#119ca5"/><rect x="272" y="460" fill="#119ca5"/><rect x="280" y="460" fill="#119ca6"/><rect x="288" y="460" fill="#119ca6"/><rect x="296" y="460" fill="#119da7"/><rect x="304" y="460" fill="#119da8"/><rect x="312" y="460" fill="#119da9"/><rect x="320" y="460" fill="#119eaa"/><rect x="328" y="460" fill="#119eab"/><rect x="336" y="460" fill="#119fac"/><rect x="344" y="460" fill="#119fad"/><rect x="352" y="460" fill="#119fae"/><rect x="360" y="460" fill="#11a0b0"/><rect x="368" y="460" fill="#11a0b3"/><rect x="376" y="460" fill="#11a1b6"/><rect x="384" y="460" fill="#11a1b8"/><rect x="392" y="460" fill="#11a2bc"/><rect x="400" y="460" fill="#11a2bf"/><rect x="408" y="460" fill="#10a3c3"/><rect x="416" y="460" fill="#10a3c7"/><rect x="424" y="460" fill="#0fa4cb"/><rect x="432" y="460" fill="#0ea5cf"/><rect x="440" y="460" fill="#0da6d3"/><rect x="448" y="460" fill="#0ca6d7"/><rect x="456" y="460" fill="#0ba7da"/><rect x="464" y="460" fill="#0aa7dd"/><rect x="472" y="460" fill="#09a8e1"/><rect x="480" y="460" fill="#08a8e3"/><rect x="488" y="460" fill="#07a9e5"/><rect x="496" y="460" fill="#06a9e8"/><rect x="504" y="460" fill="#05a9ea"/><rect x="512" y="460" fill="#05a9eb"/><rect x="520" y="460" fill="#05a9eb"/><rect x="528" y="460" fill="#04a9ec"/><rect x="536" y="460" fill="#04a9ed"/><rect x="544" y="460" fill="#04a9ed"/><rect x="552" y="460" fill="#04a8ec"/><rect x="560" y="460" fill="#05a7ec"/><rect x="568" y="460" fill="#06a6eb"/><rect x="576" y="460" fill="#06a5ea"/><rect x="584" y="460" fill="#07a3e8"/><rect x="592" y="460" fill="#07a0e6"/><rect x="600" y="460" fill="#089ee4"/><rect x="608" y="460" fill="#089be1"/><rect x="616" y="460" fill="#0997de"/><rect x="624" y="460" fill="#0a93db"/><rect x="632" y="460" fill="#0b8ed8"/><rect x="640" y="460" fill="#0b8ad4"/><rect x="648" y="460" fill="#0b85d1"/><rect x="656" y="460" fill="#0c80cd"/><rect x="664" y="460" fill="#0c7bc9"/><rect x="672" y="460" fill="#0c76c5"/><rect x="680" y="460" fill="#0c71c0"/><rect x="688" y="460" fill="#0b6bbb"/><rect x="696" y="460" fill="#0b66b6"/><rect x="704" y="460" fill="#0c60b2"/><rect x="712" y="460" fill="#0e5aad"/><rect x="720" y="460" fill="#0f54a9"/><rect x="728" y="460" fill="#124fa5"/><rect x="736" y="460" fill="#174aa1"/><rect x="744" y="460" fill="#1c459e"/><rect x="752" y="460" fill="#21409a"/><rect x="760" y="460" fill="#253c97"/><rect x="768" y="460" fill="#273a96"/><rect x="776" y="460" fill="#2a3795"/><rect x="784" y="460" fill="#2c3493"/><rect x="792" y="460" fill="#2d3393"/><rect x="800" y="460" fill="#2e3292"/><rect x="808" y="460" fill="#2e3292"/><rect x="816" y="460" fill="#2e3192"/><rect x="824" y="460" fill="#2e3192"/><rect x="832" y="460" fill="#2e3192"/><rect x="840" y="460" fill="#2e3192"/><rect x="848" y="460" fill="#2e3192"/><rect x="856" y="460" fill="#2e3192"/>
<rect x="240" y="468" fill="#119ca6"/><rect x="248" y="468" fill="#119ca6"/><rect x="256" y="468" fill="#119ca6"/><rect x="264" y="468" fill="#119da6"/><rect x="272" y="468" fill="#119da7"/><rect x="280" y="468" fill="#119da7"/><rect x="288" y="468" fill="#119da8"/><rect x="296" y="468" fill="#119da8"/><rect x="304" y="468" fill="#119da9"/><rect x="312" y="468" fill="#119eaa"/><rect x="320" y="468" fill="#119eab"/><rect x="328" y="468" fill="#119fac"/><rect x="336" y="468" fill="#119fad"/><rect x="344" y="468" fill="#119fae"/><rect x="352" y="468" fill="#119faf"/><rect x="360" y="468" fill="#11a0b1"/><rect x="368" y="468" fill="#11a0b4"/><rect x="376" y="468" fill="#11a1b6"/><rect x="384" y="468" fill="#11a1b9"/><rect x="392" y="468" fill="#11a2bc"/><rect x="400" y="468" fill="#11a2c0"/><rect x="408" y="468" fill="#10a3c3"/><rect x="416" y="468" fill="#10a3c7"/><rect x="424" y="468" fill="#0fa4cb"/><rect x="432" y="468" fill="#0ea5cf"/><rect x="440" y="468" fill="#0da6d3"/><rect x="448" y="468" fill="#0ca6d7"/><rect x="456" y="468" fill="#0ba7db"/><rect x="464" y="468" fill="#0aa7de"/><rect x="472" y="468" fill="#09a8e1"/><rect x="480" y="468" fill="#08a8e4"/><rect x="488" y="468" fill="#07a9e6"/><rect x="496" y="468" fill="#06a9e8"/><rect x="504" y="468" fill="#05a9ea"/><rect x="512" y="468" fill="#05a9eb"/><rect x="520" y="468" fill="#05a9eb"/><rect x="528" y="468" fill="#04a9ec"/><rect x="536" y="468" fill="#04a9ed"/><rect x="544" y="468" fill="#04a9ed"/><rect x="552" y="468" fill="#04a8ed"/><rect x="560" y="468" fill="#05a7ec"/><rect x="568" y="468" fill="#06a6eb"/><rect x="576" y="468" fill="#06a5ea"/><rect x="584" y="468" fill="#07a3e8"/><rect x="592" y="468" fill="#07a0e6"/><rect x="600" y="468" fill="#089ee4"/><rect x="608" y="468" fill="#089be1"/><rect x="616" y="468" fill="#0997de"/><rect x="624" y="468" fill="#0a93db"/><rect x="632" y="468" fill="#0b8fd8"/><rect x="640" y="468" fill="#0b8ad5"/><rect x="648" y="468" fill="#0b85d1"/><rect x="656" y="468" fill="#0c81cd"/><rect x="664" y="468" fill="#0c7cc9"/><rect x="672" y="468" fill="#0c76c5"/><rect x="680" y="468" fill="#0c71c0"/><rect x="688" y="468" fill="#0b6bbb"/><rect x="696" y="468" fill="#0b66b6"/><rect x="704" y="468" fill="#0c60b2"/><rect x="712" y="468" fill="#0e5aad"/><rect x="720" y="468" fill="#0f54a9"/><rect x="728" y="468" fill="#124fa5"/><rect x="736" y="468" fill="#174aa1"/><rect x="744" y="468" fill="#1c459e"/><rect x="752" y="468" fill="#21409a"/><rect x="760" y="468" fill="#253c97"/><rect x="768" y="468" fill="#273a96"/><rect x="776" y="468" fill="#2a3794"/><rect x="784" y="468" fill="#2d3493"/><rect x="792" y="468" fill="#2d3393"/><rect x="800" y="468" fill="#2e3292"/><rect x="808" y="468" fill="#2e3292"/><rect x="816" y="468" fill="#2e3192"/><rect x="824" y="468" fill="#2e3192"/><rect x="832" y="468" fill="#2e3192"/><rect x="840" y="468" fill="#2e3192"/><rect x="848" y="468" fill="#2e3192"/>
<rect x="248" y="476" fill="#119da7"/><rect x="256" y="476" fill="#119da8"/><rect x="264" y="476" fill="#119da8"/><rect x="272" y="476" fill="#119da8"/><rect x="280" y="476" fill="#119da9"/><rect x="288" y="476" fill="#119da9"/><rect x="296" y="476" fill="#119ea9"/><rect x="304" y="476" fill="#119eaa"/><rect x="312" y="476" fill="#119eab"/><rect x="320" y="476" fill="#119fac"/><rect x="328" y="476" fill="#119fad"/><rect x="336" y="476" fill="#119fae"/><rect x="344" y="476" fill="#119faf"/><rect x="352" y="476" fill="#11a0b0"/><rect x="360" y="476" fill="#11a0b2"/><rect x="368" y="476" fill="#11a0b5"/><rect x="376" y="476" fill="#11a1b7"/><rect x="384" y="476" fill="#11a1ba"/><rect x="392" y="476" fill="#11a2bd"/><rect x="400" y="476" fill="#11a2c0"/><rect x="408" y="476" fill="#10a3c4"/><rect x="416" y="476" fill="#10a3c8"/><rect x="424" y="476" fill="#0fa4cc"/><rect x="432" y="476" fill="#0ea5d0"/><rect x="440" y="476" fill="#0da6d4"/><rect x="448" y="476" fill="#0ca7d8"/><rect x="456" y="476" fill="#0ba7db"/><rect x="464" y="476" fill="#0aa8de"/><rect x="472" y="476" fill="#09a8e1"/><rect x="480" y="476" fill="#08a9e4"/><rect x="488" y="476" fill="#07a9e6"/><rect x="496" y="476" fill="#06a9e8"/><rect x="504" y="476" fill="#05a9ea"/><rect x="512" y="476" fill="#05a9eb"/><rect x="520" y="476" fill="#05a9eb"/><rect x="528" y="476" fill="#04a9ec"/><rect x="536" y="476" fill="#04a9ed"/><rect x="544" y="476" fill="#04a9ed"/><rect x="552" y="476" fill="#04a8ed"/><rect x="560" y="476" fill="#05a7ec"/><rect x="568" y="476" fill="#06a6eb"/><rect x="576" y="476" fill="#06a5ea"/><rect x="584" y="476" fill="#07a3e8"/><rect x="592" y="476" fill="#07a1e6"/><rect x="600" y="476" fill="#089ee4"/><rect x="608" y="476" fill="#089be2"/><rect x="616" y="476" fill="#0997df"/><rect x="624" y="476" fill="#0a93db"/><rect x="632" y="476" fill="#0b8fd8"/><rect x="640" y="476" fill="#0b8ad5"/><rect x="648" y="476" fill="#0b86d1"/><rect x="656" y="476" fill="#0c81cd"/><rect x="664" y="476" fill="#0c7cca"/><rect x="672" y="476" fill="#0c77c5"/><rect x="680" y="476" fill="#0c71c0"/><rect x="688" y="476" fill="#0b6cbb"/><rect x="696" y="476" fill="#0b66b6"/><rect x="704" y="476" fill="#0d60b2"/><rect x="712" y="476" fill="#0e5aad"/><rect x="720" y="476" fill="#1054a9"/><rect x="728" y="476" fill="#124fa5"/><rect x="736" y="476" fill="#174aa1"/><rect x="744" y="476" fill="#1c459e"/><rect x="752" y="476" fill="#21409a"/><rect x="760" y="476" fill="#253c97"/><rect x="768" y="476" fill="#283996"/><rect x="776" y="476" fill="#2a3694"/><rect x="784" y="476" fill="#2d3493"/><rect x="792" y="476" fill="#2e3292"/><rect x="800" y="476" fill="#2e3292"/><rect x="808" y="476" fill="#2e3192"/><rect x="816" y="476" fill="#2e3192"/><rect x="824" y="476" fill="#2e3192"/><rect x="832" y="476" fill="#2e3192"/><rect x="840" y="476" fill="#2e3192"/>
<rect x="256" y="484" fill="#129ea9"/><rect x="264" y="484" fill="#129eaa"/><rect x="272" y="484" fill="#129eaa"/><rect x="280" y="484" fill="#129eaa"/><rect x="288" y="484" fill="#129eaa"/><rect x="296" y="484" fill="#129eab"/><rect x="304" y="484" fill="#129eab"/><rect x="312" y="484" fill="#129fac"/><rect x="320" y="484" fill="#129fad"/><rect x="328" y="484" fill="#119fae"/><rect x="336" y="484" fill="#119faf"/><rect x="344" y="484" fill="#11a0b0"/><rect x="352" y="484" fill="#11a0b1"/><rect x="360" y="484" fill="#11a0b3"/><rect x="368" y="484" fill="#11a1b6"/><rect x="376" y="484" fill="#11a1b8"/><rect x="384" y="484" fill="#11a1ba"/><rect x="392" y="484" fill="#11a2be"/><rect x="400" y="484" fill="#11a2c1"/><rect x="408" y="484" fill="#10a3c5"/><rect x="416" y="484" fill="#10a4c8"/><rect x="424" y="484" fill="#0fa4cc"/><rect x="432" y="484" fill="#0ea5d0"/><rect x="440" y="484" fill="#0da6d4"/><rect x="448" y="484" fill="#0ca7d8"/><rect x="456" y="484" fill="#0ba7db"/><rect x="464" y="484" fill="#0aa8de"/><rect x="472" y="484" fill="#09a8e1"/><rect x="480" y="484" fill="#08a9e4"/><rect x="488" y="484" fill="#07a9e6"/><rect x="496" y="484" fill="#06a9e8"/><rect x="504" y="484" fill="#05a9ea"/><rect x="512" y="484" fill="#05aaeb"/><rect x="520" y="484" fill="#05aaec"/><rect x="528" y="484" fill="#04aaec"/><rect x="536" y="484" fill="#04aaed"/><rect x="544" y="484" fill="#04aaee"/><rect x="552" y="484" fill="#04a9ed"/><rect x="560" y="484" fill="#05a8ec"/><rect x="568" y="484" fill="#06a7eb"/><rect x="576" y="484" fill="#06a6eb"/><rect x="584" y="484" fill="#07a3e8"/><rect x="592" y="484" fill="#07a1e6"/><rect x="600" y="484" fill="#089ee4"/><rect x="608" y="484" fill="#089be2"/><rect x="616" y="484" fill="#0997df"/><rect x="624" y="484" fill="#0a93dc"/><rect x="632" y="484" fill="#0b8fd9"/><rect x="640" y="484" fill="#0b8bd5"/><rect x="648" y="484" fill="#0b86d1"/><rect x="656" y="484" fill="#0c81ce"/><rect x="664" y="484" fill="#0c7cca"/><rect x="672" y="484" fill="#0c77c5"/><rect x="680" y="484" fill="#0c71c0"/><rect x="688" y="484" fill="#0b6cbb"/><rect x="696" y="484" fill="#0b66b6"/><rect x="704" y="484" fill="#0d60b2"/><rect x="712" y="484" fill="#0e5aad"/><rect x="720" y="484" fill="#1054a9"/><rect x="728" y="484" fill="#124fa5"/><rect x="736" y="484" fill="#174aa1"/><rect x="744" y="484" fill="#1c459e"/><rect x="752" y="484" fill="#21409a"/><rect x="760" y="484" fill="#253c97"/><rect x="768" y="484" fill="#283996"/><rect x="776" y="484" fill="#2a3694"/><rect x="784" y="484" fill="#2d3393"/><rect x="792" y="484" fill="#2e3292"/><rect x="800" y="484" fill="#2e3292"/><rect x="808" y="484" fill="#2e3192"/><rect x="816" y="484" fill="#2e3192"/><rect x="824" y="484" fill="#2e3192"/><rect x="832" y="484" fill="#2e3192"/>
<rect x="272" y="492" fill="#129eab"/><rect x="280" y="492" fill="#129eac"/><rect x="288" y="492" fill="#129eac"/><rect x="296" y="492" fill="#129fac"/><rect x="304" y="492" fill="#129fad"/><rect x="312" y="492" fill="#129fad"/><rect x="320" y="492" fill="#129fae"/><rect x="328" y="492" fill="#129faf"/><rect x="336" y="492" fill="#11a0b0"/><rect x="344" y="492" fill="#11a0b1"/><rect x="352" y="492" fill="#11a0b2"/><rect x="360" y="492" fill="#11a0b4"/><rect x="368" y="492" fill="#11a1b7"/><rect x="376" y="492" fill="#11a1b9"/><rect x="384" y="492" fill="#11a2bb"/><rect x="392" y="492" fill="#11a2be"/><rect x="400" y="492" fill="#11a3c2"/><rect x="408" y="492" fill="#10a3c5"/><rect x="416" y="492" fill="#10a4c9"/><rect x="424" y="492" fill="#0fa4cc"/><rect x="432" y="492" fill="#0ea5d0"/><rect x="440" y="492" fill="#0da6d4"/><rect x="448" y="492" fill="#0ca7d8"/><rect x="456" y="492" fill="#0ba7db"/><rect x="464" y="492" fill="#0aa8de"/><rect x="472" y="492" fill="#09a8e2"/><rect x="480" y="492" fill="#08a9e4"/><rect x="488" y="492" fill="#07a9e6"/><rect x="496" y="492" fill="#06a9e8"/><rect x="504" y="492" fill="#05aaea"/><rect x="512" y="492" fill="#05aaeb"/><rect x="520" y="492" fill="#05aaec"/><rect x="528" y="492" fill="#04aaec"/><rect x="536" y="492" fill="#04aaed"/><rect x="544" y="492" fill="#04aaee"/><rect x="552" y="492" fill="#04a9ed"/><rect x="560" y="492" fill="#05a8ec"/><rect x="568" y="492" fill="#06a7eb"/><rect x="576" y="492" fill="#06a6eb"/><rect x="584" y="492" fill="#07a3e8"/><rect x="592" y="492" fill="#07a1e6"/><rect x="600" y="492" fill="#089ee4"/><rect x="608" y="492" fill="#089ce2"/><rect x="616" y="492" fill="#0998df"/><rect x="624" y="492" fill="#0a93dc"/><rect x="632" y="492" fill="#0b8fd9"/><rect x="640" y="492" fill="#0b8bd5"/><rect x="648" y="492" fill="#0b86d2"/><rect x="656" y="492" fill="#0c81ce"/><rect x="664" y="492" fill="#0c7cca"/><rect x="672" y="492" fill="#0c77c5"/><rect x="680" y="492" fill="#0c71c0"/><rect x="688" y="492" fill="#0b6cbb"/><rect x="696" y="492" fill="#0b66b6"/><rect x="704" y="492" fill="#0d60b2"/><rect x="712" y="492" fill="#0e5aad"/><rect x="720" y="492" fill="#1054a9"/><rect x="728" y="492" fill="#134fa5"/><rect x="736" y="492" fill="#184aa1"/><rect x="744" y="492" fill="#1d459e"/><rect x="752" y="492" fill="#22409a"/><rect x="760" y="492" fill="#263c97"/><rect x="768" y="492" fill="#283996"/><rect x="776" y="492" fill="#2b3694"/><rect x="784" y="492" fill="#2d3393"/><rect x="792" y="492" fill="#2e3292"/><rect x="800" y="492" fill="#2e3292"/><rect x="808" y="492" fill="#2e3192"/><rect x="816" y="492" fill="#2e3192"/>
<rect x="280" y="500" fill="#129fad"/><rect x="288" y="500" fill="#129fad"/><rect x="296" y="500" fill="#129fad"/><rect x="304" y="500" fill="#129fae"/><rect x="312" y="500" fill="#129faf"/><rect x="320" y="500" fill="#129faf"/><rect x="328" y="500" fill="#12a0b0"/><rect x="336" y="500" fill="#12a0b1"/><rect x="344" y="500" fill="#11a0b2"/><rect x="352" y="500" fill="#11a0b3"/><rect x="360" y="500" fill="#11a1b5"/><rect x="368" y="500" fill="#11a1b7"/><rect x="376" y="500" fill="#11a1ba"/><rect x="384" y="500" fill="#11a2bc"/><rect x="392" y="500" fill="#11a2bf"/><rect x="400" y="500" fill="#11a3c2"/><rect x="408" y="500" fill="#10a3c6"/><rect x="416" y="500" fill="#10a4c9"/><rect x="424" y="500" fill="#0fa5cd"/><rect x="432" y="500" fill="#0ea5d1"/><rect x="440" y="500" fill="#0da6d5"/><rect x="448" y="500" fill="#0ca7d8"/><rect x="456" y="500" fill="#0ba7dc"/><rect x="464" y="500" fill="#0aa8df"/><rect x="472" y="500" fill="#09a8e2"/><rect x="480" y="500" fill="#08a9e4"/><rect x="488" y="500" fill="#07a9e6"/><rect x="496" y="500" fill="#06a9e8"/><rect x="504" y="500" fill="#05aaea"/><rect x="512" y="500" fill="#05aaeb"/><rect x="520" y="500" fill="#05aaec"/><rect x="528" y="500" fill="#04aaec"/><rect x="536" y="500" fill="#04aaed"/><rect x="544" y="500" fill="#04aaee"/><rect x="552" y="500" fill="#04a9ed"/><rect x="560" y="500" fill="#05a8ec"/><rect x="568" y="500" fill="#06a7ec"/><rect x="576" y="500" fill="#06a6eb"/><rect x="584" y="500" fill="#07a3e9"/><rect x="592" y="500" fill="#07a1e6"/><rect x="600" y="500" fill="#089fe4"/><rect x="608" y="500" fill="#089ce2"/><rect x="616" y="500" fill="#0998df"/><rect x="624" y="500" fill="#0a94dc"/><rect x="632" y="500" fill="#0b90d9"/><rect x="640" y="500" fill="#0b8bd6"/><rect x="648" y="500" fill="#0b86d2"/><rect x="656" y="500" fill="#0c82ce"/><rect x="664" y="500" fill="#0c7dca"/><rect x="672" y="500" fill="#0c77c6"/><rect x="680" y="500" fill="#0c71c0"/><rect x="688" y="500" fill="#0b6cbb"/><rect x="696" y="500" fill="#0b66b6"/><rect x="704" y="500" fill="#0d60b2"/><rect x="712" y="500" fill="#0e5aad"/><rect x="720" y="500" fill="#1054a9"/><rect x="728" y="500" fill="#134fa5"/><rect x="736" y="500" fill="#184aa1"/><rect x="744" y="500" fill="#1d459e"/><rect x="752" y="500" fill="#22409a"/><rect x="760" y="500" fill="#263c97"/><rect x="768" y="500" fill="#283996"/><rect x="776" y="500" fill="#2b3694"/><rect x="784" y="500" fill="#2d3393"/><rect x="792" y="500" fill="#2e3292"/><rect x="800" y="500" fill="#2e3192"/><rect x="808" y="500" fill="#2e3192"/>
<rect x="288" y="508" fill="#129faf"/><rect x="296" y="508" fill="#12a0af"/><rect x="304" y="508" fill="#12a0af"/><rect x="312" y="508" fill="#12a0b0"/><rect x="320" y="508" fill="#12a0b0"/><rect x="328" y="508" fill="#12a0b1"/><rect x="336" y="508" fill="#12a0b2"/><rect x="344" y="508" fill="#11a0b3"/><rect x="352" y="508" fill="#11a1b4"/><rect x="360" y="508" fill="#11a1b6"/><rect x="368" y="508" fill="#11a1b8"/><rect x="376" y="508" fill="#11a2bb"/><rect x="384" y="508" fill="#11a2bd"/><rect x="392" y="508" fill="#11a2c0"/><rect x="400" y="508" fill="#11a3c3"/><rect x="408" y="508" fill="#10a3c6"/><rect x="416" y="508" fill="#10a4ca"/><rect x="424" y="508" fill="#0fa5cd"/><rect x="432" y="508" fill="#0ea5d1"/><rect x="440" y="508" fill="#0da6d5"/><rect x="448" y="508" fill="#0ca7d9"/><rect x="456" y="508" fill="#0ba8dc"/><rect x="464" y="508" fill="#0aa8df"/><rect x="472" y="508" fill="#09a9e2"/><rect x="480" y="508" fill="#08a9e5"/><rect x="488" y="508" fill="#07a9e7"/><rect x="496" y="508" fill="#06aae9"/><rect x="504" y="508" fill="#05aaea"/><rect x="512" y="508" fill="#05aaeb"/><rect x="520" y="508" fill="#05aaec"/><rect x="528" y="508" fill="#04aaed"/><rect x="536" y="508" fill="#04aaed"/><rect x="544" y="508" fill="#04aaee"/><rect x="552" y="508" fill="#04a9ed"/><rect x="560" y="508" fill="#05a8ec"/><rect x="568" y="508" fill="#06a7ec"/><rect x="576" y="508" fill="#06a6eb"/><rect x="584" y="508" fill="#07a3e9"/><rect x="592" y="508" fill="#07a1e7"/><rect x="600" y="508" fill="#089fe4"/><rect x="608" y="508" fill="#089ce2"/><rect x="616" y="508" fill="#0998df"/><rect x="624" y="508" fill="#0a94dc"/><rect x="632" y="508" fill="#0b90d9"/><rect x="640" y="508" fill="#0b8bd6"/><rect x="648" y="508" fill="#0b87d2"/><rect x="656" y="508" fill="#0c82ce"/><rect x="664" y="508" fill="#0c7dcb"/><rect x="672" y="508" fill="#0c77c6"/><rect x="680" y="508" fill="#0c72c1"/><rect x="688" y="508" fill="#0b6cbb"/><rect x="696" y="508" fill="#0b66b6"/><rect x="704" y="508" fill="#0d60b2"/><rect x="712" y="508" fill="#0f5aad"/><rect x="720" y="508" fill="#1054a9"/><rect x="728" y="508" fill="#134fa5"/><rect x="736" y="508" fill="#184aa1"/><rect x="744" y="508" fill="#1d459e"/><rect x="752" y="508" fill="#22409a"/><rect x="760" y="508" fill="#263c97"/><rect x="768" y="508" fill="#283896"/><rect x="776" y="508" fill="#2b3594"/><rect x="784" y="508" fill="#2d3293"/><rect x="792" y="508" fill="#2e3192"/><rect x="800" y="508" fill="#2e3192"/>
<rect x="304" y="516" fill="#12a0b1"/><rect x="312" y="516" fill="#12a0b1"/><rect x="320" y="516" fill="#12a0b2"/><rect x="328" y="516" fill="#12a0b2"/><rect x="336" y="516" fill="#12a0b3"/><rect x="344" y="516" fill="#11a1b4"/><rect x="352" y="516" fill="#11a1b5"/><rect x="360" y="516" fill="#11a1b7"/><rect x="368" y="516" fill="#11a1b9"/><rect x="376" y="516" fill="#11a2bb"/><rect x="384" y="516" fill="#11a2bd"/><rect x="392" y="516" fill="#11a2c0"/><rect x="400" y="516" fill="#11a3c4"/><rect x="408" y="516" fill="#10a3c7"/><rect x="416" y="516" fill="#10a4ca"/><rect x="424" y="516" fill="#0fa5ce"/><rect x="432" y="516" fill="#0ea6d1"/><rect x="440" y="516" fill="#0da6d5"/><rect x="448" y="516" fill="#0ca7d9"/><rect x="456" y="516" fill="#0ba8dc"/><rect x="464" y="516" fill="#0aa8df"/><rect x="472" y="516" fill="#09a9e2"/><rect x="480" y="516" fill="#08a9e5"/><rect x="488" y="516" fill="#07a9e7"/><rect x="496" y="516" fill="#06aae9"/><rect x="504" y="516" fill="#05aaeb"/><rect x="512" y="516" fill="#05aaeb"/><rect x="520" y="516" fill="#05aaec"/><rect x="528" y="516" fill="#04aaed"/><rect x="536" y="516" fill="#04aaed"/><rect x="544" y="516" fill="#04aaee"/><rect x="552" y="516" fill="#04a9ed"/><rect x="560" y="516" fill="#05a8ec"/><rect x="568" y="516" fill="#06a7ec"/><rect x="576" y="516" fill="#06a6eb"/><rect x="584" y="516" fill="#07a4e9"/><rect x="592" y="516" fill="#07a1e7"/><rect x="600" y="516" fill="#089fe5"/><rect x="608" y="516" fill="#089ce2"/><rect x="616" y="516" fill="#0998df"/><rect x="624" y="516" fill="#0a94dc"/><rect x="632" y="516" fill="#0b90d9"/><rect x="640" y="516" fill="#0b8cd6"/><rect x="648" y="516" fill="#0b87d2"/><rect x="656" y="516" fill="#0c82cf"/><rect x="664" y="516" fill="#0c7dcb"/><rect x="672" y="516" fill="#0c78c6"/><rect x="680" y="516" fill="#0c72c1"/><rect x="688" y="516" fill="#0b6cbb"/><rect x="696" y="516" fill="#0b66b6"/><rect x="704" y="516" fill="#0d60b2"/><rect x="712" y="516" fill="#0f5aad"/><rect x="720" y="516" fill="#1154a9"/><rect x="728" y="516" fill="#134fa5"/><rect x="736" y="516" fill="#184aa1"/><rect x="744" y="516" fill="#1d459e"/><rect x="752" y="516" fill="#22409a"/><rect x="760" y="516" fill="#263b97"/><rect x="768" y="516" fill="#293896"/><rect x="776" y="516" fill="#2b3594"/><rect x="784" y="516" fill="#2d3292"/>
<rect x="312" y="524" fill="#12a0b1"/><rect x="320" y="524" fill="#12a0b2"/><rect x="328" y="524" fill="#12a0b2"/><rect x="336" y="524" fill="#12a0b3"/><rect x="344" y="524" fill="#11a1b4"/><rect x="352" y="524" fill="#11a1b5"/><rect x="360" y="524" fill="#11a1b7"/><rect x="368" y="524" fill="#11a1b9"/><rect x="376" y="524" fill="#11a2bb"/><rect x="384" y="524" fill="#11a2bd"/><rect x="392" y="524" fill="#11a2c0"/><rect x="400" y="524" fill="#11a3c4"/><rect x="408" y="524" fill="#10a3c7"/><rect x="416" y="524" fill="#10a4ca"/><rect x="424" y="524" fill="#0fa5ce"/><rect x="432" y="524" fill="#0ea6d1"/><rect x="440" y="524" fill="#0da6d5"/><rect x="448" y="524" fill="#0ca7d9"/><rect x="456" y="524" fill="#0ba8dc"/><rect x="464" y="524" fill="#0aa8df"/><rect x="472" y="524" fill="#09a9e2"/><rect x="480" y="524" fill="#08a9e5"/><rect x="488" y="524" fill="#07a9e7"/><rect x="496" y="524" fill="#06aae9"/><rect x="504" y="524" fill="#05aaeb"/><rect x="512" y="524" fill="#05aaeb"/><rect x="520" y="524" fill="#05aaec"/><rect x="528" y="524" fill="#04aaed"/><rect x="536" y="524" fill="#04aaed"/><rect x="544" y="524" fill="#04aaee"/><rect x="552" y="524" fill="#04a9ed"/><rect x="560" y="524" fill="#05a8ec"/><rect x="568" y="524" fill="#06a7ec"/><rect x="576" y="524" fill="#06a6eb"/><rect x="584" y="524" fill="#07a4e9"/><rect x="592" y="524" fill="#07a1e7"/><rect x="600" y="524" fill="#089fe5"/><rect x="608" y="524" fill="#089ce2"/><rect x="616" y="524" fill="#0998df"/><rect x="624" y="524" fill="#0a94dc"/><rect x="632" y="524" fill="#0b90d9"/><rect x="640" y="524" fill="#0b8cd6"/><rect x="648" y="524" fill="#0b87d2"/><rect x="656" y="524" fill="#0c82cf"/><rect x="664" y="524" fill="#0c7dcb"/><rect x="672" y="524" fill="#0c78c6"/><rect x="680" y="524" fill="#0c72c1"/><rect x="688" y="524" fill="#0b6cbb"/><rect x="696" y="524" fill="#0b66b6"/><rect x="704" y="524" fill="#0d60b2"/><rect x="712" y="524" fill="#0f5aad"/><rect x="720" y="524" fill="#1154a9"/><rect x="728" y="524" fill="#134fa5"/><rect x="736" y="524" fill="#184aa1"/><rect x="744" y="524" fill="#1d459e"/><rect x="752" y="524" fill="#22409a"/><rect x="760" y="524" fill="#263b97"/><rect x="768" y="524" fill="#293896"/><rect x="776" y="524" fill="#2b3594"/>
<rect x="328" y="532" fill="#12a0b2"/><rect x="336" y="532" fill="#12a0b3"/><rect x="344" y="532" fill="#11a1b4"/><rect x="352" y="532" fill="#11a1b5"/><rect x="360" y="532" fill="#11a1b7"/><rect x="368" y="532" fill="#11a1b9"/><rect x="376" y="532" fill="#11a2bb"/><rect x="384" y="532" fill="#11a2bd"/><rect x="392" y="532" fill="#11a2c0"/><rect x="400" y="532" fill="#11a3c4"/><rect x="408" y="532" fill="#10a3c7"/><rect x="416" y="532" fill="#10a4ca"/><rect x="424" y="532" fill="#0fa5ce"/><rect x="432" y="532" fill="#0ea6d1"/><rect x="440" y="532" fill="#0da6d5"/><rect x="448" y="532" fill="#0ca7d9"/><rect x="456" y="532" fill="#0ba8dc"/><rect x="464" y="532" fill="#0aa8df"/><rect x="472" y="532" fill="#09a9e2"/><rect x="480" y="532" fill="#08a9e5"/><rect x="488" y="532" fill="#07a9e7"/><rect x="496" y="532" fill="#06aae9"/><rect x="504" y="532" fill="#05aaeb"/><rect x="512" y="532" fill="#05aaeb"/><rect x="520" y="532" fill="#05aaec"/><rect x="528" y="532" fill="#04aaed"/><rect x="536" y="532" fill="#04aaed"/><rect x="544" y="532" fill="#04aaee"/><rect x="552" y="532" fill="#04a9ed"/><rect x="560" y="532" fill="#05a8ec"/><rect x="568" y="532" fill="#06a7ec"/><rect x="576" y="532" fill="#06a6eb"/><rect x="584" y="532" fill="#07a4e9"/><rect x="592" y="532" fill="#07a1e7"/><rect x="600" y="532" fill="#089fe5"/><rect x="608" y="532" fill="#089ce2"/><rect x="616" y="532" fill="#0998df"/><rect x="624" y="532" fill="#0a94dc"/><rect x="632" y="532" fill="#0b90d9"/><rect x="640" y="532" fill="#0b8cd6"/><rect x="648" y="532" fill="#0b87d2"/><rect x="656" y="532" fill="#0c82cf"/><rect x="664" y="532" fill="#0c7dcb"/><rect x="672" y="532" fill="#0c78c6"/><rect x="680" y="532" fill="#0c72c1"/><rect x="688" y="532" fill="#0b6cbb"/><rect x="696" y="532" fill="#0b66b6"/><rect x="704" y="532" fill="#0d60b2"/><rect x="712" y="532" fill="#0f5aad"/><rect x="720" y="532" fill="#1154a9"/><rect x="728" y="532" fill="#134fa5"/><rect x="736" y="532" fill="#184aa1"/><rect x="744" y="532" fill="#1d459e"/><rect x="752" y="532" fill="#22409a"/><rect x="760" y="532" fill="#263b97"/>
<rect x="344" y="540" fill="#11a1b4"/><rect x="352" y="540" fill="#11a1b5"/><rect x="360" y="540" fill="#11a1b7"/><rect x="368" y="540" fill="#11a1b9"/><rect x="376" y="540" fill="#11a2bb"/><rect x="384" y="540" fill="#11a2bd"/><rect x="392" y="540" fill="#11a2c0"/><rect x="400" y="540" fill="#11a3c4"/><rect x="408" y="540" fill="#10a3c7"/><rect x="416" y="540" fill="#10a4ca"/><rect x="424" y="540" fill="#0fa5ce"/><rect x="432" y="540" fill="#0ea6d1"/><rect x="440" y="540" fill="#0da6d5"/><rect x="448" y="540" fill="#0ca7d9"/><rect x="456" y="540" fill="#0ba8dc"/><rect x="464" y="540" fill="#0aa8df"/><rect x="472" y="540" fill="#09a9e2"/><rect x="480" y="540" fill="#08a9e5"/><rect x="488" y="540" fill="#07a9e7"/><rect x="496" y="540" fill="#06aae9"/><rect x="504" y="540" fill="#05aaeb"/><rect x="512" y="540" fill="#05aaeb"/><rect x="520" y="540" fill="#05aaec"/><rect x="528" y="540" fill="#04aaed"/><rect x="536" y="540" fill="#04aaed"/><rect x="544" y="540" fill="#04aaee"/><rect x="552" y="540" fill="#04a9ed"/><rect x="560" y="540" fill="#05a8ec"/><rect x="568" y="540" fill="#06a7ec"/><rect x="576" y="540" fill="#06a6eb"/><rect x="584" y="540" fill="#07a4e9"/><rect x="592" y="540" fill="#07a1e7"/><rect x="600" y="540" fill="#089fe5"/><rect x="608" y="540" fill="#089ce2"/><rect x="616" y="540" fill="#0998df"/><rect x="624" y="540" fill="#0a94dc"/><rect x="632" y="540" fill="#0b90d9"/><rect x="640" y="540" fill="#0b8cd6"/><rect x="648" y="540" fill="#0b87d2"/><rect x="656" y="540" fill="#0c82cf"/><rect x="664" y="540" fill="#0c7dcb"/><rect x="672" y="540" fill="#0c78c6"/><rect x="680" y="540" fill="#0c72c1"/><rect x="688" y="540" fill="#0b6cbb"/><rect x="696" y="540" fill="#0b66b6"/><rect x="704" y="540" fill="#0d60b2"/><rect x="712" y="540" fill="#0f5aad"/><rect x="720" y="540" fill="#1154a9"/><rect x="728" y="540" fill="#134fa5"/><rect x="736" y="540" fill="#184aa1"/><rect x="744" y="540" fill="#1d459e"/>
<rect x="360" y="548" fill="#11a1b7"/><rect x="368" y="548" fill="#11a1b9"/><rect x="376" y="548" fill="#11a2bb"/><rect x="384" y="548" fill="#11a2bd"/><rect x="392" y="548" fill="#11a2c0"/><rect x="400" y="548" fill="#11a3c4"/><rect x="408" y="548" fill="#10a3c7"/><rect x="416" y="548" fill="#10a4ca"/><rect x="424" y="548" fill="#0fa5ce"/><rect x="432" y="548" fill="#0ea6d1"/><rect x="440" y="548" fill="#0da6d5"/><rect x="448" y="548" fill="#0ca7d9"/><rect x="456" y="548" fill="#0ba8dc"/><rect x="464" y="548" fill="#0aa8df"/><rect x="472" y="548" fill="#09a9e2"/><rect x="480" y="548" fill="#08a9e5"/><rect x="488" y="548" fill="#07a9e7"/><rect x="496" y="548" fill="#06aae9"/><rect x="504" y="548" fill="#05aaeb"/><rect x="512" y="548" fill="#05aaeb"/><rect x="520" y="548" fill="#05aaec"/><rect x="528" y="548" fill="#04aaed"/><rect x="536" y="548" fill="#04aaed"/><rect x="544" y="548" fill="#04aaee"/><rect x="552" y="548" fill="#04a9ed"/><rect x="560" y="548" fill="#05a8ec"/><rect x="568" y="548" fill="#06a7ec"/><rect x="576" y="548" fill="#06a6eb"/><rect x="584" y="548" fill="#07a4e9"/><rect x="592" y="548" fill="#07a1e7"/><rect x="600" y="548" fill="#089fe5"/><rect x="608" y="548" fill="#089ce2"/><rect x="616" y="548" fill="#0998df"/><rect x="624" y="548" fill="#0a94dc"/><rect x="632" y="548" fill="#0b90d9"/><rect x="640" y="548" fill="#0b8cd6"/><rect x="648" y="548" fill="#0b87d2"/><rect x="656" y="548" fill="#0c82cf"/><rect x="664" y="548" fill="#0c7dcb"/><rect x="672" y="548" fill="#0c78c6"/><rect x="680" y="548" fill="#0c72c1"/><rect x="688" y="548" fill="#0b6cbb"/><rect x="696" y="548" fill="#0b66b6"/><rect x="704" y="548" fill="#0d60b2"/><rect x="712" y="548" fill="#0f5aad"/><rect x="720" y="548" fill="#1154a9"/><rect x="728" y="548" fill="#134fa5"/>
<rect x="376" y="556" fill="#11a2bb"/><rect x="384" y="556" fill="#11a2bd"/><rect x="392" y="556" fill="#11a2c0"/><rect x="400" y="556" fill="#11a3c4"/><rect x="408" y="556" fill="#10a3c7"/><rect x="416" y="556" fill="#10a4ca"/><rect x="424" y="556" fill="#0fa5ce"/><rect x="432" y="556" fill="#0ea6d1"/><rect x="440" y="556" fill="#0da6d5"/><rect x="448" y="556" fill="#0ca7d9"/><rect x="456" y="556" fill="#0ba8dc"/><rect x="464" y="556" fill="#0aa8df"/><rect x="472" y="556" fill="#09a9e2"/><rect x="480" y="556" fill="#08a9e5"/><rect x="488" y="556" fill="#07a9e7"/><rect x="496" y="556" fill="#06aae9"/><rect x="504" y="556" fill="#05aaeb"/><rect x="512" y="556" fill="#05aaeb"/><rect x="520" y="556" fill="#05aaec"/><rect x="528" y="556" fill="#04aaed"/><rect x="536" y="556" fill="#04aaed"/><rect x="544" y="556" fill="#04aaee"/><rect x="552" y="556" fill="#04a9ed"/><rect x="560" y="556" fill="#05a8ec"/><rect x="568" y="556" fill="#06a7ec"/><rect x="576" y="556" fill="#06a6eb"/><rect x="584" y="556" fill="#07a4e9"/><rect x="592" y="556" fill="#07a1e7"/><rect x="600" y="556" fill="#089fe5"/><rect x="608" y="556" fill="#089ce2"/><rect x="616" y="556" fill="#0998df"/><rect x="624" y="556" fill="#0a94dc"/><rect x="632" y="556" fill="#0b90d9"/><rect x="640" y="556" fill="#0b8cd6"/><rect x="648" y="556" fill="#0b87d2"/><rect x="656" y="556" fill="#0c82cf"/><rect x="664" y="556" fill="#0c7dcb"/><rect x="672" y="556" fill="#0c78c6"/><rect x="680" y="556" fill="#0c72c1"/><rect x="688" y="556" fill="#0b6cbb"/><rect x="696" y="556" fill="#0b66b6"/><rect x="704" y="556" fill="#0d60b2"/><rect x="712" y="556" fill="#0f5aad"/>
<rect x="400" y="564" fill="#11a3c4"/><rect x="408" y="564" fill="#10a3c7"/><rect x="416" y="564" fill="#10a4ca"/><rect x="424" y="564" fill="#0fa5ce"/><rect x="432" y="564" fill="#0ea6d1"/><rect x="440" y="564" fill="#0da6d5"/><rect x="448" y="564" fill="#0ca7d9"/><rect x="456" y="564" fill="#0ba8dc"/><rect x="464" y="564" fill="#0aa8df"/><rect x="472" y="564" fill="#09a9e2"/><rect x="480" y="564" fill="#08a9e5"/><rect x="488" y="564" fill="#07a9e7"/><rect x="496" y="564" fill="#06aae9"/><rect x="504" y="564" fill="#05aaeb"/><rect x="512" y="564" fill="#05aaeb"/><rect x="520" y="564" fill="#05aaec"/><rect x="528" y="564" fill="#04aaed"/><rect x="536" y="564" fill="#04aaed"/><rect x="544" y="564" fill="#04aaee"/><rect x="552" y="564" fill="#04a9ed"/><rect x="560" y="564" fill="#05a8ec"/><rect x="568" y="564" fill="#06a7ec"/><rect x="576" y="564" fill="#06a6eb"/><rect x="584" y="564" fill="#07a4e9"/><rect x="592" y="564" fill="#07a1e7"/><rect x="600" y="564" fill="#089fe5"/><rect x="608" y="564" fill="#089ce2"/><rect x="616" y="564" fill="#0998df"/><rect x="624" y="564" fill="#0a94dc"/><rect x="632" y="564" fill="#0b90d9"/><rect x="640" y="564" fill="#0b8cd6"/><rect x="648" y="564" fill="#0b87d2"/><rect x="656" y="564" fill="#0c82cf"/><rect x="664" y="564" fill="#0c7dcb"/><rect x="672" y="564" fill="#0c78c6"/><rect x="680" y="564" fill="#0c72c1"/><rect x="688" y="564" fill="#0b6cbb"/>
<rect x="424" y="572" fill="#0fa5ce"/><rect x="432" y="572" fill="#0ea6d1"/><rect x="440" y="572" fill="#0da6d5"/><rect x="448" y="572" fill="#0ca7d9"/><rect x="456" y="572" fill="#0ba8dc"/><rect x="464" y="572" fill="#0aa8df"/><rect x="472" y="572" fill="#09a9e2"/><rect x="480" y="572" fill="#08a9e5"/><rect x="488" y="572" fill="#07a9e7"/><rect x="496" y="572" fill="#06aae9"/><rect x="504" y="572" fill="#05aaeb"/><rect x="512" y="572" fill="#05aaeb"/><rect x="520" y="572" fill="#05aaec"/><rect x="528" y="572" fill="#04aaed"/><rect x="536" y="572" fill="#04aaed"/><rect x="544" y="572" fill="#04aaee"/><rect x="552" y="572" fill="#04a9ed"/><rect x="560" y="572" fill="#05a8ec"/><rect x="568" y="572" fill="#06a7ec"/><rect x="576" y="572" fill="#06a6eb"/><rect x="584" y="572" fill="#07a4e9"/><rect x="592" y="572" fill="#07a1e7"/><rect x="600" y="572" fill="#089fe5"/><rect x="608" y="572" fill="#089ce2"/><rect x="616" y="572" fill="#0998df"/><rect x="624" y="572" fill="#0a94dc"/><rect x="632" y="572" fill="#0b90d9"/><rect x="640" y="572" fill="#0b8cd6"/><rect x="648" y="572" fill="#0b87d2"/><rect x="656" y="572" fill="#0c82cf"/><rect x="664" y="572" fill="#0c7dcb"/>
<rect x="456" y="580" fill="#0ba8dc"/><rect x="464" y="580" fill="#0aa8df"/><rect x="472" y="580" fill="#09a9e2"/><rect x="480" y="580" fill="#08a9e5"/><rect x="488" y="580" fill="#07a9e7"/><rect x="496" y="580" fill="#06aae9"/><rect x="504" y="580" fill="#05aaeb"/><rect x="512" y="580" fill="#05aaeb"/><rect x="520" y="580" fill="#05aaec"/><rect x="528" y="580" fill="#04aaed"/><rect x="536" y="580" fill="#04aaed"/><rect x="544" y="580" fill="#04aaee"/><rect x="552" y="580" fill="#04a9ed"/><rect x="560" y="580" fill="#05a8ec"/><rect x="568" y="580" fill="#06a7ec"/><rect x="576" y="580" fill="#06a6eb"/><rect x="584" y="580" fill="#07a4e9"/><rect x="592" y="580" fill="#07a1e7"/><rect x="600" y="580" fill="#089fe5"/><rect x="608" y="580" fill="#089ce2"/><rect x="616" y="580" fill="#0998df"/><rect x="624" y="580" fill="#0a94dc"/><rect x="632" y="580" fill="#0b90d9"/>
<rect x="504" y="588" fill="#05aaeb"/><rect x="512" y="588" fill="#05aaeb"/><rect x="520" y="588" fill="#05aaec"/><rect x="528" y="588" fill="#04aaed"/><rect x="536" y="588" fill="#04aaed"/><rect x="544" y="588" fill="#04aaee"/><rect x="552" y="588" fill="#04a9ed"/><rect x="560" y="588" fill="#05a8ec"/><rect x="568" y="588" fill="#06a7ec"/><rect x="576" y="588" fill="#06a6eb"/>

</g>
<g stroke="#fff" stroke-opacity="0.08" stroke-width="2.6">
<line x1="125.1" y1="148" x2="125.1" y2="575"/>
<line x1="155.3" y1="148" x2="155.3" y2="575"/>
<line x1="185.5" y1="148" x2="185.5" y2="575"/>
<line x1="215.7" y1="148" x2="215.7" y2="575"/>
<line x1="245.9" y1="148" x2="245.9" y2="575"/>
<line x1="276.1" y1="148" x2="276.1" y2="575"/>
<line x1="306.3" y1="148" x2="306.3" y2="575"/>
<line x1="336.5" y1="148" x2="336.5" y2="575"/>
<line x1="366.7" y1="148" x2="366.7" y2="575"/>
<line x1="396.8" y1="148" x2="396.8" y2="575"/>
<line x1="427.0" y1="148" x2="427.0" y2="575"/>
<line x1="457.2" y1="148" x2="457.2" y2="575"/>
<line x1="487.4" y1="148" x2="487.4" y2="575"/>
<line x1="517.6" y1="148" x2="517.6" y2="575"/>
<line x1="578.0" y1="148" x2="578.0" y2="575"/>
<line x1="608.2" y1="148" x2="608.2" y2="575"/>
<line x1="638.4" y1="148" x2="638.4" y2="575"/>
<line x1="668.6" y1="148" x2="668.6" y2="575"/>
<line x1="698.8" y1="148" x2="698.8" y2="575"/>
<line x1="728.9" y1="148" x2="728.9" y2="575"/>
<line x1="759.1" y1="148" x2="759.1" y2="575"/>
<line x1="789.3" y1="148" x2="789.3" y2="575"/>
<line x1="819.5" y1="148" x2="819.5" y2="575"/>
<line x1="849.7" y1="148" x2="849.7" y2="575"/>
<line x1="879.9" y1="148" x2="879.9" y2="575"/>
<line x1="910.1" y1="148" x2="910.1" y2="575"/>
<line x1="940.3" y1="148" x2="940.3" y2="575"/>
<line x1="970.5" y1="148" x2="970.5" y2="575"/>
<line x1="120" y1="177.7" x2="976" y2="177.7"/>
<line x1="120" y1="207.9" x2="976" y2="207.9"/>
<line x1="120" y1="238.1" x2="976" y2="238.1"/>
<line x1="120" y1="268.3" x2="976" y2="268.3"/>
<line x1="120" y1="298.5" x2="976" y2="298.5"/>
<line x1="120" y1="328.7" x2="976" y2="328.7"/>
<line x1="120" y1="358.9" x2="976" y2="358.9"/>
<line x1="120" y1="389.1" x2="976" y2="389.1"/>
<line x1="120" y1="419.3" x2="976" y2="419.3"/>
<line x1="120" y1="449.5" x2="976" y2="449.5"/>
<line x1="120" y1="479.6" x2="976" y2="479.6"/>
<line x1="120" y1="509.8" x2="976" y2="509.8"/>
<line x1="120" y1="540.0" x2="976" y2="540.0"/>
<line x1="120" y1="570.2" x2="976" y2="570.2"/>
</g>
<g stroke="#fff" stroke-opacity="0.33" stroke-width="1.2">
<line x1="125.1" y1="148" x2="125.1" y2="575"/>
<line x1="155.3" y1="148" x2="155.3" y2="575"/>
<line x1="185.5" y1="148" x2="185.5" y2="575"/>
<line x1="215.7" y1="148" x2="215.7" y2="575"/>
<line x1="245.9" y1="148" x2="245.9" y2="575"/>
<line x1="276.1" y1="148" x2="276.1" y2="575"/>
<line x1="306.3" y1="148" x2="306.3" y2="575"/>
<line x1="336.5" y1="148" x2="336.5" y2="575"/>
<line x1="366.7" y1="148" x2="366.7" y2="575"/>
<line x1="396.8" y1="148" x2="396.8" y2="575"/>
<line x1="427.0" y1="148" x2="427.0" y2="575"/>
<line x1="457.2" y1="148" x2="457.2" y2="575"/>
<line x1="487.4" y1="148" x2="487.4" y2="575"/>
<line x1="517.6" y1="148" x2="517.6" y2="575"/>
<line x1="578.0" y1="148" x2="578.0" y2="575"/>
<line x1="608.2" y1="148" x2="608.2" y2="575"/>
<line x1="638.4" y1="148" x2="638.4" y2="575"/>
<line x1="668.6" y1="148" x2="668.6" y2="575"/>
<line x1="698.8" y1="148" x2="698.8" y2="575"/>
<line x1="728.9" y1="148" x2="728.9" y2="575"/>
<line x1="759.1" y1="148" x2="759.1" y2="575"/>
<line x1="789.3" y1="148" x2="789.3" y2="575"/>
<line x1="819.5" y1="148" x2="819.5" y2="575"/>
<line x1="849.7" y1="148" x2="849.7" y2="575"/>
<line x1="879.9" y1="148" x2="879.9" y2="575"/>
<line x1="910.1" y1="148" x2="910.1" y2="575"/>
<line x1="940.3" y1="148" x2="940.3" y2="575"/>
<line x1="970.5" y1="148" x2="970.5" y2="575"/>
<line x1="120" y1="177.7" x2="976" y2="177.7"/>
<line x1="120" y1="207.9" x2="976" y2="207.9"/>
<line x1="120" y1="238.1" x2="976" y2="238.1"/>
<line x1="120" y1="268.3" x2="976" y2="268.3"/>
<line x1="120" y1="298.5" x2="976" y2="298.5"/>
<line x1="120" y1="328.7" x2="976" y2="328.7"/>
<line x1="120" y1="358.9" x2="976" y2="358.9"/>
<line x1="120" y1="389.1" x2="976" y2="389.1"/>
<line x1="120" y1="419.3" x2="976" y2="419.3"/>
<line x1="120" y1="449.5" x2="976" y2="449.5"/>
<line x1="120" y1="479.6" x2="976" y2="479.6"/>
<line x1="120" y1="509.8" x2="976" y2="509.8"/>
<line x1="120" y1="540.0" x2="976" y2="540.0"/>
<line x1="120" y1="570.2" x2="976" y2="570.2"/>
</g>
</g></g>
<line x1="123.6" y1="148.75" x2="972" y2="148.75" stroke="#1d1a1b" stroke-width="1.9"/>
<line x1="547.8" y1="148" x2="547.8" y2="569.5" stroke="#231f20" stroke-width="5.2"/>
<g fill="none" stroke="#737476" stroke-width="3.8" clip-path="url(#below)">
<path d="M464.4 147.3 A83.3 83.3 0 0 0 631.0 147.3"/>
<path d="M379.5 147.3 A168.2 168.2 0 0 0 715.9 147.3"/>
<path d="M294.6 147.3 A253.1 253.1 0 0 0 800.8 147.3"/>
<path d="M210.0 147.3 A337.7 337.7 0 0 0 885.4 147.3"/>
<path d="M125.2 147.3 A422.5 422.5 0 0 0 970.2 147.3" stroke-width="3.9"/>
</g>
<g class="ax"><text x="110.4" y="146.5" textLength="30.7" lengthAdjust="spacingAndGlyphs">-100</text><text x="195.8" y="146.5" textLength="22.2" lengthAdjust="spacingAndGlyphs">-80</text><text x="283.1" y="146.5" textLength="22.2" lengthAdjust="spacingAndGlyphs">-60</text><text x="370.9" y="146.5" textLength="22.2" lengthAdjust="spacingAndGlyphs">-40</text><text x="459.8" y="146.5" textLength="22.2" lengthAdjust="spacingAndGlyphs">-20</text><text x="620.0" y="146.5" textLength="26.0" lengthAdjust="spacingAndGlyphs">+20</text><text x="707.3" y="146.5" textLength="26.0" lengthAdjust="spacingAndGlyphs">+40</text><text x="791.1" y="146.5" textLength="26.0" lengthAdjust="spacingAndGlyphs">+60</text><text x="879.7" y="146.5" textLength="26.0" lengthAdjust="spacingAndGlyphs">+80</text><text x="966.4" y="146.5" textLength="34.6" lengthAdjust="spacingAndGlyphs">+100</text><text x="521.4" y="244.7" textLength="22.2" lengthAdjust="spacingAndGlyphs">-20</text><text x="521.4" y="330.3" textLength="22.2" lengthAdjust="spacingAndGlyphs">-40</text><text x="521.4" y="414.6" textLength="22.2" lengthAdjust="spacingAndGlyphs">-60</text><text x="508.7" y="508.6" textLength="33.3" lengthAdjust="spacingAndGlyphs" style="font-size:24.8px">-80</text><text x="518.6" y="584.5" textLength="30.7" lengthAdjust="spacingAndGlyphs">-100</text>
</g>
<g class="pb" fill="none" stroke="#000" stroke-opacity="0.6" stroke-width="0.5">
<line x1="84" y1="265.4" x2="462" y2="266.2" stroke-dasharray="3.5 3"/>
<line x1="81.4" y1="259" x2="81.4" y2="271.5" stroke-opacity="0.3" stroke-width="0.8"/>
<circle cx="462.8" cy="266.3" r="0.85" fill="#222" stroke="none"/>
<line x1="90.5" y1="341.8" x2="445" y2="270.8" stroke-opacity="0.75"/>
<line x1="89.1" y1="337" x2="90.6" y2="348" stroke-opacity="0.3" stroke-width="0.8"/>
<circle cx="445" cy="271" r="0.85" fill="#222" stroke="none"/>
<line x1="392" y1="78.9" x2="486.5" y2="281" stroke-opacity="0.7"/>
<line x1="389.3" y1="80.8" x2="394.6" y2="78.2" stroke-opacity="0.45" stroke-width="0.8"/>
<circle cx="486.5" cy="281" r="0.85" fill="#222" stroke="none"/>
<line x1="428.4" y1="68.4" x2="488.2" y2="278" stroke-dasharray="3.5 3"/>
<line x1="422.9" y1="69.6" x2="434.2" y2="66.8" stroke-opacity="0.3" stroke-width="0.8"/>
<circle cx="488.2" cy="278" r="0.85" fill="#222" stroke="none"/>
<line x1="521.9" y1="66.6" x2="526.2" y2="248.4" stroke-opacity="0.7"/>
<line x1="515" y1="66.6" x2="526.6" y2="66.6" stroke-opacity="0.3" stroke-width="0.8"/>
<circle cx="526.3" cy="248.6" r="0.85" fill="#222" stroke="none"/>
<g stroke="#111" stroke-width="0.35" fill="#111" stroke-opacity="1">
<text x="30.6" y="270.3" textLength="49.4" lengthAdjust="spacingAndGlyphs">PB15:3</text>
<text transform="translate(40.2,358.6) rotate(-11.6)" textLength="49.4" lengthAdjust="spacingAndGlyphs">PB15:4</text>
<text transform="translate(362.5,38.4) rotate(63.5)" textLength="49.4" lengthAdjust="spacingAndGlyphs">PB15:1</text>
<text transform="translate(407.2,18.8) rotate(73.5)" textLength="49.4" lengthAdjust="spacingAndGlyphs">PB15:0</text>
<text transform="translate(515.3,28.8) rotate(90)" textLength="36" lengthAdjust="spacingAndGlyphs">PB60</text>
</g>
</g>
</svg>
</body></html>
